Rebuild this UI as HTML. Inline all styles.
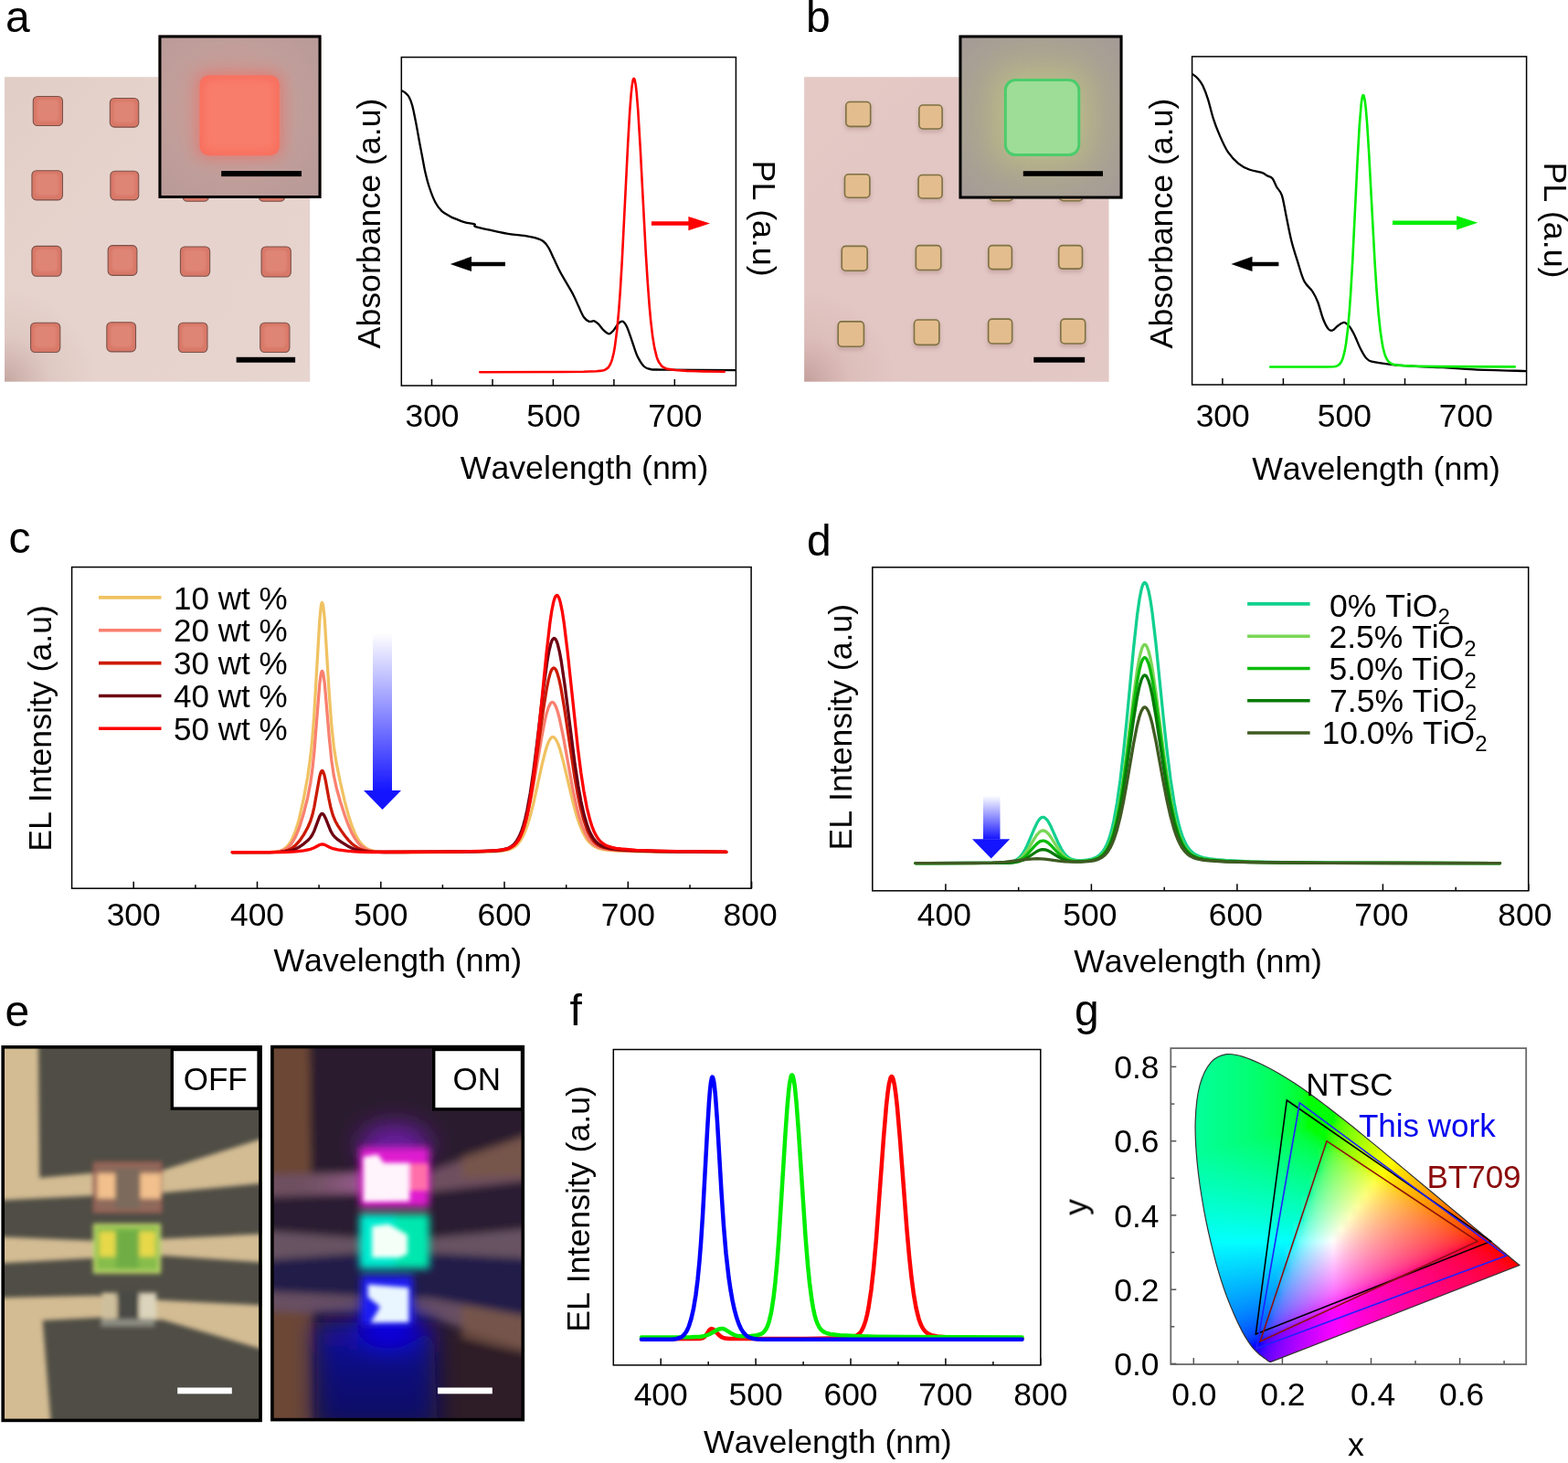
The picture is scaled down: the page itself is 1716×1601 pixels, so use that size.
<!DOCTYPE html>
<html><head><meta charset="utf-8"><title>Figure</title>
<style>
html,body{margin:0;padding:0;background:#fff;}
body{width:1716px;height:1601px;overflow:hidden;}
svg{display:block;}
text{font-family:'Liberation Sans', Arial, Helvetica, sans-serif;font-kerning:none;}
</style></head><body>
<svg width="1716" height="1601" viewBox="0 0 1716 1601">
<defs>
<filter id="bl1" x="-20%" y="-20%" width="140%" height="140%"><feGaussianBlur stdDeviation="1"/></filter>
<filter id="bl2" x="-30%" y="-30%" width="160%" height="160%"><feGaussianBlur stdDeviation="2"/></filter>
<filter id="bl4" x="-50%" y="-50%" width="200%" height="200%"><feGaussianBlur stdDeviation="4"/></filter>
<filter id="bl8" x="-50%" y="-50%" width="200%" height="200%"><feGaussianBlur stdDeviation="8"/></filter>
<filter id="bl15" x="-80%" y="-80%" width="260%" height="260%"><feGaussianBlur stdDeviation="15"/></filter>
<linearGradient id="arrowc" x1="0" y1="0" x2="0" y2="1"><stop offset="0" stop-color="#2020ff" stop-opacity="0"/><stop offset="1" stop-color="#1414ff" stop-opacity="1"/></linearGradient>
<radialGradient id="vigA" cx="0" cy="1" r="0.3"><stop offset="0" stop-color="#8a5550" stop-opacity="0.35"/><stop offset="0.5" stop-color="#a06a66" stop-opacity="0.1"/><stop offset="1" stop-color="#a06a66" stop-opacity="0"/></radialGradient>
<linearGradient id="photoAgrad" x1="0" y1="0" x2="1" y2="1"><stop offset="0" stop-color="#dccabf" stop-opacity="0.6"/><stop offset="0.5" stop-color="#e6d3cc" stop-opacity="0"/><stop offset="1" stop-color="#e8d6d0" stop-opacity="0.6"/></linearGradient>
<radialGradient id="insAg" cx="0.45" cy="0.45" r="0.7"><stop offset="0" stop-color="#d09a94"/><stop offset="0.6" stop-color="#c09e9a"/><stop offset="1" stop-color="#b89a98"/></radialGradient>
<linearGradient id="photoBgrad" x1="0" y1="0" x2="1" y2="1"><stop offset="0" stop-color="#e6cdc8" stop-opacity="0.6"/><stop offset="0.5" stop-color="#dfc3c1" stop-opacity="0"/><stop offset="1" stop-color="#e3cbc8" stop-opacity="0.6"/></linearGradient>
<radialGradient id="insBg" cx="0.5" cy="0.5" r="0.7"><stop offset="0" stop-color="#b9b48e"/><stop offset="0.45" stop-color="#aca68f"/><stop offset="1" stop-color="#a59a98"/></radialGradient>
<linearGradient id="blueglow" x1="0" y1="0" x2="0" y2="1"><stop offset="0" stop-color="#1408a8"/><stop offset="0.4" stop-color="#100a80"/><stop offset="1" stop-color="#0e0a5e"/></linearGradient>
<linearGradient id="pinkband" gradientUnits="userSpaceOnUse" x1="100" y1="0" x2="400" y2="0"><stop offset="0" stop-color="#6e5060" stop-opacity="0"/><stop offset="1" stop-color="#9a5a90"/></linearGradient>
<filter id="bz6" x="-50%" y="-50%" width="200%" height="200%"><feGaussianBlur stdDeviation="6"/></filter>
<filter id="bz10" x="-50%" y="-50%" width="200%" height="200%"><feGaussianBlur stdDeviation="10"/></filter>
<filter id="bz16" x="-50%" y="-50%" width="200%" height="200%"><feGaussianBlur stdDeviation="16"/></filter>
<filter id="bz28" x="-50%" y="-50%" width="200%" height="200%"><feGaussianBlur stdDeviation="28"/></filter>
<filter id="bz50" x="-50%" y="-50%" width="200%" height="200%"><feGaussianBlur stdDeviation="50"/></filter>
<clipPath id="cieclip"><path d="M1390.8 1490.4 C1390.8 1490.4 1390.8 1490.4 1390.8 1490.4 C1390.8 1490.4 1390.7 1490.4 1390.7 1490.4 C1390.6 1490.4 1390.6 1490.4 1390.6 1490.4 C1390.5 1490.4 1390.5 1490.4 1390.4 1490.5 C1390.4 1490.5 1390.3 1490.5 1390.3 1490.5 C1390.2 1490.5 1390.2 1490.5 1390.1 1490.5 C1390 1490.5 1390 1490.5 1389.9 1490.5 C1389.8 1490.4 1389.7 1490.4 1389.5 1490.3 C1389.4 1490.3 1389.2 1490.2 1389 1490 C1388.8 1489.9 1388.6 1489.8 1388.3 1489.6 C1388 1489.4 1387.7 1489.2 1387.3 1488.9 C1387 1488.6 1386.6 1488.3 1386.1 1488 C1385.6 1487.6 1385.1 1487.3 1384.5 1486.8 C1383.9 1486.3 1383.1 1485.8 1382.3 1485.2 C1381.5 1484.6 1380.6 1484 1379.6 1483.2 C1378.6 1482.4 1377.5 1481.5 1376.2 1480.3 C1375 1479.2 1373.7 1478.1 1372.1 1476.2 C1370.5 1474.3 1368.6 1472.1 1366.6 1468.9 C1364.5 1465.7 1362.2 1462.2 1359.5 1457.1 C1356.9 1452.1 1353.9 1446.2 1350.6 1438.5 C1347.3 1430.8 1343.4 1421.9 1339.7 1410.9 C1335.9 1399.9 1332 1386.9 1328.3 1372.6 C1324.7 1358.2 1320.7 1341.2 1317.7 1324.8 C1314.7 1308.3 1311.9 1290.1 1310.3 1273.7 C1308.7 1257.3 1307.7 1240.8 1308.2 1226.4 C1308.7 1212.1 1310.2 1198.3 1313 1187.7 C1315.9 1177 1320.3 1168.2 1325.2 1162.6 C1330.1 1156.9 1336.3 1154.7 1342.4 1153.7 C1348.5 1152.7 1355.2 1154.9 1361.7 1156.8 C1368.2 1158.7 1375 1162 1381.4 1165 C1387.8 1168.1 1393.9 1171.4 1400 1174.9 C1406 1178.4 1411.9 1182.1 1417.8 1186 C1423.7 1189.9 1429.5 1194 1435.3 1198.2 C1441.2 1202.4 1446.9 1206.8 1452.7 1211.2 C1458.5 1215.6 1464.3 1220.2 1470.1 1224.8 C1475.8 1229.3 1481.7 1234 1487.4 1238.7 C1493.2 1243.4 1499 1248.2 1504.7 1252.9 C1510.5 1257.6 1516.2 1262.4 1521.9 1267.1 C1527.6 1271.8 1533.2 1276.5 1538.8 1281.1 C1544.3 1285.7 1549.8 1290.3 1555.1 1294.7 C1560.5 1299.2 1565.7 1303.6 1570.8 1307.8 C1575.9 1312 1580.9 1316.2 1585.6 1320.1 C1590.3 1324 1594.8 1327.8 1599 1331.3 C1603.2 1334.8 1607 1338 1610.7 1341.1 C1614.4 1344.1 1617.9 1347.1 1621 1349.7 C1624.1 1352.3 1627 1354.6 1629.5 1356.7 C1632.1 1358.9 1634.4 1360.8 1636.5 1362.5 C1638.6 1364.3 1640.4 1365.8 1642 1367.2 C1643.7 1368.5 1645.1 1369.7 1646.4 1370.8 C1647.8 1371.9 1648.9 1372.9 1650 1373.8 C1651.1 1374.7 1652 1375.5 1652.9 1376.3 C1653.8 1377 1654.6 1377.7 1655.4 1378.3 C1656.1 1378.9 1656.8 1379.4 1657.3 1379.9 C1657.9 1380.3 1658.3 1380.7 1658.8 1381.1 C1659.2 1381.5 1659.6 1381.8 1659.9 1382 C1660.2 1382.3 1660.5 1382.5 1660.7 1382.7 C1660.9 1382.9 1661.1 1383 1661.2 1383.2 C1661.4 1383.3 1661.5 1383.4 1661.7 1383.5 C1661.9 1383.7 1662.1 1383.9 1662.4 1384.1 C1662.6 1384.3 1662.9 1384.5 1663 1384.6 Z"/></clipPath>
<linearGradient id="cg0" gradientUnits="userSpaceOnUse" x1="1306.3" y1="0" x2="1665.6" y2="0"><stop offset="0.000" stop-color="#00ff99"/><stop offset="0.025" stop-color="#00ff94"/><stop offset="0.050" stop-color="#00ff8f"/><stop offset="0.075" stop-color="#00ff89"/><stop offset="0.100" stop-color="#00ff84"/><stop offset="0.125" stop-color="#00ff7d"/><stop offset="0.150" stop-color="#00ff77"/><stop offset="0.175" stop-color="#00ff70"/><stop offset="0.200" stop-color="#00ff68"/><stop offset="0.225" stop-color="#00ff5f"/><stop offset="0.250" stop-color="#00ff56"/><stop offset="0.275" stop-color="#00ff4b"/><stop offset="0.300" stop-color="#00ff3d"/><stop offset="0.325" stop-color="#00ff2b"/><stop offset="0.350" stop-color="#00ff04"/><stop offset="0.375" stop-color="#00ff00"/><stop offset="0.400" stop-color="#00ff00"/><stop offset="0.425" stop-color="#00ff00"/><stop offset="0.450" stop-color="#00ff00"/><stop offset="0.475" stop-color="#00ff00"/><stop offset="0.500" stop-color="#1fff00"/><stop offset="0.525" stop-color="#4cff00"/><stop offset="0.550" stop-color="#66ff00"/><stop offset="0.575" stop-color="#7aff00"/><stop offset="0.600" stop-color="#8bff00"/><stop offset="0.625" stop-color="#9bff00"/><stop offset="0.650" stop-color="#a9ff00"/><stop offset="0.675" stop-color="#b6ff00"/><stop offset="0.700" stop-color="#c2ff00"/><stop offset="0.725" stop-color="#ceff00"/><stop offset="0.750" stop-color="#daff00"/><stop offset="0.775" stop-color="#e5ff00"/><stop offset="0.800" stop-color="#efff00"/><stop offset="0.825" stop-color="#faff00"/><stop offset="0.850" stop-color="#fffa00"/><stop offset="0.875" stop-color="#fff000"/><stop offset="0.900" stop-color="#ffe800"/><stop offset="0.925" stop-color="#ffdf00"/><stop offset="0.950" stop-color="#ffd800"/><stop offset="0.975" stop-color="#ffd100"/><stop offset="1.000" stop-color="#ffca00"/></linearGradient>
<linearGradient id="cg1" gradientUnits="userSpaceOnUse" x1="1306.3" y1="0" x2="1665.6" y2="0"><stop offset="0.000" stop-color="#00ff99"/><stop offset="0.025" stop-color="#00ff94"/><stop offset="0.050" stop-color="#00ff8f"/><stop offset="0.075" stop-color="#00ff89"/><stop offset="0.100" stop-color="#00ff84"/><stop offset="0.125" stop-color="#00ff7d"/><stop offset="0.150" stop-color="#00ff77"/><stop offset="0.175" stop-color="#00ff70"/><stop offset="0.200" stop-color="#00ff68"/><stop offset="0.225" stop-color="#00ff5f"/><stop offset="0.250" stop-color="#00ff56"/><stop offset="0.275" stop-color="#00ff4b"/><stop offset="0.300" stop-color="#00ff3d"/><stop offset="0.325" stop-color="#00ff2b"/><stop offset="0.350" stop-color="#00ff04"/><stop offset="0.375" stop-color="#00ff00"/><stop offset="0.400" stop-color="#00ff00"/><stop offset="0.425" stop-color="#00ff00"/><stop offset="0.450" stop-color="#00ff00"/><stop offset="0.475" stop-color="#00ff00"/><stop offset="0.500" stop-color="#27ff00"/><stop offset="0.525" stop-color="#50ff00"/><stop offset="0.550" stop-color="#69ff00"/><stop offset="0.575" stop-color="#7dff00"/><stop offset="0.600" stop-color="#8eff00"/><stop offset="0.625" stop-color="#9dff00"/><stop offset="0.650" stop-color="#abff00"/><stop offset="0.675" stop-color="#b8ff00"/><stop offset="0.700" stop-color="#c5ff00"/><stop offset="0.725" stop-color="#d0ff00"/><stop offset="0.750" stop-color="#dcff00"/><stop offset="0.775" stop-color="#e7ff00"/><stop offset="0.800" stop-color="#f2ff00"/><stop offset="0.825" stop-color="#fcff00"/><stop offset="0.850" stop-color="#fff700"/><stop offset="0.875" stop-color="#ffee00"/><stop offset="0.900" stop-color="#ffe500"/><stop offset="0.925" stop-color="#ffdd00"/><stop offset="0.950" stop-color="#ffd600"/><stop offset="0.975" stop-color="#ffcf00"/><stop offset="1.000" stop-color="#ffc800"/></linearGradient>
<linearGradient id="cg2" gradientUnits="userSpaceOnUse" x1="1306.3" y1="0" x2="1665.6" y2="0"><stop offset="0.000" stop-color="#00ff99"/><stop offset="0.025" stop-color="#00ff94"/><stop offset="0.050" stop-color="#00ff8f"/><stop offset="0.075" stop-color="#00ff89"/><stop offset="0.100" stop-color="#00ff84"/><stop offset="0.125" stop-color="#00ff7d"/><stop offset="0.150" stop-color="#00ff77"/><stop offset="0.175" stop-color="#00ff70"/><stop offset="0.200" stop-color="#00ff68"/><stop offset="0.225" stop-color="#00ff5f"/><stop offset="0.250" stop-color="#00ff56"/><stop offset="0.275" stop-color="#00ff4b"/><stop offset="0.300" stop-color="#00ff3d"/><stop offset="0.325" stop-color="#00ff2b"/><stop offset="0.350" stop-color="#00ff04"/><stop offset="0.375" stop-color="#00ff00"/><stop offset="0.400" stop-color="#00ff00"/><stop offset="0.425" stop-color="#00ff00"/><stop offset="0.450" stop-color="#00ff00"/><stop offset="0.475" stop-color="#00ff00"/><stop offset="0.500" stop-color="#2eff00"/><stop offset="0.525" stop-color="#53ff00"/><stop offset="0.550" stop-color="#6cff00"/><stop offset="0.575" stop-color="#7fff00"/><stop offset="0.600" stop-color="#90ff00"/><stop offset="0.625" stop-color="#a0ff00"/><stop offset="0.650" stop-color="#adff00"/><stop offset="0.675" stop-color="#bbff00"/><stop offset="0.700" stop-color="#c7ff00"/><stop offset="0.725" stop-color="#d3ff00"/><stop offset="0.750" stop-color="#deff00"/><stop offset="0.775" stop-color="#e9ff00"/><stop offset="0.800" stop-color="#f4ff00"/><stop offset="0.825" stop-color="#ffff00"/><stop offset="0.850" stop-color="#fff500"/><stop offset="0.875" stop-color="#ffec00"/><stop offset="0.900" stop-color="#ffe300"/><stop offset="0.925" stop-color="#ffdb00"/><stop offset="0.950" stop-color="#ffd400"/><stop offset="0.975" stop-color="#ffcd00"/><stop offset="1.000" stop-color="#ffc600"/></linearGradient>
<linearGradient id="cg3" gradientUnits="userSpaceOnUse" x1="1306.3" y1="0" x2="1665.6" y2="0"><stop offset="0.000" stop-color="#00ff99"/><stop offset="0.025" stop-color="#00ff94"/><stop offset="0.050" stop-color="#00ff8f"/><stop offset="0.075" stop-color="#00ff89"/><stop offset="0.100" stop-color="#00ff84"/><stop offset="0.125" stop-color="#00ff7d"/><stop offset="0.150" stop-color="#00ff77"/><stop offset="0.175" stop-color="#00ff70"/><stop offset="0.200" stop-color="#00ff68"/><stop offset="0.225" stop-color="#00ff5f"/><stop offset="0.250" stop-color="#00ff56"/><stop offset="0.275" stop-color="#00ff4b"/><stop offset="0.300" stop-color="#00ff3d"/><stop offset="0.325" stop-color="#00ff2b"/><stop offset="0.350" stop-color="#00ff04"/><stop offset="0.375" stop-color="#00ff00"/><stop offset="0.400" stop-color="#00ff00"/><stop offset="0.425" stop-color="#00ff00"/><stop offset="0.450" stop-color="#00ff00"/><stop offset="0.475" stop-color="#00ff00"/><stop offset="0.500" stop-color="#34ff00"/><stop offset="0.525" stop-color="#57ff00"/><stop offset="0.550" stop-color="#6fff00"/><stop offset="0.575" stop-color="#82ff00"/><stop offset="0.600" stop-color="#93ff00"/><stop offset="0.625" stop-color="#a2ff00"/><stop offset="0.650" stop-color="#b0ff00"/><stop offset="0.675" stop-color="#bdff00"/><stop offset="0.700" stop-color="#c9ff00"/><stop offset="0.725" stop-color="#d5ff00"/><stop offset="0.750" stop-color="#e1ff00"/><stop offset="0.775" stop-color="#ecff00"/><stop offset="0.800" stop-color="#f7ff00"/><stop offset="0.825" stop-color="#fffd00"/><stop offset="0.850" stop-color="#fff300"/><stop offset="0.875" stop-color="#ffe900"/><stop offset="0.900" stop-color="#ffe100"/><stop offset="0.925" stop-color="#ffd900"/><stop offset="0.950" stop-color="#ffd200"/><stop offset="0.975" stop-color="#ffcb00"/><stop offset="1.000" stop-color="#ffc400"/></linearGradient>
<linearGradient id="cg4" gradientUnits="userSpaceOnUse" x1="1306.3" y1="0" x2="1665.6" y2="0"><stop offset="0.000" stop-color="#00ff99"/><stop offset="0.025" stop-color="#00ff94"/><stop offset="0.050" stop-color="#00ff8f"/><stop offset="0.075" stop-color="#00ff89"/><stop offset="0.100" stop-color="#00ff84"/><stop offset="0.125" stop-color="#00ff7d"/><stop offset="0.150" stop-color="#00ff77"/><stop offset="0.175" stop-color="#00ff70"/><stop offset="0.200" stop-color="#00ff68"/><stop offset="0.225" stop-color="#00ff5f"/><stop offset="0.250" stop-color="#00ff56"/><stop offset="0.275" stop-color="#00ff4b"/><stop offset="0.300" stop-color="#00ff3d"/><stop offset="0.325" stop-color="#00ff2b"/><stop offset="0.350" stop-color="#00ff04"/><stop offset="0.375" stop-color="#00ff00"/><stop offset="0.400" stop-color="#00ff00"/><stop offset="0.425" stop-color="#00ff00"/><stop offset="0.450" stop-color="#00ff00"/><stop offset="0.475" stop-color="#00ff00"/><stop offset="0.500" stop-color="#39ff00"/><stop offset="0.525" stop-color="#5aff00"/><stop offset="0.550" stop-color="#72ff00"/><stop offset="0.575" stop-color="#85ff00"/><stop offset="0.600" stop-color="#95ff00"/><stop offset="0.625" stop-color="#a4ff00"/><stop offset="0.650" stop-color="#b2ff00"/><stop offset="0.675" stop-color="#bfff00"/><stop offset="0.700" stop-color="#ccff00"/><stop offset="0.725" stop-color="#d8ff00"/><stop offset="0.750" stop-color="#e3ff00"/><stop offset="0.775" stop-color="#eeff00"/><stop offset="0.800" stop-color="#f9ff00"/><stop offset="0.825" stop-color="#fffa00"/><stop offset="0.850" stop-color="#fff000"/><stop offset="0.875" stop-color="#ffe700"/><stop offset="0.900" stop-color="#ffdf00"/><stop offset="0.925" stop-color="#ffd700"/><stop offset="0.950" stop-color="#ffd000"/><stop offset="0.975" stop-color="#ffc900"/><stop offset="1.000" stop-color="#ffc200"/></linearGradient>
<linearGradient id="cg5" gradientUnits="userSpaceOnUse" x1="1306.3" y1="0" x2="1665.6" y2="0"><stop offset="0.000" stop-color="#00ff99"/><stop offset="0.025" stop-color="#00ff94"/><stop offset="0.050" stop-color="#00ff8f"/><stop offset="0.075" stop-color="#00ff89"/><stop offset="0.100" stop-color="#00ff84"/><stop offset="0.125" stop-color="#00ff7d"/><stop offset="0.150" stop-color="#00ff77"/><stop offset="0.175" stop-color="#00ff70"/><stop offset="0.200" stop-color="#00ff68"/><stop offset="0.225" stop-color="#00ff5f"/><stop offset="0.250" stop-color="#00ff56"/><stop offset="0.275" stop-color="#00ff4b"/><stop offset="0.300" stop-color="#00ff3d"/><stop offset="0.325" stop-color="#00ff2b"/><stop offset="0.350" stop-color="#00ff04"/><stop offset="0.375" stop-color="#00ff00"/><stop offset="0.400" stop-color="#00ff00"/><stop offset="0.425" stop-color="#00ff00"/><stop offset="0.450" stop-color="#00ff00"/><stop offset="0.475" stop-color="#00ff00"/><stop offset="0.500" stop-color="#3eff00"/><stop offset="0.525" stop-color="#5eff00"/><stop offset="0.550" stop-color="#74ff00"/><stop offset="0.575" stop-color="#87ff00"/><stop offset="0.600" stop-color="#98ff00"/><stop offset="0.625" stop-color="#a7ff00"/><stop offset="0.650" stop-color="#b5ff00"/><stop offset="0.675" stop-color="#c2ff00"/><stop offset="0.700" stop-color="#ceff00"/><stop offset="0.725" stop-color="#daff00"/><stop offset="0.750" stop-color="#e6ff00"/><stop offset="0.775" stop-color="#f1ff00"/><stop offset="0.800" stop-color="#fcff00"/><stop offset="0.825" stop-color="#fff700"/><stop offset="0.850" stop-color="#ffee00"/><stop offset="0.875" stop-color="#ffe500"/><stop offset="0.900" stop-color="#ffdc00"/><stop offset="0.925" stop-color="#ffd500"/><stop offset="0.950" stop-color="#ffcd00"/><stop offset="0.975" stop-color="#ffc700"/><stop offset="1.000" stop-color="#ffc000"/></linearGradient>
<linearGradient id="cg6" gradientUnits="userSpaceOnUse" x1="1306.3" y1="0" x2="1665.6" y2="0"><stop offset="0.000" stop-color="#00ff99"/><stop offset="0.025" stop-color="#00ff94"/><stop offset="0.050" stop-color="#00ff8f"/><stop offset="0.075" stop-color="#00ff89"/><stop offset="0.100" stop-color="#00ff84"/><stop offset="0.125" stop-color="#00ff7d"/><stop offset="0.150" stop-color="#00ff77"/><stop offset="0.175" stop-color="#00ff70"/><stop offset="0.200" stop-color="#00ff68"/><stop offset="0.225" stop-color="#00ff5f"/><stop offset="0.250" stop-color="#00ff56"/><stop offset="0.275" stop-color="#00ff4b"/><stop offset="0.300" stop-color="#00ff3d"/><stop offset="0.325" stop-color="#00ff2b"/><stop offset="0.350" stop-color="#00ff04"/><stop offset="0.375" stop-color="#00ff00"/><stop offset="0.400" stop-color="#00ff00"/><stop offset="0.425" stop-color="#00ff00"/><stop offset="0.450" stop-color="#00ff00"/><stop offset="0.475" stop-color="#00ff00"/><stop offset="0.500" stop-color="#43ff00"/><stop offset="0.525" stop-color="#61ff00"/><stop offset="0.550" stop-color="#77ff00"/><stop offset="0.575" stop-color="#8aff00"/><stop offset="0.600" stop-color="#9aff00"/><stop offset="0.625" stop-color="#a9ff00"/><stop offset="0.650" stop-color="#b7ff00"/><stop offset="0.675" stop-color="#c4ff00"/><stop offset="0.700" stop-color="#d1ff00"/><stop offset="0.725" stop-color="#dcff00"/><stop offset="0.750" stop-color="#e8ff00"/><stop offset="0.775" stop-color="#f3ff00"/><stop offset="0.800" stop-color="#ffff00"/><stop offset="0.825" stop-color="#fff500"/><stop offset="0.850" stop-color="#ffeb00"/><stop offset="0.875" stop-color="#ffe200"/><stop offset="0.900" stop-color="#ffda00"/><stop offset="0.925" stop-color="#ffd300"/><stop offset="0.950" stop-color="#ffcb00"/><stop offset="0.975" stop-color="#ffc500"/><stop offset="1.000" stop-color="#ffbe00"/></linearGradient>
<linearGradient id="cg7" gradientUnits="userSpaceOnUse" x1="1306.3" y1="0" x2="1665.6" y2="0"><stop offset="0.000" stop-color="#00ff99"/><stop offset="0.025" stop-color="#00ff94"/><stop offset="0.050" stop-color="#00ff8f"/><stop offset="0.075" stop-color="#00ff89"/><stop offset="0.100" stop-color="#00ff84"/><stop offset="0.125" stop-color="#00ff7d"/><stop offset="0.150" stop-color="#00ff77"/><stop offset="0.175" stop-color="#00ff70"/><stop offset="0.200" stop-color="#00ff68"/><stop offset="0.225" stop-color="#00ff5f"/><stop offset="0.250" stop-color="#00ff56"/><stop offset="0.275" stop-color="#00ff4b"/><stop offset="0.300" stop-color="#00ff3d"/><stop offset="0.325" stop-color="#00ff2b"/><stop offset="0.350" stop-color="#00ff04"/><stop offset="0.375" stop-color="#00ff00"/><stop offset="0.400" stop-color="#00ff00"/><stop offset="0.425" stop-color="#00ff00"/><stop offset="0.450" stop-color="#00ff00"/><stop offset="0.475" stop-color="#02ff00"/><stop offset="0.500" stop-color="#47ff00"/><stop offset="0.525" stop-color="#64ff00"/><stop offset="0.550" stop-color="#7aff00"/><stop offset="0.575" stop-color="#8cff00"/><stop offset="0.600" stop-color="#9dff00"/><stop offset="0.625" stop-color="#acff00"/><stop offset="0.650" stop-color="#b9ff00"/><stop offset="0.675" stop-color="#c6ff00"/><stop offset="0.700" stop-color="#d3ff00"/><stop offset="0.725" stop-color="#dfff00"/><stop offset="0.750" stop-color="#ebff00"/><stop offset="0.775" stop-color="#f6ff00"/><stop offset="0.800" stop-color="#fffd00"/><stop offset="0.825" stop-color="#fff200"/><stop offset="0.850" stop-color="#ffe900"/><stop offset="0.875" stop-color="#ffe000"/><stop offset="0.900" stop-color="#ffd800"/><stop offset="0.925" stop-color="#ffd000"/><stop offset="0.950" stop-color="#ffc900"/><stop offset="0.975" stop-color="#ffc300"/><stop offset="1.000" stop-color="#ffbc00"/></linearGradient>
<linearGradient id="cg8" gradientUnits="userSpaceOnUse" x1="1306.3" y1="0" x2="1665.6" y2="0"><stop offset="0.000" stop-color="#00ff99"/><stop offset="0.025" stop-color="#00ff94"/><stop offset="0.050" stop-color="#00ff8f"/><stop offset="0.075" stop-color="#00ff89"/><stop offset="0.100" stop-color="#00ff84"/><stop offset="0.125" stop-color="#00ff7d"/><stop offset="0.150" stop-color="#00ff77"/><stop offset="0.175" stop-color="#00ff70"/><stop offset="0.200" stop-color="#00ff68"/><stop offset="0.225" stop-color="#00ff5f"/><stop offset="0.250" stop-color="#00ff56"/><stop offset="0.275" stop-color="#00ff4b"/><stop offset="0.300" stop-color="#00ff3d"/><stop offset="0.325" stop-color="#00ff2b"/><stop offset="0.350" stop-color="#00ff04"/><stop offset="0.375" stop-color="#00ff00"/><stop offset="0.400" stop-color="#00ff00"/><stop offset="0.425" stop-color="#00ff00"/><stop offset="0.450" stop-color="#00ff00"/><stop offset="0.475" stop-color="#15ff00"/><stop offset="0.500" stop-color="#4bff00"/><stop offset="0.525" stop-color="#67ff00"/><stop offset="0.550" stop-color="#7dff00"/><stop offset="0.575" stop-color="#8fff00"/><stop offset="0.600" stop-color="#9fff00"/><stop offset="0.625" stop-color="#aeff00"/><stop offset="0.650" stop-color="#bcff00"/><stop offset="0.675" stop-color="#c9ff00"/><stop offset="0.700" stop-color="#d5ff00"/><stop offset="0.725" stop-color="#e2ff00"/><stop offset="0.750" stop-color="#edff00"/><stop offset="0.775" stop-color="#f9ff00"/><stop offset="0.800" stop-color="#fffa00"/><stop offset="0.825" stop-color="#fff000"/><stop offset="0.850" stop-color="#ffe600"/><stop offset="0.875" stop-color="#ffde00"/><stop offset="0.900" stop-color="#ffd600"/><stop offset="0.925" stop-color="#ffce00"/><stop offset="0.950" stop-color="#ffc700"/><stop offset="0.975" stop-color="#ffc100"/><stop offset="1.000" stop-color="#ffba00"/></linearGradient>
<linearGradient id="cg9" gradientUnits="userSpaceOnUse" x1="1306.3" y1="0" x2="1665.6" y2="0"><stop offset="0.000" stop-color="#00ff99"/><stop offset="0.025" stop-color="#00ff94"/><stop offset="0.050" stop-color="#00ff8f"/><stop offset="0.075" stop-color="#00ff89"/><stop offset="0.100" stop-color="#00ff84"/><stop offset="0.125" stop-color="#00ff7d"/><stop offset="0.150" stop-color="#00ff77"/><stop offset="0.175" stop-color="#00ff70"/><stop offset="0.200" stop-color="#00ff68"/><stop offset="0.225" stop-color="#00ff5f"/><stop offset="0.250" stop-color="#00ff56"/><stop offset="0.275" stop-color="#00ff4b"/><stop offset="0.300" stop-color="#00ff3d"/><stop offset="0.325" stop-color="#00ff2b"/><stop offset="0.350" stop-color="#00ff04"/><stop offset="0.375" stop-color="#00ff00"/><stop offset="0.400" stop-color="#00ff00"/><stop offset="0.425" stop-color="#00ff00"/><stop offset="0.450" stop-color="#00ff00"/><stop offset="0.475" stop-color="#20ff00"/><stop offset="0.500" stop-color="#4fff00"/><stop offset="0.525" stop-color="#6bff00"/><stop offset="0.550" stop-color="#80ff00"/><stop offset="0.575" stop-color="#92ff00"/><stop offset="0.600" stop-color="#a2ff00"/><stop offset="0.625" stop-color="#b1ff00"/><stop offset="0.650" stop-color="#beff00"/><stop offset="0.675" stop-color="#cbff00"/><stop offset="0.700" stop-color="#d8ff00"/><stop offset="0.725" stop-color="#e4ff00"/><stop offset="0.750" stop-color="#f0ff00"/><stop offset="0.775" stop-color="#fbff00"/><stop offset="0.800" stop-color="#fff800"/><stop offset="0.825" stop-color="#ffed00"/><stop offset="0.850" stop-color="#ffe400"/><stop offset="0.875" stop-color="#ffdb00"/><stop offset="0.900" stop-color="#ffd300"/><stop offset="0.925" stop-color="#ffcc00"/><stop offset="0.950" stop-color="#ffc500"/><stop offset="0.975" stop-color="#ffbe00"/><stop offset="1.000" stop-color="#ffb800"/></linearGradient>
<linearGradient id="cg10" gradientUnits="userSpaceOnUse" x1="1306.3" y1="0" x2="1665.6" y2="0"><stop offset="0.000" stop-color="#00ff99"/><stop offset="0.025" stop-color="#00ff94"/><stop offset="0.050" stop-color="#00ff8f"/><stop offset="0.075" stop-color="#00ff89"/><stop offset="0.100" stop-color="#00ff84"/><stop offset="0.125" stop-color="#00ff7d"/><stop offset="0.150" stop-color="#00ff77"/><stop offset="0.175" stop-color="#00ff70"/><stop offset="0.200" stop-color="#00ff68"/><stop offset="0.225" stop-color="#00ff5f"/><stop offset="0.250" stop-color="#00ff56"/><stop offset="0.275" stop-color="#00ff4b"/><stop offset="0.300" stop-color="#00ff3d"/><stop offset="0.325" stop-color="#00ff2b"/><stop offset="0.350" stop-color="#00ff04"/><stop offset="0.375" stop-color="#00ff00"/><stop offset="0.400" stop-color="#00ff00"/><stop offset="0.425" stop-color="#00ff00"/><stop offset="0.450" stop-color="#00ff00"/><stop offset="0.475" stop-color="#29ff00"/><stop offset="0.500" stop-color="#53ff00"/><stop offset="0.525" stop-color="#6eff00"/><stop offset="0.550" stop-color="#82ff00"/><stop offset="0.575" stop-color="#94ff00"/><stop offset="0.600" stop-color="#a4ff00"/><stop offset="0.625" stop-color="#b3ff00"/><stop offset="0.650" stop-color="#c1ff00"/><stop offset="0.675" stop-color="#ceff00"/><stop offset="0.700" stop-color="#dbff00"/><stop offset="0.725" stop-color="#e7ff00"/><stop offset="0.750" stop-color="#f3ff00"/><stop offset="0.775" stop-color="#feff00"/><stop offset="0.800" stop-color="#fff500"/><stop offset="0.825" stop-color="#ffeb00"/><stop offset="0.850" stop-color="#ffe200"/><stop offset="0.875" stop-color="#ffd900"/><stop offset="0.900" stop-color="#ffd100"/><stop offset="0.925" stop-color="#ffca00"/><stop offset="0.950" stop-color="#ffc300"/><stop offset="0.975" stop-color="#ffbc00"/><stop offset="1.000" stop-color="#ffb600"/></linearGradient>
<linearGradient id="cg11" gradientUnits="userSpaceOnUse" x1="1306.3" y1="0" x2="1665.6" y2="0"><stop offset="0.000" stop-color="#00ff99"/><stop offset="0.025" stop-color="#00ff94"/><stop offset="0.050" stop-color="#00ff8f"/><stop offset="0.075" stop-color="#00ff89"/><stop offset="0.100" stop-color="#00ff84"/><stop offset="0.125" stop-color="#00ff7d"/><stop offset="0.150" stop-color="#00ff77"/><stop offset="0.175" stop-color="#00ff70"/><stop offset="0.200" stop-color="#00ff68"/><stop offset="0.225" stop-color="#00ff5f"/><stop offset="0.250" stop-color="#00ff56"/><stop offset="0.275" stop-color="#00ff4b"/><stop offset="0.300" stop-color="#00ff3d"/><stop offset="0.325" stop-color="#00ff2b"/><stop offset="0.350" stop-color="#00ff04"/><stop offset="0.375" stop-color="#00ff00"/><stop offset="0.400" stop-color="#00ff00"/><stop offset="0.425" stop-color="#00ff00"/><stop offset="0.450" stop-color="#00ff00"/><stop offset="0.475" stop-color="#30ff00"/><stop offset="0.500" stop-color="#57ff00"/><stop offset="0.525" stop-color="#71ff00"/><stop offset="0.550" stop-color="#85ff00"/><stop offset="0.575" stop-color="#97ff00"/><stop offset="0.600" stop-color="#a7ff00"/><stop offset="0.625" stop-color="#b6ff00"/><stop offset="0.650" stop-color="#c3ff00"/><stop offset="0.675" stop-color="#d1ff00"/><stop offset="0.700" stop-color="#ddff00"/><stop offset="0.725" stop-color="#e9ff00"/><stop offset="0.750" stop-color="#f5ff00"/><stop offset="0.775" stop-color="#fffd00"/><stop offset="0.800" stop-color="#fff200"/><stop offset="0.825" stop-color="#ffe800"/><stop offset="0.850" stop-color="#ffdf00"/><stop offset="0.875" stop-color="#ffd700"/><stop offset="0.900" stop-color="#ffcf00"/><stop offset="0.925" stop-color="#ffc800"/><stop offset="0.950" stop-color="#ffc100"/><stop offset="0.975" stop-color="#ffba00"/><stop offset="1.000" stop-color="#ffb400"/></linearGradient>
<linearGradient id="cg12" gradientUnits="userSpaceOnUse" x1="1306.3" y1="0" x2="1665.6" y2="0"><stop offset="0.000" stop-color="#00ff99"/><stop offset="0.025" stop-color="#00ff94"/><stop offset="0.050" stop-color="#00ff8f"/><stop offset="0.075" stop-color="#00ff89"/><stop offset="0.100" stop-color="#00ff84"/><stop offset="0.125" stop-color="#00ff7d"/><stop offset="0.150" stop-color="#00ff77"/><stop offset="0.175" stop-color="#00ff70"/><stop offset="0.200" stop-color="#00ff68"/><stop offset="0.225" stop-color="#00ff5f"/><stop offset="0.250" stop-color="#00ff56"/><stop offset="0.275" stop-color="#00ff4b"/><stop offset="0.300" stop-color="#00ff3d"/><stop offset="0.325" stop-color="#00ff2b"/><stop offset="0.350" stop-color="#00ff04"/><stop offset="0.375" stop-color="#00ff00"/><stop offset="0.400" stop-color="#00ff00"/><stop offset="0.425" stop-color="#00ff00"/><stop offset="0.450" stop-color="#00ff00"/><stop offset="0.475" stop-color="#36ff00"/><stop offset="0.500" stop-color="#5bff00"/><stop offset="0.525" stop-color="#74ff00"/><stop offset="0.550" stop-color="#88ff00"/><stop offset="0.575" stop-color="#9aff00"/><stop offset="0.600" stop-color="#a9ff00"/><stop offset="0.625" stop-color="#b8ff00"/><stop offset="0.650" stop-color="#c6ff00"/><stop offset="0.675" stop-color="#d3ff00"/><stop offset="0.700" stop-color="#e0ff00"/><stop offset="0.725" stop-color="#ecff00"/><stop offset="0.750" stop-color="#f8ff00"/><stop offset="0.775" stop-color="#fffa00"/><stop offset="0.800" stop-color="#fff000"/><stop offset="0.825" stop-color="#ffe600"/><stop offset="0.850" stop-color="#ffdd00"/><stop offset="0.875" stop-color="#ffd500"/><stop offset="0.900" stop-color="#ffcd00"/><stop offset="0.925" stop-color="#ffc600"/><stop offset="0.950" stop-color="#ffbf00"/><stop offset="0.975" stop-color="#ffb800"/><stop offset="1.000" stop-color="#ffb200"/></linearGradient>
<linearGradient id="cg13" gradientUnits="userSpaceOnUse" x1="1306.3" y1="0" x2="1665.6" y2="0"><stop offset="0.000" stop-color="#00ff99"/><stop offset="0.025" stop-color="#00ff94"/><stop offset="0.050" stop-color="#00ff8f"/><stop offset="0.075" stop-color="#00ff89"/><stop offset="0.100" stop-color="#00ff84"/><stop offset="0.125" stop-color="#00ff7d"/><stop offset="0.150" stop-color="#00ff77"/><stop offset="0.175" stop-color="#00ff70"/><stop offset="0.200" stop-color="#00ff68"/><stop offset="0.225" stop-color="#00ff5f"/><stop offset="0.250" stop-color="#00ff56"/><stop offset="0.275" stop-color="#00ff4b"/><stop offset="0.300" stop-color="#00ff3d"/><stop offset="0.325" stop-color="#00ff2b"/><stop offset="0.350" stop-color="#00ff04"/><stop offset="0.375" stop-color="#00ff00"/><stop offset="0.400" stop-color="#00ff00"/><stop offset="0.425" stop-color="#00ff00"/><stop offset="0.450" stop-color="#00ff00"/><stop offset="0.475" stop-color="#3cff00"/><stop offset="0.500" stop-color="#5eff00"/><stop offset="0.525" stop-color="#77ff00"/><stop offset="0.550" stop-color="#8bff00"/><stop offset="0.575" stop-color="#9cff00"/><stop offset="0.600" stop-color="#acff00"/><stop offset="0.625" stop-color="#bbff00"/><stop offset="0.650" stop-color="#c9ff00"/><stop offset="0.675" stop-color="#d6ff00"/><stop offset="0.700" stop-color="#e2ff00"/><stop offset="0.725" stop-color="#efff00"/><stop offset="0.750" stop-color="#fbff00"/><stop offset="0.775" stop-color="#fff800"/><stop offset="0.800" stop-color="#ffed00"/><stop offset="0.825" stop-color="#ffe300"/><stop offset="0.850" stop-color="#ffda00"/><stop offset="0.875" stop-color="#ffd200"/><stop offset="0.900" stop-color="#ffcb00"/><stop offset="0.925" stop-color="#ffc300"/><stop offset="0.950" stop-color="#ffbd00"/><stop offset="0.975" stop-color="#ffb600"/><stop offset="1.000" stop-color="#ffb000"/></linearGradient>
<linearGradient id="cg14" gradientUnits="userSpaceOnUse" x1="1306.3" y1="0" x2="1665.6" y2="0"><stop offset="0.000" stop-color="#00ff99"/><stop offset="0.025" stop-color="#00ff94"/><stop offset="0.050" stop-color="#00ff8f"/><stop offset="0.075" stop-color="#00ff89"/><stop offset="0.100" stop-color="#00ff84"/><stop offset="0.125" stop-color="#00ff7d"/><stop offset="0.150" stop-color="#00ff77"/><stop offset="0.175" stop-color="#00ff70"/><stop offset="0.200" stop-color="#00ff68"/><stop offset="0.225" stop-color="#00ff5f"/><stop offset="0.250" stop-color="#00ff56"/><stop offset="0.275" stop-color="#00ff4b"/><stop offset="0.300" stop-color="#00ff3d"/><stop offset="0.325" stop-color="#00ff2b"/><stop offset="0.350" stop-color="#00ff04"/><stop offset="0.375" stop-color="#00ff00"/><stop offset="0.400" stop-color="#00ff00"/><stop offset="0.425" stop-color="#00ff00"/><stop offset="0.450" stop-color="#00ff00"/><stop offset="0.475" stop-color="#41ff00"/><stop offset="0.500" stop-color="#62ff00"/><stop offset="0.525" stop-color="#7aff00"/><stop offset="0.550" stop-color="#8eff00"/><stop offset="0.575" stop-color="#9fff00"/><stop offset="0.600" stop-color="#afff00"/><stop offset="0.625" stop-color="#bdff00"/><stop offset="0.650" stop-color="#cbff00"/><stop offset="0.675" stop-color="#d8ff00"/><stop offset="0.700" stop-color="#e5ff00"/><stop offset="0.725" stop-color="#f2ff00"/><stop offset="0.750" stop-color="#feff00"/><stop offset="0.775" stop-color="#fff500"/><stop offset="0.800" stop-color="#ffea00"/><stop offset="0.825" stop-color="#ffe100"/><stop offset="0.850" stop-color="#ffd800"/><stop offset="0.875" stop-color="#ffd000"/><stop offset="0.900" stop-color="#ffc800"/><stop offset="0.925" stop-color="#ffc100"/><stop offset="0.950" stop-color="#ffba00"/><stop offset="0.975" stop-color="#ffb400"/><stop offset="1.000" stop-color="#ffae00"/></linearGradient>
<linearGradient id="cg15" gradientUnits="userSpaceOnUse" x1="1306.3" y1="0" x2="1665.6" y2="0"><stop offset="0.000" stop-color="#00ff99"/><stop offset="0.025" stop-color="#00ff94"/><stop offset="0.050" stop-color="#00ff8f"/><stop offset="0.075" stop-color="#00ff89"/><stop offset="0.100" stop-color="#00ff84"/><stop offset="0.125" stop-color="#00ff7d"/><stop offset="0.150" stop-color="#00ff77"/><stop offset="0.175" stop-color="#00ff70"/><stop offset="0.200" stop-color="#00ff68"/><stop offset="0.225" stop-color="#00ff5f"/><stop offset="0.250" stop-color="#00ff56"/><stop offset="0.275" stop-color="#00ff4b"/><stop offset="0.300" stop-color="#00ff3d"/><stop offset="0.325" stop-color="#00ff2b"/><stop offset="0.350" stop-color="#00ff04"/><stop offset="0.375" stop-color="#00ff00"/><stop offset="0.400" stop-color="#00ff00"/><stop offset="0.425" stop-color="#00ff00"/><stop offset="0.450" stop-color="#00ff00"/><stop offset="0.475" stop-color="#46ff00"/><stop offset="0.500" stop-color="#66ff00"/><stop offset="0.525" stop-color="#7dff00"/><stop offset="0.550" stop-color="#90ff00"/><stop offset="0.575" stop-color="#a2ff00"/><stop offset="0.600" stop-color="#b1ff00"/><stop offset="0.625" stop-color="#c0ff00"/><stop offset="0.650" stop-color="#ceff00"/><stop offset="0.675" stop-color="#dbff00"/><stop offset="0.700" stop-color="#e8ff00"/><stop offset="0.725" stop-color="#f4ff00"/><stop offset="0.750" stop-color="#fffd00"/><stop offset="0.775" stop-color="#fff200"/><stop offset="0.800" stop-color="#ffe800"/><stop offset="0.825" stop-color="#ffde00"/><stop offset="0.850" stop-color="#ffd600"/><stop offset="0.875" stop-color="#ffce00"/><stop offset="0.900" stop-color="#ffc600"/><stop offset="0.925" stop-color="#ffbf00"/><stop offset="0.950" stop-color="#ffb800"/><stop offset="0.975" stop-color="#ffb200"/><stop offset="1.000" stop-color="#ffac00"/></linearGradient>
<linearGradient id="cg16" gradientUnits="userSpaceOnUse" x1="1306.3" y1="0" x2="1665.6" y2="0"><stop offset="0.000" stop-color="#00ff99"/><stop offset="0.025" stop-color="#00ff94"/><stop offset="0.050" stop-color="#00ff8f"/><stop offset="0.075" stop-color="#00ff89"/><stop offset="0.100" stop-color="#00ff84"/><stop offset="0.125" stop-color="#00ff7d"/><stop offset="0.150" stop-color="#00ff77"/><stop offset="0.175" stop-color="#00ff70"/><stop offset="0.200" stop-color="#00ff68"/><stop offset="0.225" stop-color="#00ff5f"/><stop offset="0.250" stop-color="#00ff56"/><stop offset="0.275" stop-color="#00ff4b"/><stop offset="0.300" stop-color="#00ff3d"/><stop offset="0.325" stop-color="#00ff2b"/><stop offset="0.350" stop-color="#00ff04"/><stop offset="0.375" stop-color="#00ff00"/><stop offset="0.400" stop-color="#00ff00"/><stop offset="0.425" stop-color="#00ff00"/><stop offset="0.450" stop-color="#02ff00"/><stop offset="0.475" stop-color="#4bff00"/><stop offset="0.500" stop-color="#69ff00"/><stop offset="0.525" stop-color="#80ff00"/><stop offset="0.550" stop-color="#93ff00"/><stop offset="0.575" stop-color="#a4ff00"/><stop offset="0.600" stop-color="#b4ff00"/><stop offset="0.625" stop-color="#c3ff00"/><stop offset="0.650" stop-color="#d1ff00"/><stop offset="0.675" stop-color="#deff00"/><stop offset="0.700" stop-color="#ebff00"/><stop offset="0.725" stop-color="#f7ff00"/><stop offset="0.750" stop-color="#fffb00"/><stop offset="0.775" stop-color="#ffef00"/><stop offset="0.800" stop-color="#ffe500"/><stop offset="0.825" stop-color="#ffdc00"/><stop offset="0.850" stop-color="#ffd300"/><stop offset="0.875" stop-color="#ffcb00"/><stop offset="0.900" stop-color="#ffc400"/><stop offset="0.925" stop-color="#ffbd00"/><stop offset="0.950" stop-color="#ffb600"/><stop offset="0.975" stop-color="#ffb000"/><stop offset="1.000" stop-color="#ffaa00"/></linearGradient>
<linearGradient id="cg17" gradientUnits="userSpaceOnUse" x1="1306.3" y1="0" x2="1665.6" y2="0"><stop offset="0.000" stop-color="#00ff99"/><stop offset="0.025" stop-color="#00ff94"/><stop offset="0.050" stop-color="#00ff8f"/><stop offset="0.075" stop-color="#00ff89"/><stop offset="0.100" stop-color="#00ff84"/><stop offset="0.125" stop-color="#00ff7d"/><stop offset="0.150" stop-color="#00ff77"/><stop offset="0.175" stop-color="#00ff70"/><stop offset="0.200" stop-color="#00ff68"/><stop offset="0.225" stop-color="#00ff5f"/><stop offset="0.250" stop-color="#00ff56"/><stop offset="0.275" stop-color="#00ff4b"/><stop offset="0.300" stop-color="#00ff3d"/><stop offset="0.325" stop-color="#00ff2b"/><stop offset="0.350" stop-color="#00ff04"/><stop offset="0.375" stop-color="#00ff00"/><stop offset="0.400" stop-color="#00ff00"/><stop offset="0.425" stop-color="#00ff00"/><stop offset="0.450" stop-color="#16ff00"/><stop offset="0.475" stop-color="#4fff00"/><stop offset="0.500" stop-color="#6cff00"/><stop offset="0.525" stop-color="#83ff00"/><stop offset="0.550" stop-color="#96ff00"/><stop offset="0.575" stop-color="#a7ff00"/><stop offset="0.600" stop-color="#b7ff00"/><stop offset="0.625" stop-color="#c5ff00"/><stop offset="0.650" stop-color="#d3ff00"/><stop offset="0.675" stop-color="#e1ff00"/><stop offset="0.700" stop-color="#eeff00"/><stop offset="0.725" stop-color="#faff00"/><stop offset="0.750" stop-color="#fff800"/><stop offset="0.775" stop-color="#ffed00"/><stop offset="0.800" stop-color="#ffe300"/><stop offset="0.825" stop-color="#ffd900"/><stop offset="0.850" stop-color="#ffd100"/><stop offset="0.875" stop-color="#ffc900"/><stop offset="0.900" stop-color="#ffc100"/><stop offset="0.925" stop-color="#ffbb00"/><stop offset="0.950" stop-color="#ffb400"/><stop offset="0.975" stop-color="#ffae00"/><stop offset="1.000" stop-color="#ffa800"/></linearGradient>
<linearGradient id="cg18" gradientUnits="userSpaceOnUse" x1="1306.3" y1="0" x2="1665.6" y2="0"><stop offset="0.000" stop-color="#00ff99"/><stop offset="0.025" stop-color="#00ff94"/><stop offset="0.050" stop-color="#00ff8f"/><stop offset="0.075" stop-color="#00ff89"/><stop offset="0.100" stop-color="#00ff84"/><stop offset="0.125" stop-color="#00ff7d"/><stop offset="0.150" stop-color="#00ff77"/><stop offset="0.175" stop-color="#00ff70"/><stop offset="0.200" stop-color="#00ff68"/><stop offset="0.225" stop-color="#00ff5f"/><stop offset="0.250" stop-color="#00ff56"/><stop offset="0.275" stop-color="#00ff4b"/><stop offset="0.300" stop-color="#00ff3d"/><stop offset="0.325" stop-color="#00ff2b"/><stop offset="0.350" stop-color="#00ff04"/><stop offset="0.375" stop-color="#00ff00"/><stop offset="0.400" stop-color="#00ff00"/><stop offset="0.425" stop-color="#00ff00"/><stop offset="0.450" stop-color="#22ff00"/><stop offset="0.475" stop-color="#53ff00"/><stop offset="0.500" stop-color="#70ff00"/><stop offset="0.525" stop-color="#86ff00"/><stop offset="0.550" stop-color="#99ff00"/><stop offset="0.575" stop-color="#aaff00"/><stop offset="0.600" stop-color="#baff00"/><stop offset="0.625" stop-color="#c8ff00"/><stop offset="0.650" stop-color="#d6ff00"/><stop offset="0.675" stop-color="#e4ff00"/><stop offset="0.700" stop-color="#f1ff00"/><stop offset="0.725" stop-color="#fdff00"/><stop offset="0.750" stop-color="#fff500"/><stop offset="0.775" stop-color="#ffea00"/><stop offset="0.800" stop-color="#ffe000"/><stop offset="0.825" stop-color="#ffd700"/><stop offset="0.850" stop-color="#ffce00"/><stop offset="0.875" stop-color="#ffc700"/><stop offset="0.900" stop-color="#ffbf00"/><stop offset="0.925" stop-color="#ffb800"/><stop offset="0.950" stop-color="#ffb200"/><stop offset="0.975" stop-color="#ffac00"/><stop offset="1.000" stop-color="#ffa600"/></linearGradient>
<linearGradient id="cg19" gradientUnits="userSpaceOnUse" x1="1306.3" y1="0" x2="1665.6" y2="0"><stop offset="0.000" stop-color="#00ff99"/><stop offset="0.025" stop-color="#00ff94"/><stop offset="0.050" stop-color="#00ff8f"/><stop offset="0.075" stop-color="#00ff89"/><stop offset="0.100" stop-color="#00ff84"/><stop offset="0.125" stop-color="#00ff7d"/><stop offset="0.150" stop-color="#00ff77"/><stop offset="0.175" stop-color="#00ff70"/><stop offset="0.200" stop-color="#00ff68"/><stop offset="0.225" stop-color="#00ff5f"/><stop offset="0.250" stop-color="#00ff56"/><stop offset="0.275" stop-color="#00ff4b"/><stop offset="0.300" stop-color="#00ff3d"/><stop offset="0.325" stop-color="#00ff2b"/><stop offset="0.350" stop-color="#00ff04"/><stop offset="0.375" stop-color="#00ff00"/><stop offset="0.400" stop-color="#00ff00"/><stop offset="0.425" stop-color="#00ff00"/><stop offset="0.450" stop-color="#2bff00"/><stop offset="0.475" stop-color="#58ff00"/><stop offset="0.500" stop-color="#73ff00"/><stop offset="0.525" stop-color="#89ff00"/><stop offset="0.550" stop-color="#9cff00"/><stop offset="0.575" stop-color="#adff00"/><stop offset="0.600" stop-color="#bcff00"/><stop offset="0.625" stop-color="#cbff00"/><stop offset="0.650" stop-color="#d9ff00"/><stop offset="0.675" stop-color="#e6ff00"/><stop offset="0.700" stop-color="#f3ff00"/><stop offset="0.725" stop-color="#fffe00"/><stop offset="0.750" stop-color="#fff200"/><stop offset="0.775" stop-color="#ffe700"/><stop offset="0.800" stop-color="#ffdd00"/><stop offset="0.825" stop-color="#ffd400"/><stop offset="0.850" stop-color="#ffcc00"/><stop offset="0.875" stop-color="#ffc400"/><stop offset="0.900" stop-color="#ffbd00"/><stop offset="0.925" stop-color="#ffb600"/><stop offset="0.950" stop-color="#ffb000"/><stop offset="0.975" stop-color="#ffa900"/><stop offset="1.000" stop-color="#ffa400"/></linearGradient>
<linearGradient id="cg20" gradientUnits="userSpaceOnUse" x1="1306.3" y1="0" x2="1665.6" y2="0"><stop offset="0.000" stop-color="#00ff99"/><stop offset="0.025" stop-color="#00ff94"/><stop offset="0.050" stop-color="#00ff8f"/><stop offset="0.075" stop-color="#00ff89"/><stop offset="0.100" stop-color="#00ff84"/><stop offset="0.125" stop-color="#00ff7d"/><stop offset="0.150" stop-color="#00ff77"/><stop offset="0.175" stop-color="#00ff70"/><stop offset="0.200" stop-color="#00ff68"/><stop offset="0.225" stop-color="#00ff5f"/><stop offset="0.250" stop-color="#00ff56"/><stop offset="0.275" stop-color="#00ff4b"/><stop offset="0.300" stop-color="#00ff3d"/><stop offset="0.325" stop-color="#00ff2b"/><stop offset="0.350" stop-color="#00ff04"/><stop offset="0.375" stop-color="#00ff00"/><stop offset="0.400" stop-color="#00ff00"/><stop offset="0.425" stop-color="#00ff00"/><stop offset="0.450" stop-color="#32ff00"/><stop offset="0.475" stop-color="#5cff00"/><stop offset="0.500" stop-color="#76ff00"/><stop offset="0.525" stop-color="#8cff00"/><stop offset="0.550" stop-color="#9fff00"/><stop offset="0.575" stop-color="#afff00"/><stop offset="0.600" stop-color="#bfff00"/><stop offset="0.625" stop-color="#ceff00"/><stop offset="0.650" stop-color="#dcff00"/><stop offset="0.675" stop-color="#e9ff00"/><stop offset="0.700" stop-color="#f6ff00"/><stop offset="0.725" stop-color="#fffb00"/><stop offset="0.750" stop-color="#ffef00"/><stop offset="0.775" stop-color="#ffe400"/><stop offset="0.800" stop-color="#ffdb00"/><stop offset="0.825" stop-color="#ffd200"/><stop offset="0.850" stop-color="#ffca00"/><stop offset="0.875" stop-color="#ffc200"/><stop offset="0.900" stop-color="#ffbb00"/><stop offset="0.925" stop-color="#ffb400"/><stop offset="0.950" stop-color="#ffad00"/><stop offset="0.975" stop-color="#ffa700"/><stop offset="1.000" stop-color="#ffa100"/></linearGradient>
<linearGradient id="cg21" gradientUnits="userSpaceOnUse" x1="1306.3" y1="0" x2="1665.6" y2="0"><stop offset="0.000" stop-color="#00ff99"/><stop offset="0.025" stop-color="#00ff94"/><stop offset="0.050" stop-color="#00ff8f"/><stop offset="0.075" stop-color="#00ff89"/><stop offset="0.100" stop-color="#00ff84"/><stop offset="0.125" stop-color="#00ff7d"/><stop offset="0.150" stop-color="#00ff77"/><stop offset="0.175" stop-color="#00ff70"/><stop offset="0.200" stop-color="#00ff68"/><stop offset="0.225" stop-color="#00ff5f"/><stop offset="0.250" stop-color="#00ff56"/><stop offset="0.275" stop-color="#00ff4b"/><stop offset="0.300" stop-color="#00ff3d"/><stop offset="0.325" stop-color="#00ff2b"/><stop offset="0.350" stop-color="#00ff04"/><stop offset="0.375" stop-color="#00ff00"/><stop offset="0.400" stop-color="#00ff00"/><stop offset="0.425" stop-color="#00ff00"/><stop offset="0.450" stop-color="#39ff00"/><stop offset="0.475" stop-color="#5fff00"/><stop offset="0.500" stop-color="#7aff00"/><stop offset="0.525" stop-color="#8fff00"/><stop offset="0.550" stop-color="#a2ff00"/><stop offset="0.575" stop-color="#b2ff00"/><stop offset="0.600" stop-color="#c2ff00"/><stop offset="0.625" stop-color="#d1ff00"/><stop offset="0.650" stop-color="#dfff00"/><stop offset="0.675" stop-color="#ecff00"/><stop offset="0.700" stop-color="#faff00"/><stop offset="0.725" stop-color="#fff800"/><stop offset="0.750" stop-color="#ffec00"/><stop offset="0.775" stop-color="#ffe200"/><stop offset="0.800" stop-color="#ffd800"/><stop offset="0.825" stop-color="#ffcf00"/><stop offset="0.850" stop-color="#ffc700"/><stop offset="0.875" stop-color="#ffc000"/><stop offset="0.900" stop-color="#ffb800"/><stop offset="0.925" stop-color="#ffb200"/><stop offset="0.950" stop-color="#ffab00"/><stop offset="0.975" stop-color="#ffa500"/><stop offset="1.000" stop-color="#ff9f00"/></linearGradient>
<linearGradient id="cg22" gradientUnits="userSpaceOnUse" x1="1306.3" y1="0" x2="1665.6" y2="0"><stop offset="0.000" stop-color="#00ff99"/><stop offset="0.025" stop-color="#00ff94"/><stop offset="0.050" stop-color="#00ff8f"/><stop offset="0.075" stop-color="#00ff89"/><stop offset="0.100" stop-color="#00ff84"/><stop offset="0.125" stop-color="#00ff7d"/><stop offset="0.150" stop-color="#00ff77"/><stop offset="0.175" stop-color="#00ff70"/><stop offset="0.200" stop-color="#00ff68"/><stop offset="0.225" stop-color="#00ff5f"/><stop offset="0.250" stop-color="#00ff56"/><stop offset="0.275" stop-color="#00ff4b"/><stop offset="0.300" stop-color="#00ff3d"/><stop offset="0.325" stop-color="#00ff2b"/><stop offset="0.350" stop-color="#00ff04"/><stop offset="0.375" stop-color="#00ff00"/><stop offset="0.400" stop-color="#00ff00"/><stop offset="0.425" stop-color="#00ff00"/><stop offset="0.450" stop-color="#3fff00"/><stop offset="0.475" stop-color="#63ff00"/><stop offset="0.500" stop-color="#7dff00"/><stop offset="0.525" stop-color="#92ff00"/><stop offset="0.550" stop-color="#a4ff00"/><stop offset="0.575" stop-color="#b5ff00"/><stop offset="0.600" stop-color="#c5ff00"/><stop offset="0.625" stop-color="#d4ff00"/><stop offset="0.650" stop-color="#e2ff00"/><stop offset="0.675" stop-color="#efff00"/><stop offset="0.700" stop-color="#fdff00"/><stop offset="0.725" stop-color="#fff500"/><stop offset="0.750" stop-color="#ffe900"/><stop offset="0.775" stop-color="#ffdf00"/><stop offset="0.800" stop-color="#ffd600"/><stop offset="0.825" stop-color="#ffcd00"/><stop offset="0.850" stop-color="#ffc500"/><stop offset="0.875" stop-color="#ffbd00"/><stop offset="0.900" stop-color="#ffb600"/><stop offset="0.925" stop-color="#ffaf00"/><stop offset="0.950" stop-color="#ffa900"/><stop offset="0.975" stop-color="#ffa300"/><stop offset="1.000" stop-color="#ff9d00"/></linearGradient>
<linearGradient id="cg23" gradientUnits="userSpaceOnUse" x1="1306.3" y1="0" x2="1665.6" y2="0"><stop offset="0.000" stop-color="#00ff99"/><stop offset="0.025" stop-color="#00ff94"/><stop offset="0.050" stop-color="#00ff8f"/><stop offset="0.075" stop-color="#00ff89"/><stop offset="0.100" stop-color="#00ff84"/><stop offset="0.125" stop-color="#00ff7d"/><stop offset="0.150" stop-color="#00ff77"/><stop offset="0.175" stop-color="#00ff70"/><stop offset="0.200" stop-color="#00ff68"/><stop offset="0.225" stop-color="#00ff5f"/><stop offset="0.250" stop-color="#00ff56"/><stop offset="0.275" stop-color="#00ff4b"/><stop offset="0.300" stop-color="#00ff3d"/><stop offset="0.325" stop-color="#00ff2b"/><stop offset="0.350" stop-color="#00ff04"/><stop offset="0.375" stop-color="#00ff00"/><stop offset="0.400" stop-color="#00ff00"/><stop offset="0.425" stop-color="#00ff00"/><stop offset="0.450" stop-color="#44ff00"/><stop offset="0.475" stop-color="#67ff00"/><stop offset="0.500" stop-color="#80ff00"/><stop offset="0.525" stop-color="#95ff00"/><stop offset="0.550" stop-color="#a7ff00"/><stop offset="0.575" stop-color="#b8ff00"/><stop offset="0.600" stop-color="#c8ff00"/><stop offset="0.625" stop-color="#d7ff00"/><stop offset="0.650" stop-color="#e5ff00"/><stop offset="0.675" stop-color="#f2ff00"/><stop offset="0.700" stop-color="#fffe00"/><stop offset="0.725" stop-color="#fff200"/><stop offset="0.750" stop-color="#ffe600"/><stop offset="0.775" stop-color="#ffdc00"/><stop offset="0.800" stop-color="#ffd300"/><stop offset="0.825" stop-color="#ffca00"/><stop offset="0.850" stop-color="#ffc200"/><stop offset="0.875" stop-color="#ffbb00"/><stop offset="0.900" stop-color="#ffb400"/><stop offset="0.925" stop-color="#ffad00"/><stop offset="0.950" stop-color="#ffa700"/><stop offset="0.975" stop-color="#ffa100"/><stop offset="1.000" stop-color="#ff9b00"/></linearGradient>
<linearGradient id="cg24" gradientUnits="userSpaceOnUse" x1="1306.3" y1="0" x2="1665.6" y2="0"><stop offset="0.000" stop-color="#00ff99"/><stop offset="0.025" stop-color="#00ff94"/><stop offset="0.050" stop-color="#00ff8f"/><stop offset="0.075" stop-color="#00ff89"/><stop offset="0.100" stop-color="#00ff84"/><stop offset="0.125" stop-color="#00ff7d"/><stop offset="0.150" stop-color="#00ff77"/><stop offset="0.175" stop-color="#00ff70"/><stop offset="0.200" stop-color="#00ff68"/><stop offset="0.225" stop-color="#00ff5f"/><stop offset="0.250" stop-color="#00ff56"/><stop offset="0.275" stop-color="#00ff4b"/><stop offset="0.300" stop-color="#00ff3d"/><stop offset="0.325" stop-color="#00ff2b"/><stop offset="0.350" stop-color="#00ff04"/><stop offset="0.375" stop-color="#00ff00"/><stop offset="0.400" stop-color="#00ff00"/><stop offset="0.425" stop-color="#00ff00"/><stop offset="0.450" stop-color="#4aff00"/><stop offset="0.475" stop-color="#6bff00"/><stop offset="0.500" stop-color="#83ff00"/><stop offset="0.525" stop-color="#98ff00"/><stop offset="0.550" stop-color="#aaff00"/><stop offset="0.575" stop-color="#bbff00"/><stop offset="0.600" stop-color="#cbff00"/><stop offset="0.625" stop-color="#daff00"/><stop offset="0.650" stop-color="#e8ff00"/><stop offset="0.675" stop-color="#f6ff00"/><stop offset="0.700" stop-color="#fffb00"/><stop offset="0.725" stop-color="#ffef00"/><stop offset="0.750" stop-color="#ffe400"/><stop offset="0.775" stop-color="#ffda00"/><stop offset="0.800" stop-color="#ffd000"/><stop offset="0.825" stop-color="#ffc800"/><stop offset="0.850" stop-color="#ffc000"/><stop offset="0.875" stop-color="#ffb800"/><stop offset="0.900" stop-color="#ffb100"/><stop offset="0.925" stop-color="#ffab00"/><stop offset="0.950" stop-color="#ffa400"/><stop offset="0.975" stop-color="#ff9e00"/><stop offset="1.000" stop-color="#ff9900"/></linearGradient>
<linearGradient id="cg25" gradientUnits="userSpaceOnUse" x1="1306.3" y1="0" x2="1665.6" y2="0"><stop offset="0.000" stop-color="#00ff99"/><stop offset="0.025" stop-color="#00ff94"/><stop offset="0.050" stop-color="#00ff8f"/><stop offset="0.075" stop-color="#00ff89"/><stop offset="0.100" stop-color="#00ff84"/><stop offset="0.125" stop-color="#00ff7d"/><stop offset="0.150" stop-color="#00ff77"/><stop offset="0.175" stop-color="#00ff70"/><stop offset="0.200" stop-color="#00ff68"/><stop offset="0.225" stop-color="#00ff5f"/><stop offset="0.250" stop-color="#00ff56"/><stop offset="0.275" stop-color="#00ff4b"/><stop offset="0.300" stop-color="#00ff3d"/><stop offset="0.325" stop-color="#00ff2b"/><stop offset="0.350" stop-color="#00ff04"/><stop offset="0.375" stop-color="#00ff00"/><stop offset="0.400" stop-color="#00ff00"/><stop offset="0.425" stop-color="#02ff00"/><stop offset="0.450" stop-color="#4fff00"/><stop offset="0.475" stop-color="#6fff00"/><stop offset="0.500" stop-color="#87ff00"/><stop offset="0.525" stop-color="#9bff00"/><stop offset="0.550" stop-color="#adff00"/><stop offset="0.575" stop-color="#beff00"/><stop offset="0.600" stop-color="#ceff00"/><stop offset="0.625" stop-color="#ddff00"/><stop offset="0.650" stop-color="#ebff00"/><stop offset="0.675" stop-color="#f9ff00"/><stop offset="0.700" stop-color="#fff800"/><stop offset="0.725" stop-color="#ffec00"/><stop offset="0.750" stop-color="#ffe100"/><stop offset="0.775" stop-color="#ffd700"/><stop offset="0.800" stop-color="#ffce00"/><stop offset="0.825" stop-color="#ffc500"/><stop offset="0.850" stop-color="#ffbd00"/><stop offset="0.875" stop-color="#ffb600"/><stop offset="0.900" stop-color="#ffaf00"/><stop offset="0.925" stop-color="#ffa800"/><stop offset="0.950" stop-color="#ffa200"/><stop offset="0.975" stop-color="#ff9c00"/><stop offset="1.000" stop-color="#ff9700"/></linearGradient>
<linearGradient id="cg26" gradientUnits="userSpaceOnUse" x1="1306.3" y1="0" x2="1665.6" y2="0"><stop offset="0.000" stop-color="#00ff99"/><stop offset="0.025" stop-color="#00ff94"/><stop offset="0.050" stop-color="#00ff8f"/><stop offset="0.075" stop-color="#00ff89"/><stop offset="0.100" stop-color="#00ff84"/><stop offset="0.125" stop-color="#00ff7d"/><stop offset="0.150" stop-color="#00ff77"/><stop offset="0.175" stop-color="#00ff70"/><stop offset="0.200" stop-color="#00ff68"/><stop offset="0.225" stop-color="#00ff5f"/><stop offset="0.250" stop-color="#00ff56"/><stop offset="0.275" stop-color="#00ff4b"/><stop offset="0.300" stop-color="#00ff3d"/><stop offset="0.325" stop-color="#00ff2b"/><stop offset="0.350" stop-color="#00ff04"/><stop offset="0.375" stop-color="#00ff00"/><stop offset="0.400" stop-color="#00ff00"/><stop offset="0.425" stop-color="#18ff00"/><stop offset="0.450" stop-color="#53ff00"/><stop offset="0.475" stop-color="#72ff00"/><stop offset="0.500" stop-color="#8aff00"/><stop offset="0.525" stop-color="#9eff00"/><stop offset="0.550" stop-color="#b0ff00"/><stop offset="0.575" stop-color="#c1ff00"/><stop offset="0.600" stop-color="#d1ff00"/><stop offset="0.625" stop-color="#e0ff00"/><stop offset="0.650" stop-color="#eeff00"/><stop offset="0.675" stop-color="#fcff00"/><stop offset="0.700" stop-color="#fff500"/><stop offset="0.725" stop-color="#ffe900"/><stop offset="0.750" stop-color="#ffde00"/><stop offset="0.775" stop-color="#ffd400"/><stop offset="0.800" stop-color="#ffcb00"/><stop offset="0.825" stop-color="#ffc300"/><stop offset="0.850" stop-color="#ffbb00"/><stop offset="0.875" stop-color="#ffb400"/><stop offset="0.900" stop-color="#ffad00"/><stop offset="0.925" stop-color="#ffa600"/><stop offset="0.950" stop-color="#ffa000"/><stop offset="0.975" stop-color="#ff9a00"/><stop offset="1.000" stop-color="#ff9400"/></linearGradient>
<linearGradient id="cg27" gradientUnits="userSpaceOnUse" x1="1306.3" y1="0" x2="1665.6" y2="0"><stop offset="0.000" stop-color="#00ff99"/><stop offset="0.025" stop-color="#00ff94"/><stop offset="0.050" stop-color="#00ff8f"/><stop offset="0.075" stop-color="#00ff89"/><stop offset="0.100" stop-color="#00ff84"/><stop offset="0.125" stop-color="#00ff7d"/><stop offset="0.150" stop-color="#00ff77"/><stop offset="0.175" stop-color="#00ff70"/><stop offset="0.200" stop-color="#00ff68"/><stop offset="0.225" stop-color="#00ff5f"/><stop offset="0.250" stop-color="#00ff56"/><stop offset="0.275" stop-color="#00ff4b"/><stop offset="0.300" stop-color="#00ff3d"/><stop offset="0.325" stop-color="#00ff2b"/><stop offset="0.350" stop-color="#00ff04"/><stop offset="0.375" stop-color="#00ff00"/><stop offset="0.400" stop-color="#00ff00"/><stop offset="0.425" stop-color="#24ff00"/><stop offset="0.450" stop-color="#58ff00"/><stop offset="0.475" stop-color="#76ff00"/><stop offset="0.500" stop-color="#8dff00"/><stop offset="0.525" stop-color="#a1ff00"/><stop offset="0.550" stop-color="#b3ff00"/><stop offset="0.575" stop-color="#c4ff00"/><stop offset="0.600" stop-color="#d4ff00"/><stop offset="0.625" stop-color="#e3ff00"/><stop offset="0.650" stop-color="#f1ff00"/><stop offset="0.675" stop-color="#ffff00"/><stop offset="0.700" stop-color="#fff100"/><stop offset="0.725" stop-color="#ffe600"/><stop offset="0.750" stop-color="#ffdb00"/><stop offset="0.775" stop-color="#ffd100"/><stop offset="0.800" stop-color="#ffc800"/><stop offset="0.825" stop-color="#ffc000"/><stop offset="0.850" stop-color="#ffb800"/><stop offset="0.875" stop-color="#ffb100"/><stop offset="0.900" stop-color="#ffaa00"/><stop offset="0.925" stop-color="#ffa400"/><stop offset="0.950" stop-color="#ff9e00"/><stop offset="0.975" stop-color="#ff9800"/><stop offset="1.000" stop-color="#ff9200"/></linearGradient>
<linearGradient id="cg28" gradientUnits="userSpaceOnUse" x1="1306.3" y1="0" x2="1665.6" y2="0"><stop offset="0.000" stop-color="#00ff99"/><stop offset="0.025" stop-color="#00ff94"/><stop offset="0.050" stop-color="#00ff8f"/><stop offset="0.075" stop-color="#00ff89"/><stop offset="0.100" stop-color="#00ff84"/><stop offset="0.125" stop-color="#00ff7d"/><stop offset="0.150" stop-color="#00ff77"/><stop offset="0.175" stop-color="#00ff70"/><stop offset="0.200" stop-color="#00ff68"/><stop offset="0.225" stop-color="#00ff5f"/><stop offset="0.250" stop-color="#00ff56"/><stop offset="0.275" stop-color="#00ff4b"/><stop offset="0.300" stop-color="#00ff3d"/><stop offset="0.325" stop-color="#00ff2b"/><stop offset="0.350" stop-color="#00ff0d"/><stop offset="0.375" stop-color="#00ff00"/><stop offset="0.400" stop-color="#00ff00"/><stop offset="0.425" stop-color="#2eff00"/><stop offset="0.450" stop-color="#5cff00"/><stop offset="0.475" stop-color="#79ff00"/><stop offset="0.500" stop-color="#90ff00"/><stop offset="0.525" stop-color="#a4ff00"/><stop offset="0.550" stop-color="#b6ff00"/><stop offset="0.575" stop-color="#c7ff00"/><stop offset="0.600" stop-color="#d7ff00"/><stop offset="0.625" stop-color="#e6ff00"/><stop offset="0.650" stop-color="#f5ff00"/><stop offset="0.675" stop-color="#fffb00"/><stop offset="0.700" stop-color="#ffee00"/><stop offset="0.725" stop-color="#ffe300"/><stop offset="0.750" stop-color="#ffd800"/><stop offset="0.775" stop-color="#ffcf00"/><stop offset="0.800" stop-color="#ffc600"/><stop offset="0.825" stop-color="#ffbe00"/><stop offset="0.850" stop-color="#ffb600"/><stop offset="0.875" stop-color="#ffaf00"/><stop offset="0.900" stop-color="#ffa800"/><stop offset="0.925" stop-color="#ffa100"/><stop offset="0.950" stop-color="#ff9b00"/><stop offset="0.975" stop-color="#ff9500"/><stop offset="1.000" stop-color="#ff9000"/></linearGradient>
<linearGradient id="cg29" gradientUnits="userSpaceOnUse" x1="1306.3" y1="0" x2="1665.6" y2="0"><stop offset="0.000" stop-color="#00ff99"/><stop offset="0.025" stop-color="#00ff94"/><stop offset="0.050" stop-color="#00ff8f"/><stop offset="0.075" stop-color="#00ff89"/><stop offset="0.100" stop-color="#00ff84"/><stop offset="0.125" stop-color="#00ff7d"/><stop offset="0.150" stop-color="#00ff77"/><stop offset="0.175" stop-color="#00ff70"/><stop offset="0.200" stop-color="#00ff68"/><stop offset="0.225" stop-color="#00ff5f"/><stop offset="0.250" stop-color="#00ff56"/><stop offset="0.275" stop-color="#00ff4b"/><stop offset="0.300" stop-color="#00ff41"/><stop offset="0.325" stop-color="#00ff34"/><stop offset="0.350" stop-color="#00ff20"/><stop offset="0.375" stop-color="#00ff00"/><stop offset="0.400" stop-color="#00ff00"/><stop offset="0.425" stop-color="#35ff00"/><stop offset="0.450" stop-color="#61ff00"/><stop offset="0.475" stop-color="#7dff00"/><stop offset="0.500" stop-color="#94ff00"/><stop offset="0.525" stop-color="#a8ff00"/><stop offset="0.550" stop-color="#baff00"/><stop offset="0.575" stop-color="#caff00"/><stop offset="0.600" stop-color="#daff00"/><stop offset="0.625" stop-color="#e9ff00"/><stop offset="0.650" stop-color="#f8ff00"/><stop offset="0.675" stop-color="#fff800"/><stop offset="0.700" stop-color="#ffeb00"/><stop offset="0.725" stop-color="#ffe000"/><stop offset="0.750" stop-color="#ffd500"/><stop offset="0.775" stop-color="#ffcc00"/><stop offset="0.800" stop-color="#ffc300"/><stop offset="0.825" stop-color="#ffbb00"/><stop offset="0.850" stop-color="#ffb300"/><stop offset="0.875" stop-color="#ffac00"/><stop offset="0.900" stop-color="#ffa600"/><stop offset="0.925" stop-color="#ff9f00"/><stop offset="0.950" stop-color="#ff9900"/><stop offset="0.975" stop-color="#ff9300"/><stop offset="1.000" stop-color="#ff8d00"/></linearGradient>
<linearGradient id="cg30" gradientUnits="userSpaceOnUse" x1="1306.3" y1="0" x2="1665.6" y2="0"><stop offset="0.000" stop-color="#00ff99"/><stop offset="0.025" stop-color="#00ff94"/><stop offset="0.050" stop-color="#00ff8f"/><stop offset="0.075" stop-color="#00ff89"/><stop offset="0.100" stop-color="#00ff84"/><stop offset="0.125" stop-color="#00ff7d"/><stop offset="0.150" stop-color="#00ff77"/><stop offset="0.175" stop-color="#00ff70"/><stop offset="0.200" stop-color="#00ff68"/><stop offset="0.225" stop-color="#00ff5f"/><stop offset="0.250" stop-color="#00ff58"/><stop offset="0.275" stop-color="#00ff50"/><stop offset="0.300" stop-color="#00ff47"/><stop offset="0.325" stop-color="#00ff3b"/><stop offset="0.350" stop-color="#00ff2c"/><stop offset="0.375" stop-color="#00ff0e"/><stop offset="0.400" stop-color="#00ff00"/><stop offset="0.425" stop-color="#3cff00"/><stop offset="0.450" stop-color="#65ff00"/><stop offset="0.475" stop-color="#81ff00"/><stop offset="0.500" stop-color="#97ff00"/><stop offset="0.525" stop-color="#abff00"/><stop offset="0.550" stop-color="#bdff00"/><stop offset="0.575" stop-color="#ceff00"/><stop offset="0.600" stop-color="#ddff00"/><stop offset="0.625" stop-color="#edff00"/><stop offset="0.650" stop-color="#fbff00"/><stop offset="0.675" stop-color="#fff500"/><stop offset="0.700" stop-color="#ffe800"/><stop offset="0.725" stop-color="#ffdd00"/><stop offset="0.750" stop-color="#ffd300"/><stop offset="0.775" stop-color="#ffc900"/><stop offset="0.800" stop-color="#ffc100"/><stop offset="0.825" stop-color="#ffb800"/><stop offset="0.850" stop-color="#ffb100"/><stop offset="0.875" stop-color="#ffaa00"/><stop offset="0.900" stop-color="#ffa300"/><stop offset="0.925" stop-color="#ff9d00"/><stop offset="0.950" stop-color="#ff9700"/><stop offset="0.975" stop-color="#ff9100"/><stop offset="1.000" stop-color="#ff8b00"/></linearGradient>
<linearGradient id="cg31" gradientUnits="userSpaceOnUse" x1="1306.3" y1="0" x2="1665.6" y2="0"><stop offset="0.000" stop-color="#00ff99"/><stop offset="0.025" stop-color="#00ff94"/><stop offset="0.050" stop-color="#00ff8f"/><stop offset="0.075" stop-color="#00ff89"/><stop offset="0.100" stop-color="#00ff84"/><stop offset="0.125" stop-color="#00ff7d"/><stop offset="0.150" stop-color="#00ff77"/><stop offset="0.175" stop-color="#00ff70"/><stop offset="0.200" stop-color="#00ff69"/><stop offset="0.225" stop-color="#00ff63"/><stop offset="0.250" stop-color="#00ff5d"/><stop offset="0.275" stop-color="#00ff56"/><stop offset="0.300" stop-color="#00ff4d"/><stop offset="0.325" stop-color="#00ff42"/><stop offset="0.350" stop-color="#00ff35"/><stop offset="0.375" stop-color="#00ff21"/><stop offset="0.400" stop-color="#00ff00"/><stop offset="0.425" stop-color="#43ff00"/><stop offset="0.450" stop-color="#69ff00"/><stop offset="0.475" stop-color="#84ff00"/><stop offset="0.500" stop-color="#9aff00"/><stop offset="0.525" stop-color="#aeff00"/><stop offset="0.550" stop-color="#c0ff00"/><stop offset="0.575" stop-color="#d1ff00"/><stop offset="0.600" stop-color="#e1ff00"/><stop offset="0.625" stop-color="#f0ff00"/><stop offset="0.650" stop-color="#ffff00"/><stop offset="0.675" stop-color="#fff100"/><stop offset="0.700" stop-color="#ffe500"/><stop offset="0.725" stop-color="#ffda00"/><stop offset="0.750" stop-color="#ffd000"/><stop offset="0.775" stop-color="#ffc600"/><stop offset="0.800" stop-color="#ffbe00"/><stop offset="0.825" stop-color="#ffb600"/><stop offset="0.850" stop-color="#ffae00"/><stop offset="0.875" stop-color="#ffa700"/><stop offset="0.900" stop-color="#ffa100"/><stop offset="0.925" stop-color="#ff9a00"/><stop offset="0.950" stop-color="#ff9400"/><stop offset="0.975" stop-color="#ff8e00"/><stop offset="1.000" stop-color="#ff8900"/></linearGradient>
<linearGradient id="cg32" gradientUnits="userSpaceOnUse" x1="1306.3" y1="0" x2="1665.6" y2="0"><stop offset="0.000" stop-color="#00ff99"/><stop offset="0.025" stop-color="#00ff94"/><stop offset="0.050" stop-color="#00ff8f"/><stop offset="0.075" stop-color="#00ff89"/><stop offset="0.100" stop-color="#00ff84"/><stop offset="0.125" stop-color="#00ff7d"/><stop offset="0.150" stop-color="#00ff77"/><stop offset="0.175" stop-color="#00ff72"/><stop offset="0.200" stop-color="#00ff6d"/><stop offset="0.225" stop-color="#00ff68"/><stop offset="0.250" stop-color="#00ff61"/><stop offset="0.275" stop-color="#00ff5a"/><stop offset="0.300" stop-color="#00ff52"/><stop offset="0.325" stop-color="#00ff49"/><stop offset="0.350" stop-color="#00ff3d"/><stop offset="0.375" stop-color="#00ff2d"/><stop offset="0.400" stop-color="#00ff0f"/><stop offset="0.425" stop-color="#49ff00"/><stop offset="0.450" stop-color="#6dff00"/><stop offset="0.475" stop-color="#88ff00"/><stop offset="0.500" stop-color="#9eff00"/><stop offset="0.525" stop-color="#b1ff00"/><stop offset="0.550" stop-color="#c3ff00"/><stop offset="0.575" stop-color="#d4ff00"/><stop offset="0.600" stop-color="#e4ff00"/><stop offset="0.625" stop-color="#f4ff00"/><stop offset="0.650" stop-color="#fffc00"/><stop offset="0.675" stop-color="#ffee00"/><stop offset="0.700" stop-color="#ffe200"/><stop offset="0.725" stop-color="#ffd700"/><stop offset="0.750" stop-color="#ffcd00"/><stop offset="0.775" stop-color="#ffc400"/><stop offset="0.800" stop-color="#ffbb00"/><stop offset="0.825" stop-color="#ffb300"/><stop offset="0.850" stop-color="#ffac00"/><stop offset="0.875" stop-color="#ffa500"/><stop offset="0.900" stop-color="#ff9e00"/><stop offset="0.925" stop-color="#ff9800"/><stop offset="0.950" stop-color="#ff9200"/><stop offset="0.975" stop-color="#ff8c00"/><stop offset="1.000" stop-color="#ff8600"/></linearGradient>
<linearGradient id="cg33" gradientUnits="userSpaceOnUse" x1="1306.3" y1="0" x2="1665.6" y2="0"><stop offset="0.000" stop-color="#00ff99"/><stop offset="0.025" stop-color="#00ff94"/><stop offset="0.050" stop-color="#00ff8f"/><stop offset="0.075" stop-color="#00ff89"/><stop offset="0.100" stop-color="#00ff84"/><stop offset="0.125" stop-color="#00ff7e"/><stop offset="0.150" stop-color="#00ff7a"/><stop offset="0.175" stop-color="#00ff76"/><stop offset="0.200" stop-color="#00ff71"/><stop offset="0.225" stop-color="#00ff6c"/><stop offset="0.250" stop-color="#00ff66"/><stop offset="0.275" stop-color="#00ff5f"/><stop offset="0.300" stop-color="#00ff58"/><stop offset="0.325" stop-color="#00ff4f"/><stop offset="0.350" stop-color="#00ff44"/><stop offset="0.375" stop-color="#00ff37"/><stop offset="0.400" stop-color="#00ff22"/><stop offset="0.425" stop-color="#4eff00"/><stop offset="0.450" stop-color="#71ff00"/><stop offset="0.475" stop-color="#8bff00"/><stop offset="0.500" stop-color="#a1ff00"/><stop offset="0.525" stop-color="#b5ff00"/><stop offset="0.550" stop-color="#c7ff00"/><stop offset="0.575" stop-color="#d7ff00"/><stop offset="0.600" stop-color="#e8ff00"/><stop offset="0.625" stop-color="#f7ff00"/><stop offset="0.650" stop-color="#fff800"/><stop offset="0.675" stop-color="#ffeb00"/><stop offset="0.700" stop-color="#ffdf00"/><stop offset="0.725" stop-color="#ffd400"/><stop offset="0.750" stop-color="#ffca00"/><stop offset="0.775" stop-color="#ffc100"/><stop offset="0.800" stop-color="#ffb900"/><stop offset="0.825" stop-color="#ffb100"/><stop offset="0.850" stop-color="#ffa900"/><stop offset="0.875" stop-color="#ffa200"/><stop offset="0.900" stop-color="#ff9c00"/><stop offset="0.925" stop-color="#ff9500"/><stop offset="0.950" stop-color="#ff8f00"/><stop offset="0.975" stop-color="#ff8a00"/><stop offset="1.000" stop-color="#ff8400"/></linearGradient>
<linearGradient id="cg34" gradientUnits="userSpaceOnUse" x1="1306.3" y1="0" x2="1665.6" y2="0"><stop offset="0.000" stop-color="#00ff99"/><stop offset="0.025" stop-color="#00ff94"/><stop offset="0.050" stop-color="#00ff8f"/><stop offset="0.075" stop-color="#00ff89"/><stop offset="0.100" stop-color="#00ff85"/><stop offset="0.125" stop-color="#00ff82"/><stop offset="0.150" stop-color="#00ff7e"/><stop offset="0.175" stop-color="#00ff79"/><stop offset="0.200" stop-color="#00ff75"/><stop offset="0.225" stop-color="#00ff70"/><stop offset="0.250" stop-color="#00ff6a"/><stop offset="0.275" stop-color="#00ff64"/><stop offset="0.300" stop-color="#00ff5d"/><stop offset="0.325" stop-color="#00ff54"/><stop offset="0.350" stop-color="#00ff4b"/><stop offset="0.375" stop-color="#00ff3f"/><stop offset="0.400" stop-color="#02ff2e"/><stop offset="0.425" stop-color="#53ff10"/><stop offset="0.450" stop-color="#75ff00"/><stop offset="0.475" stop-color="#8fff00"/><stop offset="0.500" stop-color="#a5ff00"/><stop offset="0.525" stop-color="#b8ff00"/><stop offset="0.550" stop-color="#caff00"/><stop offset="0.575" stop-color="#dbff00"/><stop offset="0.600" stop-color="#ebff00"/><stop offset="0.625" stop-color="#fbff00"/><stop offset="0.650" stop-color="#fff400"/><stop offset="0.675" stop-color="#ffe700"/><stop offset="0.700" stop-color="#ffdc00"/><stop offset="0.725" stop-color="#ffd100"/><stop offset="0.750" stop-color="#ffc700"/><stop offset="0.775" stop-color="#ffbe00"/><stop offset="0.800" stop-color="#ffb600"/><stop offset="0.825" stop-color="#ffae00"/><stop offset="0.850" stop-color="#ffa700"/><stop offset="0.875" stop-color="#ffa000"/><stop offset="0.900" stop-color="#ff9900"/><stop offset="0.925" stop-color="#ff9300"/><stop offset="0.950" stop-color="#ff8d00"/><stop offset="0.975" stop-color="#ff8700"/><stop offset="1.000" stop-color="#ff8100"/></linearGradient>
<linearGradient id="cg35" gradientUnits="userSpaceOnUse" x1="1306.3" y1="0" x2="1665.6" y2="0"><stop offset="0.000" stop-color="#00ff99"/><stop offset="0.025" stop-color="#00ff94"/><stop offset="0.050" stop-color="#00ff8f"/><stop offset="0.075" stop-color="#00ff8c"/><stop offset="0.100" stop-color="#00ff88"/><stop offset="0.125" stop-color="#00ff85"/><stop offset="0.150" stop-color="#00ff81"/><stop offset="0.175" stop-color="#00ff7d"/><stop offset="0.200" stop-color="#00ff78"/><stop offset="0.225" stop-color="#00ff74"/><stop offset="0.250" stop-color="#00ff6e"/><stop offset="0.275" stop-color="#00ff68"/><stop offset="0.300" stop-color="#00ff62"/><stop offset="0.325" stop-color="#00ff5a"/><stop offset="0.350" stop-color="#00ff51"/><stop offset="0.375" stop-color="#00ff46"/><stop offset="0.400" stop-color="#1aff38"/><stop offset="0.425" stop-color="#58ff23"/><stop offset="0.450" stop-color="#79ff00"/><stop offset="0.475" stop-color="#92ff00"/><stop offset="0.500" stop-color="#a8ff00"/><stop offset="0.525" stop-color="#bbff00"/><stop offset="0.550" stop-color="#cdff00"/><stop offset="0.575" stop-color="#deff00"/><stop offset="0.600" stop-color="#efff00"/><stop offset="0.625" stop-color="#feff00"/><stop offset="0.650" stop-color="#fff100"/><stop offset="0.675" stop-color="#ffe400"/><stop offset="0.700" stop-color="#ffd800"/><stop offset="0.725" stop-color="#ffce00"/><stop offset="0.750" stop-color="#ffc400"/><stop offset="0.775" stop-color="#ffbb00"/><stop offset="0.800" stop-color="#ffb300"/><stop offset="0.825" stop-color="#ffab00"/><stop offset="0.850" stop-color="#ffa400"/><stop offset="0.875" stop-color="#ff9d00"/><stop offset="0.900" stop-color="#ff9700"/><stop offset="0.925" stop-color="#ff9000"/><stop offset="0.950" stop-color="#ff8a00"/><stop offset="0.975" stop-color="#ff8500"/><stop offset="1.000" stop-color="#ff7f00"/></linearGradient>
<linearGradient id="cg36" gradientUnits="userSpaceOnUse" x1="1306.3" y1="0" x2="1665.6" y2="0"><stop offset="0.000" stop-color="#00ff99"/><stop offset="0.025" stop-color="#00ff95"/><stop offset="0.050" stop-color="#00ff92"/><stop offset="0.075" stop-color="#00ff8f"/><stop offset="0.100" stop-color="#00ff8b"/><stop offset="0.125" stop-color="#00ff88"/><stop offset="0.150" stop-color="#00ff84"/><stop offset="0.175" stop-color="#00ff80"/><stop offset="0.200" stop-color="#00ff7c"/><stop offset="0.225" stop-color="#00ff77"/><stop offset="0.250" stop-color="#00ff72"/><stop offset="0.275" stop-color="#00ff6d"/><stop offset="0.300" stop-color="#00ff66"/><stop offset="0.325" stop-color="#00ff5f"/><stop offset="0.350" stop-color="#00ff57"/><stop offset="0.375" stop-color="#00ff4d"/><stop offset="0.400" stop-color="#27ff41"/><stop offset="0.425" stop-color="#5dff30"/><stop offset="0.450" stop-color="#7dff11"/><stop offset="0.475" stop-color="#96ff00"/><stop offset="0.500" stop-color="#abff00"/><stop offset="0.525" stop-color="#bfff00"/><stop offset="0.550" stop-color="#d1ff00"/><stop offset="0.575" stop-color="#e2ff00"/><stop offset="0.600" stop-color="#f2ff00"/><stop offset="0.625" stop-color="#fffc00"/><stop offset="0.650" stop-color="#ffed00"/><stop offset="0.675" stop-color="#ffe100"/><stop offset="0.700" stop-color="#ffd500"/><stop offset="0.725" stop-color="#ffcb00"/><stop offset="0.750" stop-color="#ffc100"/><stop offset="0.775" stop-color="#ffb900"/><stop offset="0.800" stop-color="#ffb000"/><stop offset="0.825" stop-color="#ffa900"/><stop offset="0.850" stop-color="#ffa100"/><stop offset="0.875" stop-color="#ff9b00"/><stop offset="0.900" stop-color="#ff9400"/><stop offset="0.925" stop-color="#ff8e00"/><stop offset="0.950" stop-color="#ff8800"/><stop offset="0.975" stop-color="#ff8200"/><stop offset="1.000" stop-color="#ff7c00"/></linearGradient>
<linearGradient id="cg37" gradientUnits="userSpaceOnUse" x1="1306.3" y1="0" x2="1665.6" y2="0"><stop offset="0.000" stop-color="#00ff9a"/><stop offset="0.025" stop-color="#00ff97"/><stop offset="0.050" stop-color="#00ff95"/><stop offset="0.075" stop-color="#00ff92"/><stop offset="0.100" stop-color="#00ff8f"/><stop offset="0.125" stop-color="#00ff8b"/><stop offset="0.150" stop-color="#00ff88"/><stop offset="0.175" stop-color="#00ff84"/><stop offset="0.200" stop-color="#00ff80"/><stop offset="0.225" stop-color="#00ff7b"/><stop offset="0.250" stop-color="#00ff76"/><stop offset="0.275" stop-color="#00ff71"/><stop offset="0.300" stop-color="#00ff6b"/><stop offset="0.325" stop-color="#00ff64"/><stop offset="0.350" stop-color="#00ff5c"/><stop offset="0.375" stop-color="#00ff53"/><stop offset="0.400" stop-color="#31ff48"/><stop offset="0.425" stop-color="#62ff3a"/><stop offset="0.450" stop-color="#81ff25"/><stop offset="0.475" stop-color="#9aff00"/><stop offset="0.500" stop-color="#afff00"/><stop offset="0.525" stop-color="#c2ff00"/><stop offset="0.550" stop-color="#d4ff00"/><stop offset="0.575" stop-color="#e6ff00"/><stop offset="0.600" stop-color="#f6ff00"/><stop offset="0.625" stop-color="#fff800"/><stop offset="0.650" stop-color="#ffea00"/><stop offset="0.675" stop-color="#ffdd00"/><stop offset="0.700" stop-color="#ffd200"/><stop offset="0.725" stop-color="#ffc800"/><stop offset="0.750" stop-color="#ffbe00"/><stop offset="0.775" stop-color="#ffb600"/><stop offset="0.800" stop-color="#ffae00"/><stop offset="0.825" stop-color="#ffa600"/><stop offset="0.850" stop-color="#ff9f00"/><stop offset="0.875" stop-color="#ff9800"/><stop offset="0.900" stop-color="#ff9100"/><stop offset="0.925" stop-color="#ff8b00"/><stop offset="0.950" stop-color="#ff8500"/><stop offset="0.975" stop-color="#ff7f00"/><stop offset="1.000" stop-color="#ff7a00"/></linearGradient>
<linearGradient id="cg38" gradientUnits="userSpaceOnUse" x1="1306.3" y1="0" x2="1665.6" y2="0"><stop offset="0.000" stop-color="#00ff9d"/><stop offset="0.025" stop-color="#00ff9a"/><stop offset="0.050" stop-color="#00ff98"/><stop offset="0.075" stop-color="#00ff95"/><stop offset="0.100" stop-color="#00ff92"/><stop offset="0.125" stop-color="#00ff8f"/><stop offset="0.150" stop-color="#00ff8b"/><stop offset="0.175" stop-color="#00ff87"/><stop offset="0.200" stop-color="#00ff83"/><stop offset="0.225" stop-color="#00ff7f"/><stop offset="0.250" stop-color="#00ff7a"/><stop offset="0.275" stop-color="#00ff75"/><stop offset="0.300" stop-color="#00ff6f"/><stop offset="0.325" stop-color="#00ff69"/><stop offset="0.350" stop-color="#00ff62"/><stop offset="0.375" stop-color="#00ff59"/><stop offset="0.400" stop-color="#39ff4f"/><stop offset="0.425" stop-color="#67ff43"/><stop offset="0.450" stop-color="#85ff32"/><stop offset="0.475" stop-color="#9dff12"/><stop offset="0.500" stop-color="#b3ff00"/><stop offset="0.525" stop-color="#c6ff00"/><stop offset="0.550" stop-color="#d8ff00"/><stop offset="0.575" stop-color="#e9ff00"/><stop offset="0.600" stop-color="#faff00"/><stop offset="0.625" stop-color="#fff400"/><stop offset="0.650" stop-color="#ffe600"/><stop offset="0.675" stop-color="#ffda00"/><stop offset="0.700" stop-color="#ffcf00"/><stop offset="0.725" stop-color="#ffc500"/><stop offset="0.750" stop-color="#ffbc00"/><stop offset="0.775" stop-color="#ffb300"/><stop offset="0.800" stop-color="#ffab00"/><stop offset="0.825" stop-color="#ffa300"/><stop offset="0.850" stop-color="#ff9c00"/><stop offset="0.875" stop-color="#ff9500"/><stop offset="0.900" stop-color="#ff8f00"/><stop offset="0.925" stop-color="#ff8900"/><stop offset="0.950" stop-color="#ff8300"/><stop offset="0.975" stop-color="#ff7d00"/><stop offset="1.000" stop-color="#ff7700"/></linearGradient>
<linearGradient id="cg39" gradientUnits="userSpaceOnUse" x1="1306.3" y1="0" x2="1665.6" y2="0"><stop offset="0.000" stop-color="#00ffa0"/><stop offset="0.025" stop-color="#00ff9d"/><stop offset="0.050" stop-color="#00ff9a"/><stop offset="0.075" stop-color="#00ff98"/><stop offset="0.100" stop-color="#00ff95"/><stop offset="0.125" stop-color="#00ff92"/><stop offset="0.150" stop-color="#00ff8e"/><stop offset="0.175" stop-color="#00ff8b"/><stop offset="0.200" stop-color="#00ff87"/><stop offset="0.225" stop-color="#00ff83"/><stop offset="0.250" stop-color="#00ff7e"/><stop offset="0.275" stop-color="#00ff79"/><stop offset="0.300" stop-color="#00ff74"/><stop offset="0.325" stop-color="#00ff6e"/><stop offset="0.350" stop-color="#00ff67"/><stop offset="0.375" stop-color="#00ff5f"/><stop offset="0.400" stop-color="#40ff56"/><stop offset="0.425" stop-color="#6bff4b"/><stop offset="0.450" stop-color="#89ff3c"/><stop offset="0.475" stop-color="#a1ff26"/><stop offset="0.500" stop-color="#b6ff00"/><stop offset="0.525" stop-color="#caff00"/><stop offset="0.550" stop-color="#dcff00"/><stop offset="0.575" stop-color="#edff00"/><stop offset="0.600" stop-color="#feff00"/><stop offset="0.625" stop-color="#fff100"/><stop offset="0.650" stop-color="#ffe300"/><stop offset="0.675" stop-color="#ffd700"/><stop offset="0.700" stop-color="#ffcc00"/><stop offset="0.725" stop-color="#ffc200"/><stop offset="0.750" stop-color="#ffb900"/><stop offset="0.775" stop-color="#ffb000"/><stop offset="0.800" stop-color="#ffa800"/><stop offset="0.825" stop-color="#ffa100"/><stop offset="0.850" stop-color="#ff9900"/><stop offset="0.875" stop-color="#ff9300"/><stop offset="0.900" stop-color="#ff8c00"/><stop offset="0.925" stop-color="#ff8600"/><stop offset="0.950" stop-color="#ff8000"/><stop offset="0.975" stop-color="#ff7a00"/><stop offset="1.000" stop-color="#ff7500"/></linearGradient>
<linearGradient id="cg40" gradientUnits="userSpaceOnUse" x1="1306.3" y1="0" x2="1665.6" y2="0"><stop offset="0.000" stop-color="#00ffa2"/><stop offset="0.025" stop-color="#00ffa0"/><stop offset="0.050" stop-color="#00ff9d"/><stop offset="0.075" stop-color="#00ff9b"/><stop offset="0.100" stop-color="#00ff98"/><stop offset="0.125" stop-color="#00ff95"/><stop offset="0.150" stop-color="#00ff92"/><stop offset="0.175" stop-color="#00ff8e"/><stop offset="0.200" stop-color="#00ff8b"/><stop offset="0.225" stop-color="#00ff87"/><stop offset="0.250" stop-color="#00ff82"/><stop offset="0.275" stop-color="#00ff7d"/><stop offset="0.300" stop-color="#00ff78"/><stop offset="0.325" stop-color="#00ff72"/><stop offset="0.350" stop-color="#00ff6c"/><stop offset="0.375" stop-color="#00ff65"/><stop offset="0.400" stop-color="#47ff5c"/><stop offset="0.425" stop-color="#70ff52"/><stop offset="0.450" stop-color="#8dff45"/><stop offset="0.475" stop-color="#a5ff34"/><stop offset="0.500" stop-color="#baff14"/><stop offset="0.525" stop-color="#cdff00"/><stop offset="0.550" stop-color="#dfff00"/><stop offset="0.575" stop-color="#f1ff00"/><stop offset="0.600" stop-color="#fffc00"/><stop offset="0.625" stop-color="#ffed00"/><stop offset="0.650" stop-color="#ffe000"/><stop offset="0.675" stop-color="#ffd400"/><stop offset="0.700" stop-color="#ffc900"/><stop offset="0.725" stop-color="#ffbf00"/><stop offset="0.750" stop-color="#ffb600"/><stop offset="0.775" stop-color="#ffad00"/><stop offset="0.800" stop-color="#ffa500"/><stop offset="0.825" stop-color="#ff9e00"/><stop offset="0.850" stop-color="#ff9700"/><stop offset="0.875" stop-color="#ff9000"/><stop offset="0.900" stop-color="#ff8a00"/><stop offset="0.925" stop-color="#ff8300"/><stop offset="0.950" stop-color="#ff7d00"/><stop offset="0.975" stop-color="#ff7700"/><stop offset="1.000" stop-color="#ff7200"/></linearGradient>
<linearGradient id="cg41" gradientUnits="userSpaceOnUse" x1="1306.3" y1="0" x2="1665.6" y2="0"><stop offset="0.000" stop-color="#00ffa5"/><stop offset="0.025" stop-color="#00ffa3"/><stop offset="0.050" stop-color="#00ffa0"/><stop offset="0.075" stop-color="#00ff9e"/><stop offset="0.100" stop-color="#00ff9b"/><stop offset="0.125" stop-color="#00ff98"/><stop offset="0.150" stop-color="#00ff95"/><stop offset="0.175" stop-color="#00ff92"/><stop offset="0.200" stop-color="#00ff8e"/><stop offset="0.225" stop-color="#00ff8a"/><stop offset="0.250" stop-color="#00ff86"/><stop offset="0.275" stop-color="#00ff82"/><stop offset="0.300" stop-color="#00ff7d"/><stop offset="0.325" stop-color="#00ff77"/><stop offset="0.350" stop-color="#00ff71"/><stop offset="0.375" stop-color="#00ff6a"/><stop offset="0.400" stop-color="#4dff62"/><stop offset="0.425" stop-color="#74ff58"/><stop offset="0.450" stop-color="#91ff4d"/><stop offset="0.475" stop-color="#a8ff3e"/><stop offset="0.500" stop-color="#bdff28"/><stop offset="0.525" stop-color="#d1ff00"/><stop offset="0.550" stop-color="#e3ff00"/><stop offset="0.575" stop-color="#f5ff00"/><stop offset="0.600" stop-color="#fff800"/><stop offset="0.625" stop-color="#ffe900"/><stop offset="0.650" stop-color="#ffdc00"/><stop offset="0.675" stop-color="#ffd000"/><stop offset="0.700" stop-color="#ffc600"/><stop offset="0.725" stop-color="#ffbc00"/><stop offset="0.750" stop-color="#ffb300"/><stop offset="0.775" stop-color="#ffaa00"/><stop offset="0.800" stop-color="#ffa200"/><stop offset="0.825" stop-color="#ff9b00"/><stop offset="0.850" stop-color="#ff9400"/><stop offset="0.875" stop-color="#ff8d00"/><stop offset="0.900" stop-color="#ff8700"/><stop offset="0.925" stop-color="#ff8100"/><stop offset="0.950" stop-color="#ff7b00"/><stop offset="0.975" stop-color="#ff7500"/><stop offset="1.000" stop-color="#ff6f00"/></linearGradient>
<linearGradient id="cg42" gradientUnits="userSpaceOnUse" x1="1306.3" y1="0" x2="1665.6" y2="0"><stop offset="0.000" stop-color="#00ffa8"/><stop offset="0.025" stop-color="#00ffa6"/><stop offset="0.050" stop-color="#00ffa3"/><stop offset="0.075" stop-color="#00ffa1"/><stop offset="0.100" stop-color="#00ff9e"/><stop offset="0.125" stop-color="#00ff9b"/><stop offset="0.150" stop-color="#00ff98"/><stop offset="0.175" stop-color="#00ff95"/><stop offset="0.200" stop-color="#00ff92"/><stop offset="0.225" stop-color="#00ff8e"/><stop offset="0.250" stop-color="#00ff8a"/><stop offset="0.275" stop-color="#00ff86"/><stop offset="0.300" stop-color="#00ff81"/><stop offset="0.325" stop-color="#00ff7c"/><stop offset="0.350" stop-color="#00ff76"/><stop offset="0.375" stop-color="#00ff6f"/><stop offset="0.400" stop-color="#53ff68"/><stop offset="0.425" stop-color="#79ff5f"/><stop offset="0.450" stop-color="#95ff54"/><stop offset="0.475" stop-color="#acff47"/><stop offset="0.500" stop-color="#c1ff36"/><stop offset="0.525" stop-color="#d5ff15"/><stop offset="0.550" stop-color="#e7ff00"/><stop offset="0.575" stop-color="#f9ff00"/><stop offset="0.600" stop-color="#fff400"/><stop offset="0.625" stop-color="#ffe600"/><stop offset="0.650" stop-color="#ffd900"/><stop offset="0.675" stop-color="#ffcd00"/><stop offset="0.700" stop-color="#ffc200"/><stop offset="0.725" stop-color="#ffb900"/><stop offset="0.750" stop-color="#ffb000"/><stop offset="0.775" stop-color="#ffa700"/><stop offset="0.800" stop-color="#ffa000"/><stop offset="0.825" stop-color="#ff9800"/><stop offset="0.850" stop-color="#ff9100"/><stop offset="0.875" stop-color="#ff8a00"/><stop offset="0.900" stop-color="#ff8400"/><stop offset="0.925" stop-color="#ff7e00"/><stop offset="0.950" stop-color="#ff7800"/><stop offset="0.975" stop-color="#ff7200"/><stop offset="1.000" stop-color="#ff6c00"/></linearGradient>
<linearGradient id="cg43" gradientUnits="userSpaceOnUse" x1="1306.3" y1="0" x2="1665.6" y2="0"><stop offset="0.000" stop-color="#00ffab"/><stop offset="0.025" stop-color="#00ffa9"/><stop offset="0.050" stop-color="#00ffa6"/><stop offset="0.075" stop-color="#00ffa4"/><stop offset="0.100" stop-color="#00ffa1"/><stop offset="0.125" stop-color="#00ff9f"/><stop offset="0.150" stop-color="#00ff9c"/><stop offset="0.175" stop-color="#00ff99"/><stop offset="0.200" stop-color="#00ff95"/><stop offset="0.225" stop-color="#00ff92"/><stop offset="0.250" stop-color="#00ff8e"/><stop offset="0.275" stop-color="#00ff8a"/><stop offset="0.300" stop-color="#00ff85"/><stop offset="0.325" stop-color="#00ff80"/><stop offset="0.350" stop-color="#00ff7a"/><stop offset="0.375" stop-color="#01ff74"/><stop offset="0.400" stop-color="#59ff6d"/><stop offset="0.425" stop-color="#7dff65"/><stop offset="0.450" stop-color="#99ff5b"/><stop offset="0.475" stop-color="#b0ff50"/><stop offset="0.500" stop-color="#c5ff41"/><stop offset="0.525" stop-color="#d9ff2a"/><stop offset="0.550" stop-color="#ebff00"/><stop offset="0.575" stop-color="#fdff00"/><stop offset="0.600" stop-color="#fff000"/><stop offset="0.625" stop-color="#ffe200"/><stop offset="0.650" stop-color="#ffd500"/><stop offset="0.675" stop-color="#ffca00"/><stop offset="0.700" stop-color="#ffbf00"/><stop offset="0.725" stop-color="#ffb600"/><stop offset="0.750" stop-color="#ffad00"/><stop offset="0.775" stop-color="#ffa400"/><stop offset="0.800" stop-color="#ff9d00"/><stop offset="0.825" stop-color="#ff9500"/><stop offset="0.850" stop-color="#ff8e00"/><stop offset="0.875" stop-color="#ff8800"/><stop offset="0.900" stop-color="#ff8100"/><stop offset="0.925" stop-color="#ff7b00"/><stop offset="0.950" stop-color="#ff7500"/><stop offset="0.975" stop-color="#ff6f00"/><stop offset="1.000" stop-color="#ff6900"/></linearGradient>
<linearGradient id="cg44" gradientUnits="userSpaceOnUse" x1="1306.3" y1="0" x2="1665.6" y2="0"><stop offset="0.000" stop-color="#00ffae"/><stop offset="0.025" stop-color="#00ffab"/><stop offset="0.050" stop-color="#00ffa9"/><stop offset="0.075" stop-color="#00ffa7"/><stop offset="0.100" stop-color="#00ffa4"/><stop offset="0.125" stop-color="#00ffa2"/><stop offset="0.150" stop-color="#00ff9f"/><stop offset="0.175" stop-color="#00ff9c"/><stop offset="0.200" stop-color="#00ff99"/><stop offset="0.225" stop-color="#00ff95"/><stop offset="0.250" stop-color="#00ff92"/><stop offset="0.275" stop-color="#00ff8e"/><stop offset="0.300" stop-color="#00ff89"/><stop offset="0.325" stop-color="#00ff85"/><stop offset="0.350" stop-color="#00ff7f"/><stop offset="0.375" stop-color="#1cff79"/><stop offset="0.400" stop-color="#5fff73"/><stop offset="0.425" stop-color="#81ff6b"/><stop offset="0.450" stop-color="#9dff62"/><stop offset="0.475" stop-color="#b4ff58"/><stop offset="0.500" stop-color="#c9ff4a"/><stop offset="0.525" stop-color="#ddff38"/><stop offset="0.550" stop-color="#efff16"/><stop offset="0.575" stop-color="#fffd00"/><stop offset="0.600" stop-color="#ffec00"/><stop offset="0.625" stop-color="#ffde00"/><stop offset="0.650" stop-color="#ffd200"/><stop offset="0.675" stop-color="#ffc600"/><stop offset="0.700" stop-color="#ffbc00"/><stop offset="0.725" stop-color="#ffb200"/><stop offset="0.750" stop-color="#ffaa00"/><stop offset="0.775" stop-color="#ffa100"/><stop offset="0.800" stop-color="#ff9a00"/><stop offset="0.825" stop-color="#ff9200"/><stop offset="0.850" stop-color="#ff8b00"/><stop offset="0.875" stop-color="#ff8500"/><stop offset="0.900" stop-color="#ff7e00"/><stop offset="0.925" stop-color="#ff7800"/><stop offset="0.950" stop-color="#ff7200"/><stop offset="0.975" stop-color="#ff6c00"/><stop offset="1.000" stop-color="#ff6600"/></linearGradient>
<linearGradient id="cg45" gradientUnits="userSpaceOnUse" x1="1306.3" y1="0" x2="1665.6" y2="0"><stop offset="0.000" stop-color="#00ffb0"/><stop offset="0.025" stop-color="#00ffae"/><stop offset="0.050" stop-color="#00ffac"/><stop offset="0.075" stop-color="#00ffaa"/><stop offset="0.100" stop-color="#00ffa8"/><stop offset="0.125" stop-color="#00ffa5"/><stop offset="0.150" stop-color="#00ffa2"/><stop offset="0.175" stop-color="#00ffa0"/><stop offset="0.200" stop-color="#00ff9c"/><stop offset="0.225" stop-color="#00ff99"/><stop offset="0.250" stop-color="#00ff96"/><stop offset="0.275" stop-color="#00ff92"/><stop offset="0.300" stop-color="#00ff8e"/><stop offset="0.325" stop-color="#00ff89"/><stop offset="0.350" stop-color="#00ff84"/><stop offset="0.375" stop-color="#2aff7e"/><stop offset="0.400" stop-color="#64ff78"/><stop offset="0.425" stop-color="#86ff71"/><stop offset="0.450" stop-color="#a1ff69"/><stop offset="0.475" stop-color="#b8ff5f"/><stop offset="0.500" stop-color="#cdff53"/><stop offset="0.525" stop-color="#e1ff43"/><stop offset="0.550" stop-color="#f4ff2c"/><stop offset="0.575" stop-color="#fff800"/><stop offset="0.600" stop-color="#ffe800"/><stop offset="0.625" stop-color="#ffdb00"/><stop offset="0.650" stop-color="#ffce00"/><stop offset="0.675" stop-color="#ffc300"/><stop offset="0.700" stop-color="#ffb900"/><stop offset="0.725" stop-color="#ffaf00"/><stop offset="0.750" stop-color="#ffa700"/><stop offset="0.775" stop-color="#ff9e00"/><stop offset="0.800" stop-color="#ff9700"/><stop offset="0.825" stop-color="#ff9000"/><stop offset="0.850" stop-color="#ff8900"/><stop offset="0.875" stop-color="#ff8200"/><stop offset="0.900" stop-color="#ff7b00"/><stop offset="0.925" stop-color="#ff7500"/><stop offset="0.950" stop-color="#ff6f00"/><stop offset="0.975" stop-color="#ff6900"/><stop offset="1.000" stop-color="#ff6300"/></linearGradient>
<linearGradient id="cg46" gradientUnits="userSpaceOnUse" x1="1306.3" y1="0" x2="1665.6" y2="0"><stop offset="0.000" stop-color="#00ffb3"/><stop offset="0.025" stop-color="#00ffb1"/><stop offset="0.050" stop-color="#00ffaf"/><stop offset="0.075" stop-color="#00ffad"/><stop offset="0.100" stop-color="#00ffab"/><stop offset="0.125" stop-color="#00ffa8"/><stop offset="0.150" stop-color="#00ffa6"/><stop offset="0.175" stop-color="#00ffa3"/><stop offset="0.200" stop-color="#00ffa0"/><stop offset="0.225" stop-color="#00ff9d"/><stop offset="0.250" stop-color="#00ff99"/><stop offset="0.275" stop-color="#00ff96"/><stop offset="0.300" stop-color="#00ff92"/><stop offset="0.325" stop-color="#00ff8d"/><stop offset="0.350" stop-color="#00ff89"/><stop offset="0.375" stop-color="#34ff83"/><stop offset="0.400" stop-color="#69ff7d"/><stop offset="0.425" stop-color="#8aff76"/><stop offset="0.450" stop-color="#a5ff6f"/><stop offset="0.475" stop-color="#bcff66"/><stop offset="0.500" stop-color="#d1ff5b"/><stop offset="0.525" stop-color="#e5ff4d"/><stop offset="0.550" stop-color="#f8ff3b"/><stop offset="0.575" stop-color="#fff416"/><stop offset="0.600" stop-color="#ffe500"/><stop offset="0.625" stop-color="#ffd700"/><stop offset="0.650" stop-color="#ffcb00"/><stop offset="0.675" stop-color="#ffc000"/><stop offset="0.700" stop-color="#ffb600"/><stop offset="0.725" stop-color="#ffac00"/><stop offset="0.750" stop-color="#ffa400"/><stop offset="0.775" stop-color="#ff9b00"/><stop offset="0.800" stop-color="#ff9400"/><stop offset="0.825" stop-color="#ff8d00"/><stop offset="0.850" stop-color="#ff8600"/><stop offset="0.875" stop-color="#ff7f00"/><stop offset="0.900" stop-color="#ff7800"/><stop offset="0.925" stop-color="#ff7200"/><stop offset="0.950" stop-color="#ff6c00"/><stop offset="0.975" stop-color="#ff6600"/><stop offset="1.000" stop-color="#ff6000"/></linearGradient>
<linearGradient id="cg47" gradientUnits="userSpaceOnUse" x1="1306.3" y1="0" x2="1665.6" y2="0"><stop offset="0.000" stop-color="#00ffb6"/><stop offset="0.025" stop-color="#00ffb4"/><stop offset="0.050" stop-color="#00ffb2"/><stop offset="0.075" stop-color="#00ffb0"/><stop offset="0.100" stop-color="#00ffae"/><stop offset="0.125" stop-color="#00ffac"/><stop offset="0.150" stop-color="#00ffa9"/><stop offset="0.175" stop-color="#00ffa7"/><stop offset="0.200" stop-color="#00ffa4"/><stop offset="0.225" stop-color="#00ffa1"/><stop offset="0.250" stop-color="#00ff9d"/><stop offset="0.275" stop-color="#00ff9a"/><stop offset="0.300" stop-color="#00ff96"/><stop offset="0.325" stop-color="#00ff92"/><stop offset="0.350" stop-color="#00ff8d"/><stop offset="0.375" stop-color="#3dff88"/><stop offset="0.400" stop-color="#6eff82"/><stop offset="0.425" stop-color="#8fff7c"/><stop offset="0.450" stop-color="#a9ff75"/><stop offset="0.475" stop-color="#c0ff6c"/><stop offset="0.500" stop-color="#d5ff62"/><stop offset="0.525" stop-color="#e9ff56"/><stop offset="0.550" stop-color="#fcff46"/><stop offset="0.575" stop-color="#fff02b"/><stop offset="0.600" stop-color="#ffe100"/><stop offset="0.625" stop-color="#ffd300"/><stop offset="0.650" stop-color="#ffc700"/><stop offset="0.675" stop-color="#ffbc00"/><stop offset="0.700" stop-color="#ffb200"/><stop offset="0.725" stop-color="#ffa900"/><stop offset="0.750" stop-color="#ffa000"/><stop offset="0.775" stop-color="#ff9800"/><stop offset="0.800" stop-color="#ff9100"/><stop offset="0.825" stop-color="#ff8a00"/><stop offset="0.850" stop-color="#ff8300"/><stop offset="0.875" stop-color="#ff7c00"/><stop offset="0.900" stop-color="#ff7500"/><stop offset="0.925" stop-color="#ff6f00"/><stop offset="0.950" stop-color="#ff6900"/><stop offset="0.975" stop-color="#ff6300"/><stop offset="1.000" stop-color="#ff5d00"/></linearGradient>
<linearGradient id="cg48" gradientUnits="userSpaceOnUse" x1="1306.3" y1="0" x2="1665.6" y2="0"><stop offset="0.000" stop-color="#00ffb9"/><stop offset="0.025" stop-color="#00ffb7"/><stop offset="0.050" stop-color="#00ffb5"/><stop offset="0.075" stop-color="#00ffb3"/><stop offset="0.100" stop-color="#00ffb1"/><stop offset="0.125" stop-color="#00ffaf"/><stop offset="0.150" stop-color="#00ffad"/><stop offset="0.175" stop-color="#00ffaa"/><stop offset="0.200" stop-color="#00ffa7"/><stop offset="0.225" stop-color="#00ffa4"/><stop offset="0.250" stop-color="#00ffa1"/><stop offset="0.275" stop-color="#00ff9e"/><stop offset="0.300" stop-color="#00ff9a"/><stop offset="0.325" stop-color="#00ff96"/><stop offset="0.350" stop-color="#00ff92"/><stop offset="0.375" stop-color="#45ff8d"/><stop offset="0.400" stop-color="#73ff88"/><stop offset="0.425" stop-color="#93ff82"/><stop offset="0.450" stop-color="#adff7b"/><stop offset="0.475" stop-color="#c4ff73"/><stop offset="0.500" stop-color="#d9ff6a"/><stop offset="0.525" stop-color="#eeff5f"/><stop offset="0.550" stop-color="#fffd50"/><stop offset="0.575" stop-color="#ffec38"/><stop offset="0.600" stop-color="#ffdd15"/><stop offset="0.625" stop-color="#ffcf00"/><stop offset="0.650" stop-color="#ffc400"/><stop offset="0.675" stop-color="#ffb900"/><stop offset="0.700" stop-color="#ffaf00"/><stop offset="0.725" stop-color="#ffa600"/><stop offset="0.750" stop-color="#ff9d00"/><stop offset="0.775" stop-color="#ff9500"/><stop offset="0.800" stop-color="#ff8e00"/><stop offset="0.825" stop-color="#ff8600"/><stop offset="0.850" stop-color="#ff8000"/><stop offset="0.875" stop-color="#ff7900"/><stop offset="0.900" stop-color="#ff7200"/><stop offset="0.925" stop-color="#ff6c00"/><stop offset="0.950" stop-color="#ff6600"/><stop offset="0.975" stop-color="#ff5f00"/><stop offset="1.000" stop-color="#ff5900"/></linearGradient>
<linearGradient id="cg49" gradientUnits="userSpaceOnUse" x1="1306.3" y1="0" x2="1665.6" y2="0"><stop offset="0.000" stop-color="#00ffbc"/><stop offset="0.025" stop-color="#00ffba"/><stop offset="0.050" stop-color="#00ffb9"/><stop offset="0.075" stop-color="#00ffb7"/><stop offset="0.100" stop-color="#00ffb5"/><stop offset="0.125" stop-color="#00ffb2"/><stop offset="0.150" stop-color="#00ffb0"/><stop offset="0.175" stop-color="#00ffae"/><stop offset="0.200" stop-color="#00ffab"/><stop offset="0.225" stop-color="#00ffa8"/><stop offset="0.250" stop-color="#00ffa5"/><stop offset="0.275" stop-color="#00ffa2"/><stop offset="0.300" stop-color="#00ff9e"/><stop offset="0.325" stop-color="#00ff9b"/><stop offset="0.350" stop-color="#00ff96"/><stop offset="0.375" stop-color="#4dff92"/><stop offset="0.400" stop-color="#78ff8d"/><stop offset="0.425" stop-color="#97ff87"/><stop offset="0.450" stop-color="#b1ff81"/><stop offset="0.475" stop-color="#c8ff79"/><stop offset="0.500" stop-color="#deff71"/><stop offset="0.525" stop-color="#f2ff67"/><stop offset="0.550" stop-color="#fff958"/><stop offset="0.575" stop-color="#ffe842"/><stop offset="0.600" stop-color="#ffd928"/><stop offset="0.625" stop-color="#ffcc00"/><stop offset="0.650" stop-color="#ffc000"/><stop offset="0.675" stop-color="#ffb500"/><stop offset="0.700" stop-color="#ffac00"/><stop offset="0.725" stop-color="#ffa300"/><stop offset="0.750" stop-color="#ff9a00"/><stop offset="0.775" stop-color="#ff9200"/><stop offset="0.800" stop-color="#ff8b00"/><stop offset="0.825" stop-color="#ff8300"/><stop offset="0.850" stop-color="#ff7c00"/><stop offset="0.875" stop-color="#ff7600"/><stop offset="0.900" stop-color="#ff6f00"/><stop offset="0.925" stop-color="#ff6900"/><stop offset="0.950" stop-color="#ff6200"/><stop offset="0.975" stop-color="#ff5c00"/><stop offset="1.000" stop-color="#ff5600"/></linearGradient>
<linearGradient id="cg50" gradientUnits="userSpaceOnUse" x1="1306.3" y1="0" x2="1665.6" y2="0"><stop offset="0.000" stop-color="#00ffbf"/><stop offset="0.025" stop-color="#00ffbd"/><stop offset="0.050" stop-color="#00ffbc"/><stop offset="0.075" stop-color="#00ffba"/><stop offset="0.100" stop-color="#00ffb8"/><stop offset="0.125" stop-color="#00ffb6"/><stop offset="0.150" stop-color="#00ffb4"/><stop offset="0.175" stop-color="#00ffb1"/><stop offset="0.200" stop-color="#00ffaf"/><stop offset="0.225" stop-color="#00ffac"/><stop offset="0.250" stop-color="#00ffa9"/><stop offset="0.275" stop-color="#00ffa6"/><stop offset="0.300" stop-color="#00ffa3"/><stop offset="0.325" stop-color="#00ff9f"/><stop offset="0.350" stop-color="#00ff9b"/><stop offset="0.375" stop-color="#53ff97"/><stop offset="0.400" stop-color="#7dff92"/><stop offset="0.425" stop-color="#9cff8c"/><stop offset="0.450" stop-color="#b6ff86"/><stop offset="0.475" stop-color="#cdff7f"/><stop offset="0.500" stop-color="#e2ff77"/><stop offset="0.525" stop-color="#f7ff6e"/><stop offset="0.550" stop-color="#fff45e"/><stop offset="0.575" stop-color="#ffe34a"/><stop offset="0.600" stop-color="#ffd534"/><stop offset="0.625" stop-color="#ffc813"/><stop offset="0.650" stop-color="#ffbc00"/><stop offset="0.675" stop-color="#ffb200"/><stop offset="0.700" stop-color="#ffa800"/><stop offset="0.725" stop-color="#ff9f00"/><stop offset="0.750" stop-color="#ff9700"/><stop offset="0.775" stop-color="#ff8f00"/><stop offset="0.800" stop-color="#ff8700"/><stop offset="0.825" stop-color="#ff8000"/><stop offset="0.850" stop-color="#ff7900"/><stop offset="0.875" stop-color="#ff7200"/><stop offset="0.900" stop-color="#ff6c00"/><stop offset="0.925" stop-color="#ff6500"/><stop offset="0.950" stop-color="#ff5f00"/><stop offset="0.975" stop-color="#ff5800"/><stop offset="1.000" stop-color="#ff5200"/></linearGradient>
<linearGradient id="cg51" gradientUnits="userSpaceOnUse" x1="1306.3" y1="0" x2="1665.6" y2="0"><stop offset="0.000" stop-color="#00ffc2"/><stop offset="0.025" stop-color="#00ffc0"/><stop offset="0.050" stop-color="#00ffbf"/><stop offset="0.075" stop-color="#00ffbd"/><stop offset="0.100" stop-color="#00ffbb"/><stop offset="0.125" stop-color="#00ffb9"/><stop offset="0.150" stop-color="#00ffb7"/><stop offset="0.175" stop-color="#00ffb5"/><stop offset="0.200" stop-color="#00ffb2"/><stop offset="0.225" stop-color="#00ffb0"/><stop offset="0.250" stop-color="#00ffad"/><stop offset="0.275" stop-color="#00ffaa"/><stop offset="0.300" stop-color="#00ffa7"/><stop offset="0.325" stop-color="#00ffa3"/><stop offset="0.350" stop-color="#00ffa0"/><stop offset="0.375" stop-color="#5aff9c"/><stop offset="0.400" stop-color="#82ff97"/><stop offset="0.425" stop-color="#a0ff92"/><stop offset="0.450" stop-color="#baff8c"/><stop offset="0.475" stop-color="#d1ff86"/><stop offset="0.500" stop-color="#e7ff7e"/><stop offset="0.525" stop-color="#fbff76"/><stop offset="0.550" stop-color="#ffef64"/><stop offset="0.575" stop-color="#ffdf52"/><stop offset="0.600" stop-color="#ffd13e"/><stop offset="0.625" stop-color="#ffc426"/><stop offset="0.650" stop-color="#ffb900"/><stop offset="0.675" stop-color="#ffaf00"/><stop offset="0.700" stop-color="#ffa500"/><stop offset="0.725" stop-color="#ff9c00"/><stop offset="0.750" stop-color="#ff9400"/><stop offset="0.775" stop-color="#ff8c00"/><stop offset="0.800" stop-color="#ff8400"/><stop offset="0.825" stop-color="#ff7d00"/><stop offset="0.850" stop-color="#ff7600"/><stop offset="0.875" stop-color="#ff6f00"/><stop offset="0.900" stop-color="#ff6800"/><stop offset="0.925" stop-color="#ff6200"/><stop offset="0.950" stop-color="#ff5b00"/><stop offset="0.975" stop-color="#ff5500"/><stop offset="1.000" stop-color="#ff4e00"/></linearGradient>
<linearGradient id="cg52" gradientUnits="userSpaceOnUse" x1="1306.3" y1="0" x2="1665.6" y2="0"><stop offset="0.000" stop-color="#00ffc5"/><stop offset="0.025" stop-color="#00ffc4"/><stop offset="0.050" stop-color="#00ffc2"/><stop offset="0.075" stop-color="#00ffc0"/><stop offset="0.100" stop-color="#00ffbf"/><stop offset="0.125" stop-color="#00ffbd"/><stop offset="0.150" stop-color="#00ffbb"/><stop offset="0.175" stop-color="#00ffb9"/><stop offset="0.200" stop-color="#00ffb6"/><stop offset="0.225" stop-color="#00ffb4"/><stop offset="0.250" stop-color="#00ffb1"/><stop offset="0.275" stop-color="#00ffae"/><stop offset="0.300" stop-color="#00ffab"/><stop offset="0.325" stop-color="#00ffa8"/><stop offset="0.350" stop-color="#01ffa4"/><stop offset="0.375" stop-color="#60ffa0"/><stop offset="0.400" stop-color="#87ff9c"/><stop offset="0.425" stop-color="#a5ff97"/><stop offset="0.450" stop-color="#beff92"/><stop offset="0.475" stop-color="#d6ff8c"/><stop offset="0.500" stop-color="#ecff85"/><stop offset="0.525" stop-color="#fffe7c"/><stop offset="0.550" stop-color="#ffeb6a"/><stop offset="0.575" stop-color="#ffdb58"/><stop offset="0.600" stop-color="#ffcd46"/><stop offset="0.625" stop-color="#ffc131"/><stop offset="0.650" stop-color="#ffb512"/><stop offset="0.675" stop-color="#ffab00"/><stop offset="0.700" stop-color="#ffa200"/><stop offset="0.725" stop-color="#ff9900"/><stop offset="0.750" stop-color="#ff9000"/><stop offset="0.775" stop-color="#ff8800"/><stop offset="0.800" stop-color="#ff8100"/><stop offset="0.825" stop-color="#ff7a00"/><stop offset="0.850" stop-color="#ff7300"/><stop offset="0.875" stop-color="#ff6c00"/><stop offset="0.900" stop-color="#ff6500"/><stop offset="0.925" stop-color="#ff5e00"/><stop offset="0.950" stop-color="#ff5800"/><stop offset="0.975" stop-color="#ff5100"/><stop offset="1.000" stop-color="#ff4a00"/></linearGradient>
<linearGradient id="cg53" gradientUnits="userSpaceOnUse" x1="1306.3" y1="0" x2="1665.6" y2="0"><stop offset="0.000" stop-color="#00ffc8"/><stop offset="0.025" stop-color="#00ffc7"/><stop offset="0.050" stop-color="#00ffc5"/><stop offset="0.075" stop-color="#00ffc4"/><stop offset="0.100" stop-color="#00ffc2"/><stop offset="0.125" stop-color="#00ffc0"/><stop offset="0.150" stop-color="#00ffbe"/><stop offset="0.175" stop-color="#00ffbc"/><stop offset="0.200" stop-color="#00ffba"/><stop offset="0.225" stop-color="#00ffb8"/><stop offset="0.250" stop-color="#00ffb5"/><stop offset="0.275" stop-color="#00ffb3"/><stop offset="0.300" stop-color="#00ffb0"/><stop offset="0.325" stop-color="#00ffad"/><stop offset="0.350" stop-color="#1effa9"/><stop offset="0.375" stop-color="#66ffa5"/><stop offset="0.400" stop-color="#8cffa1"/><stop offset="0.425" stop-color="#a9ff9d"/><stop offset="0.450" stop-color="#c3ff98"/><stop offset="0.475" stop-color="#daff92"/><stop offset="0.500" stop-color="#f0ff8b"/><stop offset="0.525" stop-color="#fff980"/><stop offset="0.550" stop-color="#ffe76f"/><stop offset="0.575" stop-color="#ffd75e"/><stop offset="0.600" stop-color="#ffc94d"/><stop offset="0.625" stop-color="#ffbd3a"/><stop offset="0.650" stop-color="#ffb223"/><stop offset="0.675" stop-color="#ffa700"/><stop offset="0.700" stop-color="#ff9e00"/><stop offset="0.725" stop-color="#ff9500"/><stop offset="0.750" stop-color="#ff8d00"/><stop offset="0.775" stop-color="#ff8500"/><stop offset="0.800" stop-color="#ff7e00"/><stop offset="0.825" stop-color="#ff7600"/><stop offset="0.850" stop-color="#ff6f00"/><stop offset="0.875" stop-color="#ff6800"/><stop offset="0.900" stop-color="#ff6100"/><stop offset="0.925" stop-color="#ff5b00"/><stop offset="0.950" stop-color="#ff5400"/><stop offset="0.975" stop-color="#ff4d00"/><stop offset="1.000" stop-color="#ff4600"/></linearGradient>
<linearGradient id="cg54" gradientUnits="userSpaceOnUse" x1="1306.3" y1="0" x2="1665.6" y2="0"><stop offset="0.000" stop-color="#00ffcb"/><stop offset="0.025" stop-color="#00ffca"/><stop offset="0.050" stop-color="#00ffc8"/><stop offset="0.075" stop-color="#00ffc7"/><stop offset="0.100" stop-color="#00ffc5"/><stop offset="0.125" stop-color="#00ffc4"/><stop offset="0.150" stop-color="#00ffc2"/><stop offset="0.175" stop-color="#00ffc0"/><stop offset="0.200" stop-color="#00ffbe"/><stop offset="0.225" stop-color="#00ffbc"/><stop offset="0.250" stop-color="#00ffb9"/><stop offset="0.275" stop-color="#00ffb7"/><stop offset="0.300" stop-color="#00ffb4"/><stop offset="0.325" stop-color="#00ffb1"/><stop offset="0.350" stop-color="#2dffae"/><stop offset="0.375" stop-color="#6cffaa"/><stop offset="0.400" stop-color="#91ffa6"/><stop offset="0.425" stop-color="#aeffa2"/><stop offset="0.450" stop-color="#c8ff9d"/><stop offset="0.475" stop-color="#dfff98"/><stop offset="0.500" stop-color="#f5ff92"/><stop offset="0.525" stop-color="#fff485"/><stop offset="0.550" stop-color="#ffe273"/><stop offset="0.575" stop-color="#ffd363"/><stop offset="0.600" stop-color="#ffc553"/><stop offset="0.625" stop-color="#ffb942"/><stop offset="0.650" stop-color="#ffae2f"/><stop offset="0.675" stop-color="#ffa411"/><stop offset="0.700" stop-color="#ff9b00"/><stop offset="0.725" stop-color="#ff9200"/><stop offset="0.750" stop-color="#ff8a00"/><stop offset="0.775" stop-color="#ff8200"/><stop offset="0.800" stop-color="#ff7a00"/><stop offset="0.825" stop-color="#ff7300"/><stop offset="0.850" stop-color="#ff6c00"/><stop offset="0.875" stop-color="#ff6500"/><stop offset="0.900" stop-color="#ff5e00"/><stop offset="0.925" stop-color="#ff5700"/><stop offset="0.950" stop-color="#ff5000"/><stop offset="0.975" stop-color="#ff4900"/><stop offset="1.000" stop-color="#ff4100"/></linearGradient>
<linearGradient id="cg55" gradientUnits="userSpaceOnUse" x1="1306.3" y1="0" x2="1665.6" y2="0"><stop offset="0.000" stop-color="#00ffce"/><stop offset="0.025" stop-color="#00ffcd"/><stop offset="0.050" stop-color="#00ffcc"/><stop offset="0.075" stop-color="#00ffca"/><stop offset="0.100" stop-color="#00ffc9"/><stop offset="0.125" stop-color="#00ffc7"/><stop offset="0.150" stop-color="#00ffc6"/><stop offset="0.175" stop-color="#00ffc4"/><stop offset="0.200" stop-color="#00ffc2"/><stop offset="0.225" stop-color="#00ffc0"/><stop offset="0.250" stop-color="#00ffbd"/><stop offset="0.275" stop-color="#00ffbb"/><stop offset="0.300" stop-color="#00ffb9"/><stop offset="0.325" stop-color="#00ffb6"/><stop offset="0.350" stop-color="#39ffb3"/><stop offset="0.375" stop-color="#72ffaf"/><stop offset="0.400" stop-color="#96ffac"/><stop offset="0.425" stop-color="#b3ffa8"/><stop offset="0.450" stop-color="#ccffa3"/><stop offset="0.475" stop-color="#e4ff9e"/><stop offset="0.500" stop-color="#faff98"/><stop offset="0.525" stop-color="#ffef88"/><stop offset="0.550" stop-color="#ffde77"/><stop offset="0.575" stop-color="#ffce68"/><stop offset="0.600" stop-color="#ffc158"/><stop offset="0.625" stop-color="#ffb549"/><stop offset="0.650" stop-color="#ffaa37"/><stop offset="0.675" stop-color="#ffa022"/><stop offset="0.700" stop-color="#ff9700"/><stop offset="0.725" stop-color="#ff8e00"/><stop offset="0.750" stop-color="#ff8600"/><stop offset="0.775" stop-color="#ff7e00"/><stop offset="0.800" stop-color="#ff7700"/><stop offset="0.825" stop-color="#ff6f00"/><stop offset="0.850" stop-color="#ff6800"/><stop offset="0.875" stop-color="#ff6100"/><stop offset="0.900" stop-color="#ff5a00"/><stop offset="0.925" stop-color="#ff5300"/><stop offset="0.950" stop-color="#ff4c00"/><stop offset="0.975" stop-color="#ff4400"/><stop offset="1.000" stop-color="#ff3c00"/></linearGradient>
<linearGradient id="cg56" gradientUnits="userSpaceOnUse" x1="1306.3" y1="0" x2="1665.6" y2="0"><stop offset="0.000" stop-color="#00ffd2"/><stop offset="0.025" stop-color="#00ffd0"/><stop offset="0.050" stop-color="#00ffcf"/><stop offset="0.075" stop-color="#00ffce"/><stop offset="0.100" stop-color="#00ffcc"/><stop offset="0.125" stop-color="#00ffcb"/><stop offset="0.150" stop-color="#00ffc9"/><stop offset="0.175" stop-color="#00ffc8"/><stop offset="0.200" stop-color="#00ffc6"/><stop offset="0.225" stop-color="#00ffc4"/><stop offset="0.250" stop-color="#00ffc2"/><stop offset="0.275" stop-color="#00ffbf"/><stop offset="0.300" stop-color="#00ffbd"/><stop offset="0.325" stop-color="#00ffba"/><stop offset="0.350" stop-color="#43ffb8"/><stop offset="0.375" stop-color="#78ffb4"/><stop offset="0.400" stop-color="#9bffb1"/><stop offset="0.425" stop-color="#b8ffad"/><stop offset="0.450" stop-color="#d1ffa9"/><stop offset="0.475" stop-color="#e9ffa4"/><stop offset="0.500" stop-color="#fffe9e"/><stop offset="0.525" stop-color="#ffea8c"/><stop offset="0.550" stop-color="#ffd97b"/><stop offset="0.575" stop-color="#ffca6c"/><stop offset="0.600" stop-color="#ffbd5d"/><stop offset="0.625" stop-color="#ffb14e"/><stop offset="0.650" stop-color="#ffa73f"/><stop offset="0.675" stop-color="#ff9d2c"/><stop offset="0.700" stop-color="#ff9310"/><stop offset="0.725" stop-color="#ff8b00"/><stop offset="0.750" stop-color="#ff8300"/><stop offset="0.775" stop-color="#ff7b00"/><stop offset="0.800" stop-color="#ff7300"/><stop offset="0.825" stop-color="#ff6c00"/><stop offset="0.850" stop-color="#ff6400"/><stop offset="0.875" stop-color="#ff5d00"/><stop offset="0.900" stop-color="#ff5600"/><stop offset="0.925" stop-color="#ff4f00"/><stop offset="0.950" stop-color="#ff4700"/><stop offset="0.975" stop-color="#ff3f00"/><stop offset="1.000" stop-color="#ff3700"/></linearGradient>
<linearGradient id="cg57" gradientUnits="userSpaceOnUse" x1="1306.3" y1="0" x2="1665.6" y2="0"><stop offset="0.000" stop-color="#00ffd5"/><stop offset="0.025" stop-color="#00ffd4"/><stop offset="0.050" stop-color="#00ffd2"/><stop offset="0.075" stop-color="#00ffd1"/><stop offset="0.100" stop-color="#00ffd0"/><stop offset="0.125" stop-color="#00ffcf"/><stop offset="0.150" stop-color="#00ffcd"/><stop offset="0.175" stop-color="#00ffcb"/><stop offset="0.200" stop-color="#00ffca"/><stop offset="0.225" stop-color="#00ffc8"/><stop offset="0.250" stop-color="#00ffc6"/><stop offset="0.275" stop-color="#00ffc4"/><stop offset="0.300" stop-color="#00ffc2"/><stop offset="0.325" stop-color="#00ffbf"/><stop offset="0.350" stop-color="#4bffbc"/><stop offset="0.375" stop-color="#7dffba"/><stop offset="0.400" stop-color="#a0ffb6"/><stop offset="0.425" stop-color="#bdffb3"/><stop offset="0.450" stop-color="#d6ffaf"/><stop offset="0.475" stop-color="#eeffaa"/><stop offset="0.500" stop-color="#fff9a2"/><stop offset="0.525" stop-color="#ffe58f"/><stop offset="0.550" stop-color="#ffd57f"/><stop offset="0.575" stop-color="#ffc670"/><stop offset="0.600" stop-color="#ffb962"/><stop offset="0.625" stop-color="#ffad54"/><stop offset="0.650" stop-color="#ffa345"/><stop offset="0.675" stop-color="#ff9935"/><stop offset="0.700" stop-color="#ff9020"/><stop offset="0.725" stop-color="#ff8700"/><stop offset="0.750" stop-color="#ff7f00"/><stop offset="0.775" stop-color="#ff7700"/><stop offset="0.800" stop-color="#ff6f00"/><stop offset="0.825" stop-color="#ff6800"/><stop offset="0.850" stop-color="#ff6000"/><stop offset="0.875" stop-color="#ff5900"/><stop offset="0.900" stop-color="#ff5200"/><stop offset="0.925" stop-color="#ff4a00"/><stop offset="0.950" stop-color="#ff4200"/><stop offset="0.975" stop-color="#ff3a00"/><stop offset="1.000" stop-color="#ff3100"/></linearGradient>
<linearGradient id="cg58" gradientUnits="userSpaceOnUse" x1="1306.3" y1="0" x2="1665.6" y2="0"><stop offset="0.000" stop-color="#00ffd8"/><stop offset="0.025" stop-color="#00ffd7"/><stop offset="0.050" stop-color="#00ffd6"/><stop offset="0.075" stop-color="#00ffd5"/><stop offset="0.100" stop-color="#00ffd4"/><stop offset="0.125" stop-color="#00ffd2"/><stop offset="0.150" stop-color="#00ffd1"/><stop offset="0.175" stop-color="#00ffcf"/><stop offset="0.200" stop-color="#00ffce"/><stop offset="0.225" stop-color="#00ffcc"/><stop offset="0.250" stop-color="#00ffca"/><stop offset="0.275" stop-color="#00ffc8"/><stop offset="0.300" stop-color="#00ffc6"/><stop offset="0.325" stop-color="#00ffc4"/><stop offset="0.350" stop-color="#53ffc1"/><stop offset="0.375" stop-color="#83ffbf"/><stop offset="0.400" stop-color="#a5ffbc"/><stop offset="0.425" stop-color="#c2ffb9"/><stop offset="0.450" stop-color="#dcffb5"/><stop offset="0.475" stop-color="#f4ffb1"/><stop offset="0.500" stop-color="#fff4a4"/><stop offset="0.525" stop-color="#ffe092"/><stop offset="0.550" stop-color="#ffd083"/><stop offset="0.575" stop-color="#ffc274"/><stop offset="0.600" stop-color="#ffb566"/><stop offset="0.625" stop-color="#ffaa58"/><stop offset="0.650" stop-color="#ff9f4b"/><stop offset="0.675" stop-color="#ff953c"/><stop offset="0.700" stop-color="#ff8c2a"/><stop offset="0.725" stop-color="#ff830f"/><stop offset="0.750" stop-color="#ff7b00"/><stop offset="0.775" stop-color="#ff7300"/><stop offset="0.800" stop-color="#ff6b00"/><stop offset="0.825" stop-color="#ff6400"/><stop offset="0.850" stop-color="#ff5c00"/><stop offset="0.875" stop-color="#ff5500"/><stop offset="0.900" stop-color="#ff4d00"/><stop offset="0.925" stop-color="#ff4500"/><stop offset="0.950" stop-color="#ff3d00"/><stop offset="0.975" stop-color="#ff3400"/><stop offset="1.000" stop-color="#ff2a00"/></linearGradient>
<linearGradient id="cg59" gradientUnits="userSpaceOnUse" x1="1306.3" y1="0" x2="1665.6" y2="0"><stop offset="0.000" stop-color="#00ffdb"/><stop offset="0.025" stop-color="#00ffda"/><stop offset="0.050" stop-color="#00ffd9"/><stop offset="0.075" stop-color="#00ffd8"/><stop offset="0.100" stop-color="#00ffd7"/><stop offset="0.125" stop-color="#00ffd6"/><stop offset="0.150" stop-color="#00ffd5"/><stop offset="0.175" stop-color="#00ffd3"/><stop offset="0.200" stop-color="#00ffd2"/><stop offset="0.225" stop-color="#00ffd0"/><stop offset="0.250" stop-color="#00ffcf"/><stop offset="0.275" stop-color="#00ffcd"/><stop offset="0.300" stop-color="#00ffcb"/><stop offset="0.325" stop-color="#00ffc9"/><stop offset="0.350" stop-color="#5bffc7"/><stop offset="0.375" stop-color="#88ffc4"/><stop offset="0.400" stop-color="#aaffc1"/><stop offset="0.425" stop-color="#c7ffbe"/><stop offset="0.450" stop-color="#e1ffbb"/><stop offset="0.475" stop-color="#f9ffb7"/><stop offset="0.500" stop-color="#ffeea7"/><stop offset="0.525" stop-color="#ffdc95"/><stop offset="0.550" stop-color="#ffcc86"/><stop offset="0.575" stop-color="#ffbe77"/><stop offset="0.600" stop-color="#ffb16a"/><stop offset="0.625" stop-color="#ffa65d"/><stop offset="0.650" stop-color="#ff9b50"/><stop offset="0.675" stop-color="#ff9142"/><stop offset="0.700" stop-color="#ff8832"/><stop offset="0.725" stop-color="#ff801f"/><stop offset="0.750" stop-color="#ff7700"/><stop offset="0.775" stop-color="#ff6f00"/><stop offset="0.800" stop-color="#ff6800"/><stop offset="0.825" stop-color="#ff6000"/><stop offset="0.850" stop-color="#ff5800"/><stop offset="0.875" stop-color="#ff5000"/><stop offset="0.900" stop-color="#ff4800"/><stop offset="0.925" stop-color="#ff4000"/><stop offset="0.950" stop-color="#ff3700"/><stop offset="0.975" stop-color="#ff2d00"/><stop offset="1.000" stop-color="#ff2100"/></linearGradient>
<linearGradient id="cg60" gradientUnits="userSpaceOnUse" x1="1306.3" y1="0" x2="1665.6" y2="0"><stop offset="0.000" stop-color="#00ffdf"/><stop offset="0.025" stop-color="#00ffde"/><stop offset="0.050" stop-color="#00ffdd"/><stop offset="0.075" stop-color="#00ffdc"/><stop offset="0.100" stop-color="#00ffdb"/><stop offset="0.125" stop-color="#00ffda"/><stop offset="0.150" stop-color="#00ffd9"/><stop offset="0.175" stop-color="#00ffd7"/><stop offset="0.200" stop-color="#00ffd6"/><stop offset="0.225" stop-color="#00ffd5"/><stop offset="0.250" stop-color="#00ffd3"/><stop offset="0.275" stop-color="#00ffd2"/><stop offset="0.300" stop-color="#00ffd0"/><stop offset="0.325" stop-color="#00ffce"/><stop offset="0.350" stop-color="#62ffcc"/><stop offset="0.375" stop-color="#8effca"/><stop offset="0.400" stop-color="#afffc7"/><stop offset="0.425" stop-color="#ccffc4"/><stop offset="0.450" stop-color="#e6ffc1"/><stop offset="0.475" stop-color="#ffffbe"/><stop offset="0.500" stop-color="#ffe9aa"/><stop offset="0.525" stop-color="#ffd798"/><stop offset="0.550" stop-color="#ffc789"/><stop offset="0.575" stop-color="#ffb97b"/><stop offset="0.600" stop-color="#ffad6e"/><stop offset="0.625" stop-color="#ffa261"/><stop offset="0.650" stop-color="#ff9754"/><stop offset="0.675" stop-color="#ff8e47"/><stop offset="0.700" stop-color="#ff8439"/><stop offset="0.725" stop-color="#ff7c29"/><stop offset="0.750" stop-color="#ff730f"/><stop offset="0.775" stop-color="#ff6b00"/><stop offset="0.800" stop-color="#ff6300"/><stop offset="0.825" stop-color="#ff5c00"/><stop offset="0.850" stop-color="#ff5400"/><stop offset="0.875" stop-color="#ff4c00"/><stop offset="0.900" stop-color="#ff4300"/><stop offset="0.925" stop-color="#ff3a00"/><stop offset="0.950" stop-color="#ff3100"/><stop offset="0.975" stop-color="#ff2500"/><stop offset="1.000" stop-color="#ff1600"/></linearGradient>
<linearGradient id="cg61" gradientUnits="userSpaceOnUse" x1="1306.3" y1="0" x2="1665.6" y2="0"><stop offset="0.000" stop-color="#00ffe2"/><stop offset="0.025" stop-color="#00ffe1"/><stop offset="0.050" stop-color="#00ffe1"/><stop offset="0.075" stop-color="#00ffe0"/><stop offset="0.100" stop-color="#00ffdf"/><stop offset="0.125" stop-color="#00ffde"/><stop offset="0.150" stop-color="#00ffdd"/><stop offset="0.175" stop-color="#00ffdc"/><stop offset="0.200" stop-color="#00ffda"/><stop offset="0.225" stop-color="#00ffd9"/><stop offset="0.250" stop-color="#00ffd8"/><stop offset="0.275" stop-color="#00ffd6"/><stop offset="0.300" stop-color="#00ffd5"/><stop offset="0.325" stop-color="#00ffd3"/><stop offset="0.350" stop-color="#69ffd1"/><stop offset="0.375" stop-color="#94ffcf"/><stop offset="0.400" stop-color="#b5ffcd"/><stop offset="0.425" stop-color="#d2ffca"/><stop offset="0.450" stop-color="#ecffc8"/><stop offset="0.475" stop-color="#fff9c0"/><stop offset="0.500" stop-color="#ffe4ac"/><stop offset="0.525" stop-color="#ffd29b"/><stop offset="0.550" stop-color="#ffc38c"/><stop offset="0.575" stop-color="#ffb57e"/><stop offset="0.600" stop-color="#ffa971"/><stop offset="0.625" stop-color="#ff9d65"/><stop offset="0.650" stop-color="#ff9359"/><stop offset="0.675" stop-color="#ff8a4c"/><stop offset="0.700" stop-color="#ff803f"/><stop offset="0.725" stop-color="#ff7830"/><stop offset="0.750" stop-color="#ff6f1d"/><stop offset="0.775" stop-color="#ff6700"/><stop offset="0.800" stop-color="#ff5f00"/><stop offset="0.825" stop-color="#ff5700"/><stop offset="0.850" stop-color="#ff4f00"/><stop offset="0.875" stop-color="#ff4700"/><stop offset="0.900" stop-color="#ff3e00"/><stop offset="0.925" stop-color="#ff3400"/><stop offset="0.950" stop-color="#ff2900"/><stop offset="0.975" stop-color="#ff1b00"/><stop offset="1.000" stop-color="#ff0300"/></linearGradient>
<linearGradient id="cg62" gradientUnits="userSpaceOnUse" x1="1306.3" y1="0" x2="1665.6" y2="0"><stop offset="0.000" stop-color="#00ffe6"/><stop offset="0.025" stop-color="#00ffe5"/><stop offset="0.050" stop-color="#00ffe4"/><stop offset="0.075" stop-color="#00ffe3"/><stop offset="0.100" stop-color="#00ffe3"/><stop offset="0.125" stop-color="#00ffe2"/><stop offset="0.150" stop-color="#00ffe1"/><stop offset="0.175" stop-color="#00ffe0"/><stop offset="0.200" stop-color="#00ffdf"/><stop offset="0.225" stop-color="#00ffde"/><stop offset="0.250" stop-color="#00ffdc"/><stop offset="0.275" stop-color="#00ffdb"/><stop offset="0.300" stop-color="#00ffda"/><stop offset="0.325" stop-color="#21ffd8"/><stop offset="0.350" stop-color="#70ffd7"/><stop offset="0.375" stop-color="#99ffd5"/><stop offset="0.400" stop-color="#baffd3"/><stop offset="0.425" stop-color="#d7ffd0"/><stop offset="0.450" stop-color="#f2ffce"/><stop offset="0.475" stop-color="#fff3c2"/><stop offset="0.500" stop-color="#ffdfae"/><stop offset="0.525" stop-color="#ffcd9e"/><stop offset="0.550" stop-color="#ffbe8f"/><stop offset="0.575" stop-color="#ffb181"/><stop offset="0.600" stop-color="#ffa474"/><stop offset="0.625" stop-color="#ff9968"/><stop offset="0.650" stop-color="#ff8f5d"/><stop offset="0.675" stop-color="#ff8651"/><stop offset="0.700" stop-color="#ff7c44"/><stop offset="0.725" stop-color="#ff7437"/><stop offset="0.750" stop-color="#ff6b27"/><stop offset="0.775" stop-color="#ff630e"/><stop offset="0.800" stop-color="#ff5b00"/><stop offset="0.825" stop-color="#ff5200"/><stop offset="0.850" stop-color="#ff4a00"/><stop offset="0.875" stop-color="#ff4100"/><stop offset="0.900" stop-color="#ff3800"/><stop offset="0.925" stop-color="#ff2d00"/><stop offset="0.950" stop-color="#ff2000"/><stop offset="0.975" stop-color="#ff0c00"/><stop offset="1.000" stop-color="#ff0000"/></linearGradient>
<linearGradient id="cg63" gradientUnits="userSpaceOnUse" x1="1306.3" y1="0" x2="1665.6" y2="0"><stop offset="0.000" stop-color="#00ffe9"/><stop offset="0.025" stop-color="#00ffe9"/><stop offset="0.050" stop-color="#00ffe8"/><stop offset="0.075" stop-color="#00ffe7"/><stop offset="0.100" stop-color="#00ffe7"/><stop offset="0.125" stop-color="#00ffe6"/><stop offset="0.150" stop-color="#00ffe5"/><stop offset="0.175" stop-color="#00ffe4"/><stop offset="0.200" stop-color="#00ffe3"/><stop offset="0.225" stop-color="#00ffe2"/><stop offset="0.250" stop-color="#00ffe1"/><stop offset="0.275" stop-color="#00ffe0"/><stop offset="0.300" stop-color="#00ffdf"/><stop offset="0.325" stop-color="#32ffde"/><stop offset="0.350" stop-color="#77ffdc"/><stop offset="0.375" stop-color="#9fffdb"/><stop offset="0.400" stop-color="#c0ffd9"/><stop offset="0.425" stop-color="#ddffd7"/><stop offset="0.450" stop-color="#f8ffd5"/><stop offset="0.475" stop-color="#ffeec4"/><stop offset="0.500" stop-color="#ffd9b1"/><stop offset="0.525" stop-color="#ffc8a0"/><stop offset="0.550" stop-color="#ffb991"/><stop offset="0.575" stop-color="#ffac84"/><stop offset="0.600" stop-color="#ffa078"/><stop offset="0.625" stop-color="#ff956c"/><stop offset="0.650" stop-color="#ff8b60"/><stop offset="0.675" stop-color="#ff8155"/><stop offset="0.700" stop-color="#ff7849"/><stop offset="0.725" stop-color="#ff6f3d"/><stop offset="0.750" stop-color="#ff672f"/><stop offset="0.775" stop-color="#ff5e1c"/><stop offset="0.800" stop-color="#ff5600"/><stop offset="0.825" stop-color="#ff4e00"/><stop offset="0.850" stop-color="#ff4500"/><stop offset="0.875" stop-color="#ff3b00"/><stop offset="0.900" stop-color="#ff3100"/><stop offset="0.925" stop-color="#ff2500"/><stop offset="0.950" stop-color="#ff1300"/><stop offset="0.975" stop-color="#ff0000"/><stop offset="1.000" stop-color="#ff0000"/></linearGradient>
<linearGradient id="cg64" gradientUnits="userSpaceOnUse" x1="1306.3" y1="0" x2="1665.6" y2="0"><stop offset="0.000" stop-color="#00ffed"/><stop offset="0.025" stop-color="#00ffec"/><stop offset="0.050" stop-color="#00ffec"/><stop offset="0.075" stop-color="#00ffeb"/><stop offset="0.100" stop-color="#00ffeb"/><stop offset="0.125" stop-color="#00ffea"/><stop offset="0.150" stop-color="#00ffe9"/><stop offset="0.175" stop-color="#00ffe9"/><stop offset="0.200" stop-color="#00ffe8"/><stop offset="0.225" stop-color="#00ffe7"/><stop offset="0.250" stop-color="#00ffe6"/><stop offset="0.275" stop-color="#00ffe5"/><stop offset="0.300" stop-color="#00ffe4"/><stop offset="0.325" stop-color="#3fffe3"/><stop offset="0.350" stop-color="#7dffe2"/><stop offset="0.375" stop-color="#a5ffe0"/><stop offset="0.400" stop-color="#c6ffdf"/><stop offset="0.425" stop-color="#e3ffdd"/><stop offset="0.450" stop-color="#feffdc"/><stop offset="0.475" stop-color="#ffe8c6"/><stop offset="0.500" stop-color="#ffd4b3"/><stop offset="0.525" stop-color="#ffc3a2"/><stop offset="0.550" stop-color="#ffb594"/><stop offset="0.575" stop-color="#ffa887"/><stop offset="0.600" stop-color="#ff9c7a"/><stop offset="0.625" stop-color="#ff916f"/><stop offset="0.650" stop-color="#ff8764"/><stop offset="0.675" stop-color="#ff7d59"/><stop offset="0.700" stop-color="#ff744e"/><stop offset="0.725" stop-color="#ff6b42"/><stop offset="0.750" stop-color="#ff6235"/><stop offset="0.775" stop-color="#ff5a26"/><stop offset="0.800" stop-color="#ff510e"/><stop offset="0.825" stop-color="#ff4800"/><stop offset="0.850" stop-color="#ff3f00"/><stop offset="0.875" stop-color="#ff3500"/><stop offset="0.900" stop-color="#ff2900"/><stop offset="0.925" stop-color="#ff1a00"/><stop offset="0.950" stop-color="#ff0000"/><stop offset="0.975" stop-color="#ff0000"/><stop offset="1.000" stop-color="#ff0000"/></linearGradient>
<linearGradient id="cg65" gradientUnits="userSpaceOnUse" x1="1306.3" y1="0" x2="1665.6" y2="0"><stop offset="0.000" stop-color="#00fff0"/><stop offset="0.025" stop-color="#00fff0"/><stop offset="0.050" stop-color="#00fff0"/><stop offset="0.075" stop-color="#00ffef"/><stop offset="0.100" stop-color="#00ffef"/><stop offset="0.125" stop-color="#00ffee"/><stop offset="0.150" stop-color="#00ffee"/><stop offset="0.175" stop-color="#00ffed"/><stop offset="0.200" stop-color="#00ffec"/><stop offset="0.225" stop-color="#00ffec"/><stop offset="0.250" stop-color="#00ffeb"/><stop offset="0.275" stop-color="#00ffea"/><stop offset="0.300" stop-color="#00ffea"/><stop offset="0.325" stop-color="#4affe9"/><stop offset="0.350" stop-color="#84ffe8"/><stop offset="0.375" stop-color="#abffe7"/><stop offset="0.400" stop-color="#ccffe5"/><stop offset="0.425" stop-color="#e9ffe4"/><stop offset="0.450" stop-color="#fffade"/><stop offset="0.475" stop-color="#ffe2c7"/><stop offset="0.500" stop-color="#ffcfb5"/><stop offset="0.525" stop-color="#ffbea5"/><stop offset="0.550" stop-color="#ffb096"/><stop offset="0.575" stop-color="#ffa389"/><stop offset="0.600" stop-color="#ff977d"/><stop offset="0.625" stop-color="#ff8d72"/><stop offset="0.650" stop-color="#ff8267"/><stop offset="0.675" stop-color="#ff795c"/><stop offset="0.700" stop-color="#ff7052"/><stop offset="0.725" stop-color="#ff6746"/><stop offset="0.750" stop-color="#ff5e3b"/><stop offset="0.775" stop-color="#ff552d"/><stop offset="0.800" stop-color="#ff4c1b"/><stop offset="0.825" stop-color="#ff4200"/><stop offset="0.850" stop-color="#ff3800"/><stop offset="0.875" stop-color="#ff2d00"/><stop offset="0.900" stop-color="#ff1f00"/><stop offset="0.925" stop-color="#ff0700"/><stop offset="0.950" stop-color="#ff0000"/><stop offset="0.975" stop-color="#ff0000"/><stop offset="1.000" stop-color="#ff0000"/></linearGradient>
<linearGradient id="cg66" gradientUnits="userSpaceOnUse" x1="1306.3" y1="0" x2="1665.6" y2="0"><stop offset="0.000" stop-color="#00fff4"/><stop offset="0.025" stop-color="#00fff4"/><stop offset="0.050" stop-color="#00fff4"/><stop offset="0.075" stop-color="#00fff3"/><stop offset="0.100" stop-color="#00fff3"/><stop offset="0.125" stop-color="#00fff2"/><stop offset="0.150" stop-color="#00fff2"/><stop offset="0.175" stop-color="#00fff2"/><stop offset="0.200" stop-color="#00fff1"/><stop offset="0.225" stop-color="#00fff1"/><stop offset="0.250" stop-color="#00fff0"/><stop offset="0.275" stop-color="#00fff0"/><stop offset="0.300" stop-color="#00ffef"/><stop offset="0.325" stop-color="#53ffee"/><stop offset="0.350" stop-color="#8bffee"/><stop offset="0.375" stop-color="#b1ffed"/><stop offset="0.400" stop-color="#d2ffec"/><stop offset="0.425" stop-color="#efffeb"/><stop offset="0.450" stop-color="#fff3df"/><stop offset="0.475" stop-color="#ffddc9"/><stop offset="0.500" stop-color="#ffcab7"/><stop offset="0.525" stop-color="#ffbaa7"/><stop offset="0.550" stop-color="#ffab99"/><stop offset="0.575" stop-color="#ff9f8c"/><stop offset="0.600" stop-color="#ff9380"/><stop offset="0.625" stop-color="#ff8875"/><stop offset="0.650" stop-color="#ff7e6a"/><stop offset="0.675" stop-color="#ff7460"/><stop offset="0.700" stop-color="#ff6b55"/><stop offset="0.725" stop-color="#ff624b"/><stop offset="0.750" stop-color="#ff5940"/><stop offset="0.775" stop-color="#ff5033"/><stop offset="0.800" stop-color="#ff4624"/><stop offset="0.825" stop-color="#ff3c0d"/><stop offset="0.850" stop-color="#ff3100"/><stop offset="0.875" stop-color="#ff2400"/><stop offset="0.900" stop-color="#ff1000"/><stop offset="0.925" stop-color="#ff0000"/><stop offset="0.950" stop-color="#ff0000"/><stop offset="0.975" stop-color="#ff0000"/><stop offset="1.000" stop-color="#ff0000"/></linearGradient>
<linearGradient id="cg67" gradientUnits="userSpaceOnUse" x1="1306.3" y1="0" x2="1665.6" y2="0"><stop offset="0.000" stop-color="#00fff8"/><stop offset="0.025" stop-color="#00fff8"/><stop offset="0.050" stop-color="#00fff8"/><stop offset="0.075" stop-color="#00fff7"/><stop offset="0.100" stop-color="#00fff7"/><stop offset="0.125" stop-color="#00fff7"/><stop offset="0.150" stop-color="#00fff7"/><stop offset="0.175" stop-color="#00fff6"/><stop offset="0.200" stop-color="#00fff6"/><stop offset="0.225" stop-color="#00fff6"/><stop offset="0.250" stop-color="#00fff5"/><stop offset="0.275" stop-color="#00fff5"/><stop offset="0.300" stop-color="#00fff5"/><stop offset="0.325" stop-color="#5dfff4"/><stop offset="0.350" stop-color="#91fff4"/><stop offset="0.375" stop-color="#b7fff3"/><stop offset="0.400" stop-color="#d8fff3"/><stop offset="0.425" stop-color="#f6fff2"/><stop offset="0.450" stop-color="#ffede0"/><stop offset="0.475" stop-color="#ffd7cb"/><stop offset="0.500" stop-color="#ffc4b9"/><stop offset="0.525" stop-color="#ffb5a9"/><stop offset="0.550" stop-color="#ffa69b"/><stop offset="0.575" stop-color="#ff9a8e"/><stop offset="0.600" stop-color="#ff8e83"/><stop offset="0.625" stop-color="#ff8478"/><stop offset="0.650" stop-color="#ff796d"/><stop offset="0.675" stop-color="#ff7063"/><stop offset="0.700" stop-color="#ff6659"/><stop offset="0.725" stop-color="#ff5d4f"/><stop offset="0.750" stop-color="#ff5444"/><stop offset="0.775" stop-color="#ff4a39"/><stop offset="0.800" stop-color="#ff402c"/><stop offset="0.825" stop-color="#ff351a"/><stop offset="0.850" stop-color="#ff2800"/><stop offset="0.875" stop-color="#ff1700"/><stop offset="0.900" stop-color="#ff0000"/><stop offset="0.925" stop-color="#ff0000"/><stop offset="0.950" stop-color="#ff0000"/><stop offset="0.975" stop-color="#ff0000"/><stop offset="1.000" stop-color="#ff0000"/></linearGradient>
<linearGradient id="cg68" gradientUnits="userSpaceOnUse" x1="1306.3" y1="0" x2="1665.6" y2="0"><stop offset="0.000" stop-color="#00fffc"/><stop offset="0.025" stop-color="#00fffc"/><stop offset="0.050" stop-color="#00fffc"/><stop offset="0.075" stop-color="#00fffc"/><stop offset="0.100" stop-color="#00fffb"/><stop offset="0.125" stop-color="#00fffb"/><stop offset="0.150" stop-color="#00fffb"/><stop offset="0.175" stop-color="#00fffb"/><stop offset="0.200" stop-color="#00fffb"/><stop offset="0.225" stop-color="#00fffb"/><stop offset="0.250" stop-color="#00fffb"/><stop offset="0.275" stop-color="#00fffb"/><stop offset="0.300" stop-color="#00fffb"/><stop offset="0.325" stop-color="#65fffa"/><stop offset="0.350" stop-color="#98fffa"/><stop offset="0.375" stop-color="#befffa"/><stop offset="0.400" stop-color="#dffffa"/><stop offset="0.425" stop-color="#fdfffa"/><stop offset="0.450" stop-color="#ffe7e1"/><stop offset="0.475" stop-color="#ffd1cc"/><stop offset="0.500" stop-color="#ffbfba"/><stop offset="0.525" stop-color="#ffafab"/><stop offset="0.550" stop-color="#ffa29d"/><stop offset="0.575" stop-color="#ff9591"/><stop offset="0.600" stop-color="#ff8a85"/><stop offset="0.625" stop-color="#ff7f7a"/><stop offset="0.650" stop-color="#ff7570"/><stop offset="0.675" stop-color="#ff6b66"/><stop offset="0.700" stop-color="#ff615c"/><stop offset="0.725" stop-color="#ff5852"/><stop offset="0.750" stop-color="#ff4e48"/><stop offset="0.775" stop-color="#ff443d"/><stop offset="0.800" stop-color="#ff3932"/><stop offset="0.825" stop-color="#ff2d23"/><stop offset="0.850" stop-color="#ff1d0d"/><stop offset="0.875" stop-color="#ff0000"/><stop offset="0.900" stop-color="#ff0000"/><stop offset="0.925" stop-color="#ff0000"/><stop offset="0.950" stop-color="#ff0000"/><stop offset="0.975" stop-color="#ff0000"/><stop offset="1.000" stop-color="#ff0000"/></linearGradient>
<linearGradient id="cg69" gradientUnits="userSpaceOnUse" x1="1306.3" y1="0" x2="1665.6" y2="0"><stop offset="0.000" stop-color="#00feff"/><stop offset="0.025" stop-color="#00feff"/><stop offset="0.050" stop-color="#00feff"/><stop offset="0.075" stop-color="#00feff"/><stop offset="0.100" stop-color="#00feff"/><stop offset="0.125" stop-color="#00feff"/><stop offset="0.150" stop-color="#00feff"/><stop offset="0.175" stop-color="#00feff"/><stop offset="0.200" stop-color="#00feff"/><stop offset="0.225" stop-color="#00feff"/><stop offset="0.250" stop-color="#00feff"/><stop offset="0.275" stop-color="#00fdff"/><stop offset="0.300" stop-color="#00fdff"/><stop offset="0.325" stop-color="#6dfdff"/><stop offset="0.350" stop-color="#9dfdff"/><stop offset="0.375" stop-color="#c3fdff"/><stop offset="0.400" stop-color="#e3fdff"/><stop offset="0.425" stop-color="#fffafc"/><stop offset="0.450" stop-color="#ffe0e3"/><stop offset="0.475" stop-color="#ffcbce"/><stop offset="0.500" stop-color="#ffbabc"/><stop offset="0.525" stop-color="#ffaaad"/><stop offset="0.550" stop-color="#ff9d9f"/><stop offset="0.575" stop-color="#ff9093"/><stop offset="0.600" stop-color="#ff8587"/><stop offset="0.625" stop-color="#ff7a7d"/><stop offset="0.650" stop-color="#ff7073"/><stop offset="0.675" stop-color="#ff6669"/><stop offset="0.700" stop-color="#ff5c5f"/><stop offset="0.725" stop-color="#ff5256"/><stop offset="0.750" stop-color="#ff484c"/><stop offset="0.775" stop-color="#ff3d42"/><stop offset="0.800" stop-color="#ff3137"/><stop offset="0.825" stop-color="#ff232a"/><stop offset="0.850" stop-color="#ff0b1a"/><stop offset="0.875" stop-color="#ff0000"/><stop offset="0.900" stop-color="#ff0000"/><stop offset="0.925" stop-color="#ff0000"/><stop offset="0.950" stop-color="#ff0000"/><stop offset="0.975" stop-color="#ff0000"/><stop offset="1.000" stop-color="#ff0000"/></linearGradient>
<linearGradient id="cg70" gradientUnits="userSpaceOnUse" x1="1306.3" y1="0" x2="1665.6" y2="0"><stop offset="0.000" stop-color="#00faff"/><stop offset="0.025" stop-color="#00faff"/><stop offset="0.050" stop-color="#00faff"/><stop offset="0.075" stop-color="#00faff"/><stop offset="0.100" stop-color="#00faff"/><stop offset="0.125" stop-color="#00f9ff"/><stop offset="0.150" stop-color="#00f9ff"/><stop offset="0.175" stop-color="#00f9ff"/><stop offset="0.200" stop-color="#00f9ff"/><stop offset="0.225" stop-color="#00f8ff"/><stop offset="0.250" stop-color="#00f8ff"/><stop offset="0.275" stop-color="#00f8ff"/><stop offset="0.300" stop-color="#00f7ff"/><stop offset="0.325" stop-color="#72f7ff"/><stop offset="0.350" stop-color="#a0f6ff"/><stop offset="0.375" stop-color="#c4f6ff"/><stop offset="0.400" stop-color="#e4f5ff"/><stop offset="0.425" stop-color="#fff3fd"/><stop offset="0.450" stop-color="#ffdae4"/><stop offset="0.475" stop-color="#ffc6cf"/><stop offset="0.500" stop-color="#ffb4be"/><stop offset="0.525" stop-color="#ffa5af"/><stop offset="0.550" stop-color="#ff98a1"/><stop offset="0.575" stop-color="#ff8b95"/><stop offset="0.600" stop-color="#ff808a"/><stop offset="0.625" stop-color="#ff757f"/><stop offset="0.650" stop-color="#ff6b75"/><stop offset="0.675" stop-color="#ff606c"/><stop offset="0.700" stop-color="#ff5662"/><stop offset="0.725" stop-color="#ff4c59"/><stop offset="0.750" stop-color="#ff4150"/><stop offset="0.775" stop-color="#ff3646"/><stop offset="0.800" stop-color="#ff283c"/><stop offset="0.825" stop-color="#ff1430"/><stop offset="0.850" stop-color="#ff0022"/><stop offset="0.875" stop-color="#ff000c"/><stop offset="0.900" stop-color="#ff0000"/><stop offset="0.925" stop-color="#ff0000"/><stop offset="0.950" stop-color="#ff0000"/><stop offset="0.975" stop-color="#ff0000"/><stop offset="1.000" stop-color="#ff0000"/></linearGradient>
<linearGradient id="cg71" gradientUnits="userSpaceOnUse" x1="1306.3" y1="0" x2="1665.6" y2="0"><stop offset="0.000" stop-color="#00f6ff"/><stop offset="0.025" stop-color="#00f6ff"/><stop offset="0.050" stop-color="#00f6ff"/><stop offset="0.075" stop-color="#00f5ff"/><stop offset="0.100" stop-color="#00f5ff"/><stop offset="0.125" stop-color="#00f5ff"/><stop offset="0.150" stop-color="#00f4ff"/><stop offset="0.175" stop-color="#00f4ff"/><stop offset="0.200" stop-color="#00f3ff"/><stop offset="0.225" stop-color="#00f3ff"/><stop offset="0.250" stop-color="#00f2ff"/><stop offset="0.275" stop-color="#00f2ff"/><stop offset="0.300" stop-color="#23f1ff"/><stop offset="0.325" stop-color="#76f1ff"/><stop offset="0.350" stop-color="#a2f0ff"/><stop offset="0.375" stop-color="#c5efff"/><stop offset="0.400" stop-color="#e4eeff"/><stop offset="0.425" stop-color="#ffecfe"/><stop offset="0.450" stop-color="#ffd4e5"/><stop offset="0.475" stop-color="#ffc0d0"/><stop offset="0.500" stop-color="#ffafbf"/><stop offset="0.525" stop-color="#ffa0b0"/><stop offset="0.550" stop-color="#ff92a3"/><stop offset="0.575" stop-color="#ff8697"/><stop offset="0.600" stop-color="#ff7b8c"/><stop offset="0.625" stop-color="#ff7081"/><stop offset="0.650" stop-color="#ff6578"/><stop offset="0.675" stop-color="#ff5b6e"/><stop offset="0.700" stop-color="#ff5065"/><stop offset="0.725" stop-color="#ff465c"/><stop offset="0.750" stop-color="#ff3a53"/><stop offset="0.775" stop-color="#ff2d4a"/><stop offset="0.800" stop-color="#ff1b40"/><stop offset="0.825" stop-color="#ff0035"/><stop offset="0.850" stop-color="#ff0029"/><stop offset="0.875" stop-color="#ff0019"/><stop offset="0.900" stop-color="#ff0000"/><stop offset="0.925" stop-color="#ff0000"/><stop offset="0.950" stop-color="#ff0000"/><stop offset="0.975" stop-color="#ff0000"/><stop offset="1.000" stop-color="#ff0000"/></linearGradient>
<linearGradient id="cg72" gradientUnits="userSpaceOnUse" x1="1306.3" y1="0" x2="1665.6" y2="0"><stop offset="0.000" stop-color="#00f2ff"/><stop offset="0.025" stop-color="#00f2ff"/><stop offset="0.050" stop-color="#00f2ff"/><stop offset="0.075" stop-color="#00f1ff"/><stop offset="0.100" stop-color="#00f1ff"/><stop offset="0.125" stop-color="#00f0ff"/><stop offset="0.150" stop-color="#00f0ff"/><stop offset="0.175" stop-color="#00efff"/><stop offset="0.200" stop-color="#00eeff"/><stop offset="0.225" stop-color="#00eeff"/><stop offset="0.250" stop-color="#00edff"/><stop offset="0.275" stop-color="#00ecff"/><stop offset="0.300" stop-color="#34ebff"/><stop offset="0.325" stop-color="#7aeaff"/><stop offset="0.350" stop-color="#a4e9ff"/><stop offset="0.375" stop-color="#c6e8ff"/><stop offset="0.400" stop-color="#e4e7ff"/><stop offset="0.425" stop-color="#ffe5fe"/><stop offset="0.450" stop-color="#ffcde6"/><stop offset="0.475" stop-color="#ffbad2"/><stop offset="0.500" stop-color="#ffa9c1"/><stop offset="0.525" stop-color="#ff9bb2"/><stop offset="0.550" stop-color="#ff8da5"/><stop offset="0.575" stop-color="#ff8199"/><stop offset="0.600" stop-color="#ff758e"/><stop offset="0.625" stop-color="#ff6a84"/><stop offset="0.650" stop-color="#ff607a"/><stop offset="0.675" stop-color="#ff5571"/><stop offset="0.700" stop-color="#ff4a68"/><stop offset="0.725" stop-color="#ff3e5f"/><stop offset="0.750" stop-color="#ff3156"/><stop offset="0.775" stop-color="#ff214d"/><stop offset="0.800" stop-color="#ff0544"/><stop offset="0.825" stop-color="#ff003a"/><stop offset="0.850" stop-color="#ff002f"/><stop offset="0.875" stop-color="#ff0021"/><stop offset="0.900" stop-color="#ff000c"/><stop offset="0.925" stop-color="#ff0000"/><stop offset="0.950" stop-color="#ff0000"/><stop offset="0.975" stop-color="#ff0000"/><stop offset="1.000" stop-color="#ff0000"/></linearGradient>
<linearGradient id="cg73" gradientUnits="userSpaceOnUse" x1="1306.3" y1="0" x2="1665.6" y2="0"><stop offset="0.000" stop-color="#00efff"/><stop offset="0.025" stop-color="#00eeff"/><stop offset="0.050" stop-color="#00eeff"/><stop offset="0.075" stop-color="#00edff"/><stop offset="0.100" stop-color="#00ecff"/><stop offset="0.125" stop-color="#00ecff"/><stop offset="0.150" stop-color="#00ebff"/><stop offset="0.175" stop-color="#00eaff"/><stop offset="0.200" stop-color="#00e9ff"/><stop offset="0.225" stop-color="#00e9ff"/><stop offset="0.250" stop-color="#00e8ff"/><stop offset="0.275" stop-color="#00e7ff"/><stop offset="0.300" stop-color="#3fe6ff"/><stop offset="0.325" stop-color="#7ee4ff"/><stop offset="0.350" stop-color="#a6e3ff"/><stop offset="0.375" stop-color="#c7e2ff"/><stop offset="0.400" stop-color="#e4e0ff"/><stop offset="0.425" stop-color="#ffdeff"/><stop offset="0.450" stop-color="#ffc7e7"/><stop offset="0.475" stop-color="#ffb4d3"/><stop offset="0.500" stop-color="#ffa4c2"/><stop offset="0.525" stop-color="#ff95b4"/><stop offset="0.550" stop-color="#ff88a7"/><stop offset="0.575" stop-color="#ff7c9b"/><stop offset="0.600" stop-color="#ff7090"/><stop offset="0.625" stop-color="#ff6586"/><stop offset="0.650" stop-color="#ff5a7c"/><stop offset="0.675" stop-color="#ff4f73"/><stop offset="0.700" stop-color="#ff436a"/><stop offset="0.725" stop-color="#ff3662"/><stop offset="0.750" stop-color="#ff2759"/><stop offset="0.775" stop-color="#ff1050"/><stop offset="0.800" stop-color="#ff0047"/><stop offset="0.825" stop-color="#ff003e"/><stop offset="0.850" stop-color="#ff0034"/><stop offset="0.875" stop-color="#ff0028"/><stop offset="0.900" stop-color="#ff0018"/><stop offset="0.925" stop-color="#ff0000"/><stop offset="0.950" stop-color="#ff0000"/><stop offset="0.975" stop-color="#ff0000"/><stop offset="1.000" stop-color="#ff0000"/></linearGradient>
<linearGradient id="cg74" gradientUnits="userSpaceOnUse" x1="1306.3" y1="0" x2="1665.6" y2="0"><stop offset="0.000" stop-color="#00ebff"/><stop offset="0.025" stop-color="#00eaff"/><stop offset="0.050" stop-color="#00e9ff"/><stop offset="0.075" stop-color="#00e9ff"/><stop offset="0.100" stop-color="#00e8ff"/><stop offset="0.125" stop-color="#00e7ff"/><stop offset="0.150" stop-color="#00e6ff"/><stop offset="0.175" stop-color="#00e5ff"/><stop offset="0.200" stop-color="#00e4ff"/><stop offset="0.225" stop-color="#00e3ff"/><stop offset="0.250" stop-color="#00e2ff"/><stop offset="0.275" stop-color="#00e1ff"/><stop offset="0.300" stop-color="#48e0ff"/><stop offset="0.325" stop-color="#81deff"/><stop offset="0.350" stop-color="#a8ddff"/><stop offset="0.375" stop-color="#c8dbff"/><stop offset="0.400" stop-color="#e4d9ff"/><stop offset="0.425" stop-color="#ffd7ff"/><stop offset="0.450" stop-color="#ffc1e8"/><stop offset="0.475" stop-color="#ffaed4"/><stop offset="0.500" stop-color="#ff9ec4"/><stop offset="0.525" stop-color="#ff8fb5"/><stop offset="0.550" stop-color="#ff82a8"/><stop offset="0.575" stop-color="#ff769d"/><stop offset="0.600" stop-color="#ff6a92"/><stop offset="0.625" stop-color="#ff5f88"/><stop offset="0.650" stop-color="#ff537e"/><stop offset="0.675" stop-color="#ff4875"/><stop offset="0.700" stop-color="#ff3b6d"/><stop offset="0.725" stop-color="#ff2c64"/><stop offset="0.750" stop-color="#ff195c"/><stop offset="0.775" stop-color="#ff0053"/><stop offset="0.800" stop-color="#ff004b"/><stop offset="0.825" stop-color="#ff0042"/><stop offset="0.850" stop-color="#ff0038"/><stop offset="0.875" stop-color="#ff002d"/><stop offset="0.900" stop-color="#ff0020"/><stop offset="0.925" stop-color="#ff000c"/><stop offset="0.950" stop-color="#ff0000"/><stop offset="0.975" stop-color="#ff0000"/><stop offset="1.000" stop-color="#ff0000"/></linearGradient>
<linearGradient id="cg75" gradientUnits="userSpaceOnUse" x1="1306.3" y1="0" x2="1665.6" y2="0"><stop offset="0.000" stop-color="#00e7ff"/><stop offset="0.025" stop-color="#00e6ff"/><stop offset="0.050" stop-color="#00e5ff"/><stop offset="0.075" stop-color="#00e5ff"/><stop offset="0.100" stop-color="#00e4ff"/><stop offset="0.125" stop-color="#00e3ff"/><stop offset="0.150" stop-color="#00e2ff"/><stop offset="0.175" stop-color="#00e1ff"/><stop offset="0.200" stop-color="#00e0ff"/><stop offset="0.225" stop-color="#00deff"/><stop offset="0.250" stop-color="#00ddff"/><stop offset="0.275" stop-color="#00dbff"/><stop offset="0.300" stop-color="#50daff"/><stop offset="0.325" stop-color="#85d8ff"/><stop offset="0.350" stop-color="#aad6ff"/><stop offset="0.375" stop-color="#c9d4ff"/><stop offset="0.400" stop-color="#e4d2ff"/><stop offset="0.425" stop-color="#fecfff"/><stop offset="0.450" stop-color="#ffbae8"/><stop offset="0.475" stop-color="#ffa8d5"/><stop offset="0.500" stop-color="#ff98c5"/><stop offset="0.525" stop-color="#ff8ab7"/><stop offset="0.550" stop-color="#ff7caa"/><stop offset="0.575" stop-color="#ff709e"/><stop offset="0.600" stop-color="#ff6494"/><stop offset="0.625" stop-color="#ff588a"/><stop offset="0.650" stop-color="#ff4c81"/><stop offset="0.675" stop-color="#ff4078"/><stop offset="0.700" stop-color="#ff326f"/><stop offset="0.725" stop-color="#ff2067"/><stop offset="0.750" stop-color="#ff005e"/><stop offset="0.775" stop-color="#ff0056"/><stop offset="0.800" stop-color="#ff004e"/><stop offset="0.825" stop-color="#ff0045"/><stop offset="0.850" stop-color="#ff003c"/><stop offset="0.875" stop-color="#ff0032"/><stop offset="0.900" stop-color="#ff0027"/><stop offset="0.925" stop-color="#ff0017"/><stop offset="0.950" stop-color="#ff0000"/><stop offset="0.975" stop-color="#ff0000"/><stop offset="1.000" stop-color="#ff0000"/></linearGradient>
<linearGradient id="cg76" gradientUnits="userSpaceOnUse" x1="1306.3" y1="0" x2="1665.6" y2="0"><stop offset="0.000" stop-color="#00e3ff"/><stop offset="0.025" stop-color="#00e2ff"/><stop offset="0.050" stop-color="#00e1ff"/><stop offset="0.075" stop-color="#00e0ff"/><stop offset="0.100" stop-color="#00dfff"/><stop offset="0.125" stop-color="#00deff"/><stop offset="0.150" stop-color="#00ddff"/><stop offset="0.175" stop-color="#00dcff"/><stop offset="0.200" stop-color="#00dbff"/><stop offset="0.225" stop-color="#00d9ff"/><stop offset="0.250" stop-color="#00d8ff"/><stop offset="0.275" stop-color="#00d6ff"/><stop offset="0.300" stop-color="#56d4ff"/><stop offset="0.325" stop-color="#88d2ff"/><stop offset="0.350" stop-color="#abd0ff"/><stop offset="0.375" stop-color="#c9ceff"/><stop offset="0.400" stop-color="#e4cbff"/><stop offset="0.425" stop-color="#fec8ff"/><stop offset="0.450" stop-color="#ffb4e9"/><stop offset="0.475" stop-color="#ffa2d6"/><stop offset="0.500" stop-color="#ff92c6"/><stop offset="0.525" stop-color="#ff84b8"/><stop offset="0.550" stop-color="#ff76ac"/><stop offset="0.575" stop-color="#ff6aa0"/><stop offset="0.600" stop-color="#ff5e96"/><stop offset="0.625" stop-color="#ff518c"/><stop offset="0.650" stop-color="#ff4583"/><stop offset="0.675" stop-color="#ff377a"/><stop offset="0.700" stop-color="#ff2671"/><stop offset="0.725" stop-color="#ff0a69"/><stop offset="0.750" stop-color="#ff0061"/><stop offset="0.775" stop-color="#ff0059"/><stop offset="0.800" stop-color="#ff0051"/><stop offset="0.825" stop-color="#ff0049"/><stop offset="0.850" stop-color="#ff0040"/><stop offset="0.875" stop-color="#ff0037"/><stop offset="0.900" stop-color="#ff002c"/><stop offset="0.925" stop-color="#ff001f"/><stop offset="0.950" stop-color="#ff000b"/><stop offset="0.975" stop-color="#ff0000"/><stop offset="1.000" stop-color="#ff0000"/></linearGradient>
<linearGradient id="cg77" gradientUnits="userSpaceOnUse" x1="1306.3" y1="0" x2="1665.6" y2="0"><stop offset="0.000" stop-color="#00dfff"/><stop offset="0.025" stop-color="#00deff"/><stop offset="0.050" stop-color="#00ddff"/><stop offset="0.075" stop-color="#00dcff"/><stop offset="0.100" stop-color="#00dbff"/><stop offset="0.125" stop-color="#00daff"/><stop offset="0.150" stop-color="#00d9ff"/><stop offset="0.175" stop-color="#00d7ff"/><stop offset="0.200" stop-color="#00d6ff"/><stop offset="0.225" stop-color="#00d4ff"/><stop offset="0.250" stop-color="#00d2ff"/><stop offset="0.275" stop-color="#00d0ff"/><stop offset="0.300" stop-color="#5cceff"/><stop offset="0.325" stop-color="#8bccff"/><stop offset="0.350" stop-color="#adcaff"/><stop offset="0.375" stop-color="#cac7ff"/><stop offset="0.400" stop-color="#e5c4ff"/><stop offset="0.425" stop-color="#fec1ff"/><stop offset="0.450" stop-color="#ffadea"/><stop offset="0.475" stop-color="#ff9bd8"/><stop offset="0.500" stop-color="#ff8cc8"/><stop offset="0.525" stop-color="#ff7dba"/><stop offset="0.550" stop-color="#ff70ad"/><stop offset="0.575" stop-color="#ff63a2"/><stop offset="0.600" stop-color="#ff5797"/><stop offset="0.625" stop-color="#ff4a8e"/><stop offset="0.650" stop-color="#ff3c85"/><stop offset="0.675" stop-color="#ff2c7c"/><stop offset="0.700" stop-color="#ff1674"/><stop offset="0.725" stop-color="#ff006b"/><stop offset="0.750" stop-color="#ff0064"/><stop offset="0.775" stop-color="#ff005c"/><stop offset="0.800" stop-color="#ff0054"/><stop offset="0.825" stop-color="#ff004c"/><stop offset="0.850" stop-color="#ff0043"/><stop offset="0.875" stop-color="#ff003b"/><stop offset="0.900" stop-color="#ff0031"/><stop offset="0.925" stop-color="#ff0026"/><stop offset="0.950" stop-color="#ff0017"/><stop offset="0.975" stop-color="#ff0000"/><stop offset="1.000" stop-color="#ff0000"/></linearGradient>
<linearGradient id="cg78" gradientUnits="userSpaceOnUse" x1="1306.3" y1="0" x2="1665.6" y2="0"><stop offset="0.000" stop-color="#00dbff"/><stop offset="0.025" stop-color="#00daff"/><stop offset="0.050" stop-color="#00d9ff"/><stop offset="0.075" stop-color="#00d8ff"/><stop offset="0.100" stop-color="#00d7ff"/><stop offset="0.125" stop-color="#00d5ff"/><stop offset="0.150" stop-color="#00d4ff"/><stop offset="0.175" stop-color="#00d2ff"/><stop offset="0.200" stop-color="#00d1ff"/><stop offset="0.225" stop-color="#00cfff"/><stop offset="0.250" stop-color="#00cdff"/><stop offset="0.275" stop-color="#00cbff"/><stop offset="0.300" stop-color="#62c9ff"/><stop offset="0.325" stop-color="#8dc6ff"/><stop offset="0.350" stop-color="#aec3ff"/><stop offset="0.375" stop-color="#cbc0ff"/><stop offset="0.400" stop-color="#e5bdff"/><stop offset="0.425" stop-color="#fdb9ff"/><stop offset="0.450" stop-color="#ffa6eb"/><stop offset="0.475" stop-color="#ff95d9"/><stop offset="0.500" stop-color="#ff85c9"/><stop offset="0.525" stop-color="#ff77bb"/><stop offset="0.550" stop-color="#ff6aaf"/><stop offset="0.575" stop-color="#ff5ca3"/><stop offset="0.600" stop-color="#ff4f99"/><stop offset="0.625" stop-color="#ff418f"/><stop offset="0.650" stop-color="#ff3286"/><stop offset="0.675" stop-color="#ff1e7e"/><stop offset="0.700" stop-color="#ff0076"/><stop offset="0.725" stop-color="#ff006e"/><stop offset="0.750" stop-color="#ff0066"/><stop offset="0.775" stop-color="#ff005e"/><stop offset="0.800" stop-color="#ff0057"/><stop offset="0.825" stop-color="#ff004f"/><stop offset="0.850" stop-color="#ff0047"/><stop offset="0.875" stop-color="#ff003e"/><stop offset="0.900" stop-color="#ff0035"/><stop offset="0.925" stop-color="#ff002b"/><stop offset="0.950" stop-color="#ff001f"/><stop offset="0.975" stop-color="#ff000b"/><stop offset="1.000" stop-color="#ff0000"/></linearGradient>
<linearGradient id="cg79" gradientUnits="userSpaceOnUse" x1="1306.3" y1="0" x2="1665.6" y2="0"><stop offset="0.000" stop-color="#00d8ff"/><stop offset="0.025" stop-color="#00d7ff"/><stop offset="0.050" stop-color="#00d5ff"/><stop offset="0.075" stop-color="#00d4ff"/><stop offset="0.100" stop-color="#00d3ff"/><stop offset="0.125" stop-color="#00d1ff"/><stop offset="0.150" stop-color="#00cfff"/><stop offset="0.175" stop-color="#00ceff"/><stop offset="0.200" stop-color="#00ccff"/><stop offset="0.225" stop-color="#00caff"/><stop offset="0.250" stop-color="#00c8ff"/><stop offset="0.275" stop-color="#00c5ff"/><stop offset="0.300" stop-color="#66c3ff"/><stop offset="0.325" stop-color="#90c0ff"/><stop offset="0.350" stop-color="#b0bdff"/><stop offset="0.375" stop-color="#ccbaff"/><stop offset="0.400" stop-color="#e5b6ff"/><stop offset="0.425" stop-color="#fdb2ff"/><stop offset="0.450" stop-color="#ff9fec"/><stop offset="0.475" stop-color="#ff8eda"/><stop offset="0.500" stop-color="#ff7fca"/><stop offset="0.525" stop-color="#ff70bc"/><stop offset="0.550" stop-color="#ff63b0"/><stop offset="0.575" stop-color="#ff55a5"/><stop offset="0.600" stop-color="#ff479b"/><stop offset="0.625" stop-color="#ff3891"/><stop offset="0.650" stop-color="#ff2588"/><stop offset="0.675" stop-color="#ff0280"/><stop offset="0.700" stop-color="#ff0078"/><stop offset="0.725" stop-color="#ff0070"/><stop offset="0.750" stop-color="#ff0068"/><stop offset="0.775" stop-color="#ff0061"/><stop offset="0.800" stop-color="#ff0059"/><stop offset="0.825" stop-color="#ff0052"/><stop offset="0.850" stop-color="#ff004a"/><stop offset="0.875" stop-color="#ff0042"/><stop offset="0.900" stop-color="#ff0039"/><stop offset="0.925" stop-color="#ff0030"/><stop offset="0.950" stop-color="#ff0025"/><stop offset="0.975" stop-color="#ff0016"/><stop offset="1.000" stop-color="#ff0000"/></linearGradient>
<linearGradient id="cg80" gradientUnits="userSpaceOnUse" x1="1306.3" y1="0" x2="1665.6" y2="0"><stop offset="0.000" stop-color="#00d4ff"/><stop offset="0.025" stop-color="#00d3ff"/><stop offset="0.050" stop-color="#00d1ff"/><stop offset="0.075" stop-color="#00d0ff"/><stop offset="0.100" stop-color="#00ceff"/><stop offset="0.125" stop-color="#00cdff"/><stop offset="0.150" stop-color="#00cbff"/><stop offset="0.175" stop-color="#00c9ff"/><stop offset="0.200" stop-color="#00c7ff"/><stop offset="0.225" stop-color="#00c5ff"/><stop offset="0.250" stop-color="#00c2ff"/><stop offset="0.275" stop-color="#1fc0ff"/><stop offset="0.300" stop-color="#6bbdff"/><stop offset="0.325" stop-color="#92baff"/><stop offset="0.350" stop-color="#b1b7ff"/><stop offset="0.375" stop-color="#ccb3ff"/><stop offset="0.400" stop-color="#e5afff"/><stop offset="0.425" stop-color="#fcaaff"/><stop offset="0.450" stop-color="#ff98ec"/><stop offset="0.475" stop-color="#ff87db"/><stop offset="0.500" stop-color="#ff78cb"/><stop offset="0.525" stop-color="#ff69be"/><stop offset="0.550" stop-color="#ff5bb2"/><stop offset="0.575" stop-color="#ff4da6"/><stop offset="0.600" stop-color="#ff3e9c"/><stop offset="0.625" stop-color="#ff2c93"/><stop offset="0.650" stop-color="#ff118a"/><stop offset="0.675" stop-color="#ff0082"/><stop offset="0.700" stop-color="#ff007a"/><stop offset="0.725" stop-color="#ff0072"/><stop offset="0.750" stop-color="#ff006a"/><stop offset="0.775" stop-color="#ff0063"/><stop offset="0.800" stop-color="#ff005c"/><stop offset="0.825" stop-color="#ff0054"/><stop offset="0.850" stop-color="#ff004d"/><stop offset="0.875" stop-color="#ff0045"/><stop offset="0.900" stop-color="#ff003d"/><stop offset="0.925" stop-color="#ff0034"/><stop offset="0.950" stop-color="#ff002a"/><stop offset="0.975" stop-color="#ff001e"/><stop offset="1.000" stop-color="#ff000b"/></linearGradient>
<linearGradient id="cg81" gradientUnits="userSpaceOnUse" x1="1306.3" y1="0" x2="1665.6" y2="0"><stop offset="0.000" stop-color="#00d0ff"/><stop offset="0.025" stop-color="#00cfff"/><stop offset="0.050" stop-color="#00cdff"/><stop offset="0.075" stop-color="#00ccff"/><stop offset="0.100" stop-color="#00caff"/><stop offset="0.125" stop-color="#00c8ff"/><stop offset="0.150" stop-color="#00c6ff"/><stop offset="0.175" stop-color="#00c4ff"/><stop offset="0.200" stop-color="#00c2ff"/><stop offset="0.225" stop-color="#00c0ff"/><stop offset="0.250" stop-color="#00bdff"/><stop offset="0.275" stop-color="#2ebaff"/><stop offset="0.300" stop-color="#6fb7ff"/><stop offset="0.325" stop-color="#94b4ff"/><stop offset="0.350" stop-color="#b2b0ff"/><stop offset="0.375" stop-color="#cdacff"/><stop offset="0.400" stop-color="#e5a8ff"/><stop offset="0.425" stop-color="#fca2ff"/><stop offset="0.450" stop-color="#ff91ed"/><stop offset="0.475" stop-color="#ff80dc"/><stop offset="0.500" stop-color="#ff71cc"/><stop offset="0.525" stop-color="#ff62bf"/><stop offset="0.550" stop-color="#ff53b3"/><stop offset="0.575" stop-color="#ff44a8"/><stop offset="0.600" stop-color="#ff329e"/><stop offset="0.625" stop-color="#ff1b95"/><stop offset="0.650" stop-color="#ff008c"/><stop offset="0.675" stop-color="#ff0083"/><stop offset="0.700" stop-color="#ff007c"/><stop offset="0.725" stop-color="#ff0074"/><stop offset="0.750" stop-color="#ff006c"/><stop offset="0.775" stop-color="#ff0065"/><stop offset="0.800" stop-color="#ff005e"/><stop offset="0.825" stop-color="#ff0057"/><stop offset="0.850" stop-color="#ff004f"/><stop offset="0.875" stop-color="#ff0048"/><stop offset="0.900" stop-color="#ff0040"/><stop offset="0.925" stop-color="#ff0038"/><stop offset="0.950" stop-color="#ff002f"/><stop offset="0.975" stop-color="#ff0024"/><stop offset="1.000" stop-color="#ff0016"/></linearGradient>
<linearGradient id="cg82" gradientUnits="userSpaceOnUse" x1="1306.3" y1="0" x2="1665.6" y2="0"><stop offset="0.000" stop-color="#00ccff"/><stop offset="0.025" stop-color="#00cbff"/><stop offset="0.050" stop-color="#00c9ff"/><stop offset="0.075" stop-color="#00c8ff"/><stop offset="0.100" stop-color="#00c6ff"/><stop offset="0.125" stop-color="#00c4ff"/><stop offset="0.150" stop-color="#00c2ff"/><stop offset="0.175" stop-color="#00c0ff"/><stop offset="0.200" stop-color="#00bdff"/><stop offset="0.225" stop-color="#00bbff"/><stop offset="0.250" stop-color="#00b8ff"/><stop offset="0.275" stop-color="#39b5ff"/><stop offset="0.300" stop-color="#72b1ff"/><stop offset="0.325" stop-color="#96aeff"/><stop offset="0.350" stop-color="#b4aaff"/><stop offset="0.375" stop-color="#cda5ff"/><stop offset="0.400" stop-color="#e5a0ff"/><stop offset="0.425" stop-color="#fc9bff"/><stop offset="0.450" stop-color="#ff8aee"/><stop offset="0.475" stop-color="#ff79dc"/><stop offset="0.500" stop-color="#ff69cd"/><stop offset="0.525" stop-color="#ff59c0"/><stop offset="0.550" stop-color="#ff4ab4"/><stop offset="0.575" stop-color="#ff39a9"/><stop offset="0.600" stop-color="#ff249f"/><stop offset="0.625" stop-color="#ff0096"/><stop offset="0.650" stop-color="#ff008d"/><stop offset="0.675" stop-color="#ff0085"/><stop offset="0.700" stop-color="#ff007d"/><stop offset="0.725" stop-color="#ff0076"/><stop offset="0.750" stop-color="#ff006e"/><stop offset="0.775" stop-color="#ff0067"/><stop offset="0.800" stop-color="#ff0060"/><stop offset="0.825" stop-color="#ff0059"/><stop offset="0.850" stop-color="#ff0052"/><stop offset="0.875" stop-color="#ff004b"/><stop offset="0.900" stop-color="#ff0043"/><stop offset="0.925" stop-color="#ff003b"/><stop offset="0.950" stop-color="#ff0033"/><stop offset="0.975" stop-color="#ff0029"/><stop offset="1.000" stop-color="#ff001d"/></linearGradient>
<linearGradient id="cg83" gradientUnits="userSpaceOnUse" x1="1306.3" y1="0" x2="1665.6" y2="0"><stop offset="0.000" stop-color="#00c9ff"/><stop offset="0.025" stop-color="#00c7ff"/><stop offset="0.050" stop-color="#00c5ff"/><stop offset="0.075" stop-color="#00c3ff"/><stop offset="0.100" stop-color="#00c2ff"/><stop offset="0.125" stop-color="#00bfff"/><stop offset="0.150" stop-color="#00bdff"/><stop offset="0.175" stop-color="#00bbff"/><stop offset="0.200" stop-color="#00b8ff"/><stop offset="0.225" stop-color="#00b5ff"/><stop offset="0.250" stop-color="#00b2ff"/><stop offset="0.275" stop-color="#41afff"/><stop offset="0.300" stop-color="#76acff"/><stop offset="0.325" stop-color="#98a8ff"/><stop offset="0.350" stop-color="#b5a3ff"/><stop offset="0.375" stop-color="#ce9eff"/><stop offset="0.400" stop-color="#e599ff"/><stop offset="0.425" stop-color="#fb92ff"/><stop offset="0.450" stop-color="#ff82ee"/><stop offset="0.475" stop-color="#ff71dd"/><stop offset="0.500" stop-color="#ff61ce"/><stop offset="0.525" stop-color="#ff50c1"/><stop offset="0.550" stop-color="#ff3fb5"/><stop offset="0.575" stop-color="#ff2bab"/><stop offset="0.600" stop-color="#ff09a1"/><stop offset="0.625" stop-color="#ff0098"/><stop offset="0.650" stop-color="#ff008f"/><stop offset="0.675" stop-color="#ff0087"/><stop offset="0.700" stop-color="#ff007f"/><stop offset="0.725" stop-color="#ff0078"/><stop offset="0.750" stop-color="#ff0070"/><stop offset="0.775" stop-color="#ff0069"/><stop offset="0.800" stop-color="#ff0062"/><stop offset="0.825" stop-color="#ff005b"/><stop offset="0.850" stop-color="#ff0055"/><stop offset="0.875" stop-color="#ff004d"/><stop offset="0.900" stop-color="#ff0046"/><stop offset="0.925" stop-color="#ff003f"/><stop offset="0.950" stop-color="#ff0037"/><stop offset="0.975" stop-color="#ff002e"/><stop offset="1.000" stop-color="#ff0023"/></linearGradient>
<linearGradient id="cg84" gradientUnits="userSpaceOnUse" x1="1306.3" y1="0" x2="1665.6" y2="0"><stop offset="0.000" stop-color="#00c5ff"/><stop offset="0.025" stop-color="#00c3ff"/><stop offset="0.050" stop-color="#00c1ff"/><stop offset="0.075" stop-color="#00bfff"/><stop offset="0.100" stop-color="#00bdff"/><stop offset="0.125" stop-color="#00bbff"/><stop offset="0.150" stop-color="#00b9ff"/><stop offset="0.175" stop-color="#00b6ff"/><stop offset="0.200" stop-color="#00b3ff"/><stop offset="0.225" stop-color="#00b0ff"/><stop offset="0.250" stop-color="#00adff"/><stop offset="0.275" stop-color="#48a9ff"/><stop offset="0.300" stop-color="#79a6ff"/><stop offset="0.325" stop-color="#9aa1ff"/><stop offset="0.350" stop-color="#b69cff"/><stop offset="0.375" stop-color="#cf97ff"/><stop offset="0.400" stop-color="#e591ff"/><stop offset="0.425" stop-color="#fb8aff"/><stop offset="0.450" stop-color="#ff7aef"/><stop offset="0.475" stop-color="#ff68de"/><stop offset="0.500" stop-color="#ff58cf"/><stop offset="0.525" stop-color="#ff46c2"/><stop offset="0.550" stop-color="#ff33b7"/><stop offset="0.575" stop-color="#ff17ac"/><stop offset="0.600" stop-color="#ff00a2"/><stop offset="0.625" stop-color="#ff0099"/><stop offset="0.650" stop-color="#ff0091"/><stop offset="0.675" stop-color="#ff0089"/><stop offset="0.700" stop-color="#ff0081"/><stop offset="0.725" stop-color="#ff0079"/><stop offset="0.750" stop-color="#ff0072"/><stop offset="0.775" stop-color="#ff006b"/><stop offset="0.800" stop-color="#ff0064"/><stop offset="0.825" stop-color="#ff005e"/><stop offset="0.850" stop-color="#ff0057"/><stop offset="0.875" stop-color="#ff0050"/><stop offset="0.900" stop-color="#ff0049"/><stop offset="0.925" stop-color="#ff0042"/><stop offset="0.950" stop-color="#ff003a"/><stop offset="0.975" stop-color="#ff0032"/><stop offset="1.000" stop-color="#ff0028"/></linearGradient>
<linearGradient id="cg85" gradientUnits="userSpaceOnUse" x1="1306.3" y1="0" x2="1665.6" y2="0"><stop offset="0.000" stop-color="#00c1ff"/><stop offset="0.025" stop-color="#00bfff"/><stop offset="0.050" stop-color="#00bdff"/><stop offset="0.075" stop-color="#00bbff"/><stop offset="0.100" stop-color="#00b9ff"/><stop offset="0.125" stop-color="#00b7ff"/><stop offset="0.150" stop-color="#00b4ff"/><stop offset="0.175" stop-color="#00b1ff"/><stop offset="0.200" stop-color="#00aeff"/><stop offset="0.225" stop-color="#00abff"/><stop offset="0.250" stop-color="#00a8ff"/><stop offset="0.275" stop-color="#4fa4ff"/><stop offset="0.300" stop-color="#7ca0ff"/><stop offset="0.325" stop-color="#9c9bff"/><stop offset="0.350" stop-color="#b796ff"/><stop offset="0.375" stop-color="#cf90ff"/><stop offset="0.400" stop-color="#e589ff"/><stop offset="0.425" stop-color="#fb82ff"/><stop offset="0.450" stop-color="#ff71f0"/><stop offset="0.475" stop-color="#ff5fdf"/><stop offset="0.500" stop-color="#ff4dd0"/><stop offset="0.525" stop-color="#ff3ac4"/><stop offset="0.550" stop-color="#ff22b8"/><stop offset="0.575" stop-color="#ff00ad"/><stop offset="0.600" stop-color="#ff00a4"/><stop offset="0.625" stop-color="#ff009b"/><stop offset="0.650" stop-color="#ff0092"/><stop offset="0.675" stop-color="#ff008a"/><stop offset="0.700" stop-color="#ff0083"/><stop offset="0.725" stop-color="#ff007b"/><stop offset="0.750" stop-color="#ff0074"/><stop offset="0.775" stop-color="#ff006d"/><stop offset="0.800" stop-color="#ff0067"/><stop offset="0.825" stop-color="#ff0060"/><stop offset="0.850" stop-color="#ff0059"/><stop offset="0.875" stop-color="#ff0052"/><stop offset="0.900" stop-color="#ff004c"/><stop offset="0.925" stop-color="#ff0045"/><stop offset="0.950" stop-color="#ff003d"/><stop offset="0.975" stop-color="#ff0035"/><stop offset="1.000" stop-color="#ff002d"/></linearGradient>
<linearGradient id="cg86" gradientUnits="userSpaceOnUse" x1="1306.3" y1="0" x2="1665.6" y2="0"><stop offset="0.000" stop-color="#00bdff"/><stop offset="0.025" stop-color="#00bbff"/><stop offset="0.050" stop-color="#00b9ff"/><stop offset="0.075" stop-color="#00b7ff"/><stop offset="0.100" stop-color="#00b5ff"/><stop offset="0.125" stop-color="#00b2ff"/><stop offset="0.150" stop-color="#00afff"/><stop offset="0.175" stop-color="#00acff"/><stop offset="0.200" stop-color="#00a9ff"/><stop offset="0.225" stop-color="#00a6ff"/><stop offset="0.250" stop-color="#00a2ff"/><stop offset="0.275" stop-color="#549eff"/><stop offset="0.300" stop-color="#7f99ff"/><stop offset="0.325" stop-color="#9e94ff"/><stop offset="0.350" stop-color="#b88fff"/><stop offset="0.375" stop-color="#d088ff"/><stop offset="0.400" stop-color="#e681ff"/><stop offset="0.425" stop-color="#fa79ff"/><stop offset="0.450" stop-color="#ff68f0"/><stop offset="0.475" stop-color="#ff55e0"/><stop offset="0.500" stop-color="#ff42d1"/><stop offset="0.525" stop-color="#ff2bc5"/><stop offset="0.550" stop-color="#ff00b9"/><stop offset="0.575" stop-color="#ff00af"/><stop offset="0.600" stop-color="#ff00a5"/><stop offset="0.625" stop-color="#ff009c"/><stop offset="0.650" stop-color="#ff0094"/><stop offset="0.675" stop-color="#ff008c"/><stop offset="0.700" stop-color="#ff0084"/><stop offset="0.725" stop-color="#ff007d"/><stop offset="0.750" stop-color="#ff0076"/><stop offset="0.775" stop-color="#ff006f"/><stop offset="0.800" stop-color="#ff0068"/><stop offset="0.825" stop-color="#ff0062"/><stop offset="0.850" stop-color="#ff005b"/><stop offset="0.875" stop-color="#ff0055"/><stop offset="0.900" stop-color="#ff004e"/><stop offset="0.925" stop-color="#ff0047"/><stop offset="0.950" stop-color="#ff0040"/><stop offset="0.975" stop-color="#ff0039"/><stop offset="1.000" stop-color="#ff0031"/></linearGradient>
<linearGradient id="cg87" gradientUnits="userSpaceOnUse" x1="1306.3" y1="0" x2="1665.6" y2="0"><stop offset="0.000" stop-color="#00baff"/><stop offset="0.025" stop-color="#00b7ff"/><stop offset="0.050" stop-color="#00b5ff"/><stop offset="0.075" stop-color="#00b3ff"/><stop offset="0.100" stop-color="#00b0ff"/><stop offset="0.125" stop-color="#00aeff"/><stop offset="0.150" stop-color="#00abff"/><stop offset="0.175" stop-color="#00a8ff"/><stop offset="0.200" stop-color="#00a4ff"/><stop offset="0.225" stop-color="#00a1ff"/><stop offset="0.250" stop-color="#009cff"/><stop offset="0.275" stop-color="#5998ff"/><stop offset="0.300" stop-color="#8193ff"/><stop offset="0.325" stop-color="#9f8eff"/><stop offset="0.350" stop-color="#b988ff"/><stop offset="0.375" stop-color="#d081ff"/><stop offset="0.400" stop-color="#e679ff"/><stop offset="0.425" stop-color="#fa6fff"/><stop offset="0.450" stop-color="#ff5ef1"/><stop offset="0.475" stop-color="#ff4ae1"/><stop offset="0.500" stop-color="#ff34d2"/><stop offset="0.525" stop-color="#ff12c6"/><stop offset="0.550" stop-color="#ff00ba"/><stop offset="0.575" stop-color="#ff00b0"/><stop offset="0.600" stop-color="#ff00a6"/><stop offset="0.625" stop-color="#ff009d"/><stop offset="0.650" stop-color="#ff0095"/><stop offset="0.675" stop-color="#ff008d"/><stop offset="0.700" stop-color="#ff0086"/><stop offset="0.725" stop-color="#ff007f"/><stop offset="0.750" stop-color="#ff0078"/><stop offset="0.775" stop-color="#ff0071"/><stop offset="0.800" stop-color="#ff006a"/><stop offset="0.825" stop-color="#ff0064"/><stop offset="0.850" stop-color="#ff005d"/><stop offset="0.875" stop-color="#ff0057"/><stop offset="0.900" stop-color="#ff0051"/><stop offset="0.925" stop-color="#ff004a"/><stop offset="0.950" stop-color="#ff0043"/><stop offset="0.975" stop-color="#ff003c"/><stop offset="1.000" stop-color="#ff0034"/></linearGradient>
<linearGradient id="cg88" gradientUnits="userSpaceOnUse" x1="1306.3" y1="0" x2="1665.6" y2="0"><stop offset="0.000" stop-color="#00b6ff"/><stop offset="0.025" stop-color="#00b4ff"/><stop offset="0.050" stop-color="#00b1ff"/><stop offset="0.075" stop-color="#00afff"/><stop offset="0.100" stop-color="#00acff"/><stop offset="0.125" stop-color="#00a9ff"/><stop offset="0.150" stop-color="#00a6ff"/><stop offset="0.175" stop-color="#00a3ff"/><stop offset="0.200" stop-color="#009fff"/><stop offset="0.225" stop-color="#009bff"/><stop offset="0.250" stop-color="#0097ff"/><stop offset="0.275" stop-color="#5e92ff"/><stop offset="0.300" stop-color="#848dff"/><stop offset="0.325" stop-color="#a187ff"/><stop offset="0.350" stop-color="#ba80ff"/><stop offset="0.375" stop-color="#d178ff"/><stop offset="0.400" stop-color="#e66fff"/><stop offset="0.425" stop-color="#fa65ff"/><stop offset="0.450" stop-color="#ff52f1"/><stop offset="0.475" stop-color="#ff3ce1"/><stop offset="0.500" stop-color="#ff1fd3"/><stop offset="0.525" stop-color="#ff00c7"/><stop offset="0.550" stop-color="#ff00bb"/><stop offset="0.575" stop-color="#ff00b1"/><stop offset="0.600" stop-color="#ff00a8"/><stop offset="0.625" stop-color="#ff009f"/><stop offset="0.650" stop-color="#ff0097"/><stop offset="0.675" stop-color="#ff008f"/><stop offset="0.700" stop-color="#ff0087"/><stop offset="0.725" stop-color="#ff0080"/><stop offset="0.750" stop-color="#ff0079"/><stop offset="0.775" stop-color="#ff0073"/><stop offset="0.800" stop-color="#ff006c"/><stop offset="0.825" stop-color="#ff0066"/><stop offset="0.850" stop-color="#ff0060"/><stop offset="0.875" stop-color="#ff0059"/><stop offset="0.900" stop-color="#ff0053"/><stop offset="0.925" stop-color="#ff004c"/><stop offset="0.950" stop-color="#ff0046"/><stop offset="0.975" stop-color="#ff003f"/><stop offset="1.000" stop-color="#ff0038"/></linearGradient>
<linearGradient id="cg89" gradientUnits="userSpaceOnUse" x1="1306.3" y1="0" x2="1665.6" y2="0"><stop offset="0.000" stop-color="#00b2ff"/><stop offset="0.025" stop-color="#00b0ff"/><stop offset="0.050" stop-color="#00adff"/><stop offset="0.075" stop-color="#00aaff"/><stop offset="0.100" stop-color="#00a8ff"/><stop offset="0.125" stop-color="#00a5ff"/><stop offset="0.150" stop-color="#00a1ff"/><stop offset="0.175" stop-color="#009eff"/><stop offset="0.200" stop-color="#009aff"/><stop offset="0.225" stop-color="#0096ff"/><stop offset="0.250" stop-color="#1b91ff"/><stop offset="0.275" stop-color="#628cff"/><stop offset="0.300" stop-color="#8686ff"/><stop offset="0.325" stop-color="#a280ff"/><stop offset="0.350" stop-color="#bb78ff"/><stop offset="0.375" stop-color="#d170ff"/><stop offset="0.400" stop-color="#e666ff"/><stop offset="0.425" stop-color="#fa59ff"/><stop offset="0.450" stop-color="#ff45f2"/><stop offset="0.475" stop-color="#ff2ae2"/><stop offset="0.500" stop-color="#ff00d4"/><stop offset="0.525" stop-color="#ff00c8"/><stop offset="0.550" stop-color="#ff00bd"/><stop offset="0.575" stop-color="#ff00b2"/><stop offset="0.600" stop-color="#ff00a9"/><stop offset="0.625" stop-color="#ff00a0"/><stop offset="0.650" stop-color="#ff0098"/><stop offset="0.675" stop-color="#ff0090"/><stop offset="0.700" stop-color="#ff0089"/><stop offset="0.725" stop-color="#ff0082"/><stop offset="0.750" stop-color="#ff007b"/><stop offset="0.775" stop-color="#ff0074"/><stop offset="0.800" stop-color="#ff006e"/><stop offset="0.825" stop-color="#ff0068"/><stop offset="0.850" stop-color="#ff0061"/><stop offset="0.875" stop-color="#ff005b"/><stop offset="0.900" stop-color="#ff0055"/><stop offset="0.925" stop-color="#ff004f"/><stop offset="0.950" stop-color="#ff0048"/><stop offset="0.975" stop-color="#ff0042"/><stop offset="1.000" stop-color="#ff003b"/></linearGradient>
<linearGradient id="cg90" gradientUnits="userSpaceOnUse" x1="1306.3" y1="0" x2="1665.6" y2="0"><stop offset="0.000" stop-color="#00aeff"/><stop offset="0.025" stop-color="#00acff"/><stop offset="0.050" stop-color="#00a9ff"/><stop offset="0.075" stop-color="#00a6ff"/><stop offset="0.100" stop-color="#00a3ff"/><stop offset="0.125" stop-color="#00a0ff"/><stop offset="0.150" stop-color="#009cff"/><stop offset="0.175" stop-color="#0099ff"/><stop offset="0.200" stop-color="#0095ff"/><stop offset="0.225" stop-color="#0090ff"/><stop offset="0.250" stop-color="#2a8bff"/><stop offset="0.275" stop-color="#6686ff"/><stop offset="0.300" stop-color="#887fff"/><stop offset="0.325" stop-color="#a478ff"/><stop offset="0.350" stop-color="#bc70ff"/><stop offset="0.375" stop-color="#d267ff"/><stop offset="0.400" stop-color="#e65bff"/><stop offset="0.425" stop-color="#f94dff"/><stop offset="0.450" stop-color="#ff34f3"/><stop offset="0.475" stop-color="#ff06e3"/><stop offset="0.500" stop-color="#ff00d5"/><stop offset="0.525" stop-color="#ff00c9"/><stop offset="0.550" stop-color="#ff00be"/><stop offset="0.575" stop-color="#ff00b3"/><stop offset="0.600" stop-color="#ff00aa"/><stop offset="0.625" stop-color="#ff00a1"/><stop offset="0.650" stop-color="#ff0099"/><stop offset="0.675" stop-color="#ff0092"/><stop offset="0.700" stop-color="#ff008a"/><stop offset="0.725" stop-color="#ff0083"/><stop offset="0.750" stop-color="#ff007d"/><stop offset="0.775" stop-color="#ff0076"/><stop offset="0.800" stop-color="#ff0070"/><stop offset="0.825" stop-color="#ff006a"/><stop offset="0.850" stop-color="#ff0063"/><stop offset="0.875" stop-color="#ff005d"/><stop offset="0.900" stop-color="#ff0057"/><stop offset="0.925" stop-color="#ff0051"/><stop offset="0.950" stop-color="#ff004b"/><stop offset="0.975" stop-color="#ff0044"/><stop offset="1.000" stop-color="#ff003e"/></linearGradient>
<linearGradient id="cg91" gradientUnits="userSpaceOnUse" x1="1306.3" y1="0" x2="1665.6" y2="0"><stop offset="0.000" stop-color="#00aaff"/><stop offset="0.025" stop-color="#00a8ff"/><stop offset="0.050" stop-color="#00a5ff"/><stop offset="0.075" stop-color="#00a2ff"/><stop offset="0.100" stop-color="#009fff"/><stop offset="0.125" stop-color="#009bff"/><stop offset="0.150" stop-color="#0098ff"/><stop offset="0.175" stop-color="#0094ff"/><stop offset="0.200" stop-color="#008fff"/><stop offset="0.225" stop-color="#008aff"/><stop offset="0.250" stop-color="#3485ff"/><stop offset="0.275" stop-color="#697fff"/><stop offset="0.300" stop-color="#8b78ff"/><stop offset="0.325" stop-color="#a571ff"/><stop offset="0.350" stop-color="#bd68ff"/><stop offset="0.375" stop-color="#d25dff"/><stop offset="0.400" stop-color="#e64fff"/><stop offset="0.425" stop-color="#f93dff"/><stop offset="0.450" stop-color="#ff1bf3"/><stop offset="0.475" stop-color="#ff00e3"/><stop offset="0.500" stop-color="#ff00d6"/><stop offset="0.525" stop-color="#ff00ca"/><stop offset="0.550" stop-color="#ff00bf"/><stop offset="0.575" stop-color="#ff00b5"/><stop offset="0.600" stop-color="#ff00ab"/><stop offset="0.625" stop-color="#ff00a3"/><stop offset="0.650" stop-color="#ff009b"/><stop offset="0.675" stop-color="#ff0093"/><stop offset="0.700" stop-color="#ff008c"/><stop offset="0.725" stop-color="#ff0085"/><stop offset="0.750" stop-color="#ff007e"/><stop offset="0.775" stop-color="#ff0078"/><stop offset="0.800" stop-color="#ff0071"/><stop offset="0.825" stop-color="#ff006b"/><stop offset="0.850" stop-color="#ff0065"/><stop offset="0.875" stop-color="#ff005f"/><stop offset="0.900" stop-color="#ff0059"/><stop offset="0.925" stop-color="#ff0053"/><stop offset="0.950" stop-color="#ff004d"/><stop offset="0.975" stop-color="#ff0047"/><stop offset="1.000" stop-color="#ff0040"/></linearGradient>
<linearGradient id="cg92" gradientUnits="userSpaceOnUse" x1="1306.3" y1="0" x2="1665.6" y2="0"><stop offset="0.000" stop-color="#00a6ff"/><stop offset="0.025" stop-color="#00a4ff"/><stop offset="0.050" stop-color="#00a1ff"/><stop offset="0.075" stop-color="#009eff"/><stop offset="0.100" stop-color="#009aff"/><stop offset="0.125" stop-color="#0097ff"/><stop offset="0.150" stop-color="#0093ff"/><stop offset="0.175" stop-color="#008eff"/><stop offset="0.200" stop-color="#008aff"/><stop offset="0.225" stop-color="#0084ff"/><stop offset="0.250" stop-color="#3c7fff"/><stop offset="0.275" stop-color="#6d78ff"/><stop offset="0.300" stop-color="#8d71ff"/><stop offset="0.325" stop-color="#a768ff"/><stop offset="0.350" stop-color="#bd5eff"/><stop offset="0.375" stop-color="#d252ff"/><stop offset="0.400" stop-color="#e641ff"/><stop offset="0.425" stop-color="#f928ff"/><stop offset="0.450" stop-color="#ff00f4"/><stop offset="0.475" stop-color="#ff00e4"/><stop offset="0.500" stop-color="#ff00d7"/><stop offset="0.525" stop-color="#ff00cb"/><stop offset="0.550" stop-color="#ff00c0"/><stop offset="0.575" stop-color="#ff00b6"/><stop offset="0.600" stop-color="#ff00ac"/><stop offset="0.625" stop-color="#ff00a4"/><stop offset="0.650" stop-color="#ff009c"/><stop offset="0.675" stop-color="#ff0094"/><stop offset="0.700" stop-color="#ff008d"/><stop offset="0.725" stop-color="#ff0086"/><stop offset="0.750" stop-color="#ff0080"/><stop offset="0.775" stop-color="#ff0079"/><stop offset="0.800" stop-color="#ff0073"/><stop offset="0.825" stop-color="#ff006d"/><stop offset="0.850" stop-color="#ff0067"/><stop offset="0.875" stop-color="#ff0061"/><stop offset="0.900" stop-color="#ff005b"/><stop offset="0.925" stop-color="#ff0055"/><stop offset="0.950" stop-color="#ff004f"/><stop offset="0.975" stop-color="#ff0049"/><stop offset="1.000" stop-color="#ff0043"/></linearGradient>
<linearGradient id="cg93" gradientUnits="userSpaceOnUse" x1="1306.3" y1="0" x2="1665.6" y2="0"><stop offset="0.000" stop-color="#00a2ff"/><stop offset="0.025" stop-color="#00a0ff"/><stop offset="0.050" stop-color="#009cff"/><stop offset="0.075" stop-color="#0099ff"/><stop offset="0.100" stop-color="#0096ff"/><stop offset="0.125" stop-color="#0092ff"/><stop offset="0.150" stop-color="#008eff"/><stop offset="0.175" stop-color="#0089ff"/><stop offset="0.200" stop-color="#0084ff"/><stop offset="0.225" stop-color="#007eff"/><stop offset="0.250" stop-color="#4378ff"/><stop offset="0.275" stop-color="#7071ff"/><stop offset="0.300" stop-color="#8f69ff"/><stop offset="0.325" stop-color="#a860ff"/><stop offset="0.350" stop-color="#be54ff"/><stop offset="0.375" stop-color="#d345ff"/><stop offset="0.400" stop-color="#e62fff"/><stop offset="0.425" stop-color="#f900ff"/><stop offset="0.450" stop-color="#ff00f4"/><stop offset="0.475" stop-color="#ff00e5"/><stop offset="0.500" stop-color="#ff00d7"/><stop offset="0.525" stop-color="#ff00cb"/><stop offset="0.550" stop-color="#ff00c1"/><stop offset="0.575" stop-color="#ff00b7"/><stop offset="0.600" stop-color="#ff00ae"/><stop offset="0.625" stop-color="#ff00a5"/><stop offset="0.650" stop-color="#ff009d"/><stop offset="0.675" stop-color="#ff0096"/><stop offset="0.700" stop-color="#ff008f"/><stop offset="0.725" stop-color="#ff0088"/><stop offset="0.750" stop-color="#ff0081"/><stop offset="0.775" stop-color="#ff007b"/><stop offset="0.800" stop-color="#ff0075"/><stop offset="0.825" stop-color="#ff006f"/><stop offset="0.850" stop-color="#ff0069"/><stop offset="0.875" stop-color="#ff0063"/><stop offset="0.900" stop-color="#ff005d"/><stop offset="0.925" stop-color="#ff0057"/><stop offset="0.950" stop-color="#ff0052"/><stop offset="0.975" stop-color="#ff004c"/><stop offset="1.000" stop-color="#ff0045"/></linearGradient>
<linearGradient id="cg94" gradientUnits="userSpaceOnUse" x1="1306.3" y1="0" x2="1665.6" y2="0"><stop offset="0.000" stop-color="#009eff"/><stop offset="0.025" stop-color="#009bff"/><stop offset="0.050" stop-color="#0098ff"/><stop offset="0.075" stop-color="#0095ff"/><stop offset="0.100" stop-color="#0091ff"/><stop offset="0.125" stop-color="#008dff"/><stop offset="0.150" stop-color="#0088ff"/><stop offset="0.175" stop-color="#0084ff"/><stop offset="0.200" stop-color="#007eff"/><stop offset="0.225" stop-color="#0078ff"/><stop offset="0.250" stop-color="#4971ff"/><stop offset="0.275" stop-color="#736aff"/><stop offset="0.300" stop-color="#9061ff"/><stop offset="0.325" stop-color="#a956ff"/><stop offset="0.350" stop-color="#bf48ff"/><stop offset="0.375" stop-color="#d335ff"/><stop offset="0.400" stop-color="#e610ff"/><stop offset="0.425" stop-color="#f800ff"/><stop offset="0.450" stop-color="#ff00f5"/><stop offset="0.475" stop-color="#ff00e5"/><stop offset="0.500" stop-color="#ff00d8"/><stop offset="0.525" stop-color="#ff00cc"/><stop offset="0.550" stop-color="#ff00c2"/><stop offset="0.575" stop-color="#ff00b8"/><stop offset="0.600" stop-color="#ff00af"/><stop offset="0.625" stop-color="#ff00a6"/><stop offset="0.650" stop-color="#ff009e"/><stop offset="0.675" stop-color="#ff0097"/><stop offset="0.700" stop-color="#ff0090"/><stop offset="0.725" stop-color="#ff0089"/><stop offset="0.750" stop-color="#ff0083"/><stop offset="0.775" stop-color="#ff007c"/><stop offset="0.800" stop-color="#ff0076"/><stop offset="0.825" stop-color="#ff0070"/><stop offset="0.850" stop-color="#ff006a"/><stop offset="0.875" stop-color="#ff0065"/><stop offset="0.900" stop-color="#ff005f"/><stop offset="0.925" stop-color="#ff0059"/><stop offset="0.950" stop-color="#ff0054"/><stop offset="0.975" stop-color="#ff004e"/><stop offset="1.000" stop-color="#ff0048"/></linearGradient>
<linearGradient id="cg95" gradientUnits="userSpaceOnUse" x1="1306.3" y1="0" x2="1665.6" y2="0"><stop offset="0.000" stop-color="#009aff"/><stop offset="0.025" stop-color="#0097ff"/><stop offset="0.050" stop-color="#0094ff"/><stop offset="0.075" stop-color="#0090ff"/><stop offset="0.100" stop-color="#008cff"/><stop offset="0.125" stop-color="#0088ff"/><stop offset="0.150" stop-color="#0083ff"/><stop offset="0.175" stop-color="#007eff"/><stop offset="0.200" stop-color="#0078ff"/><stop offset="0.225" stop-color="#0072ff"/><stop offset="0.250" stop-color="#4e6aff"/><stop offset="0.275" stop-color="#7562ff"/><stop offset="0.300" stop-color="#9258ff"/><stop offset="0.325" stop-color="#aa4bff"/><stop offset="0.350" stop-color="#c03aff"/><stop offset="0.375" stop-color="#d41fff"/><stop offset="0.400" stop-color="#e600ff"/><stop offset="0.425" stop-color="#f800ff"/><stop offset="0.450" stop-color="#ff00f5"/><stop offset="0.475" stop-color="#ff00e6"/><stop offset="0.500" stop-color="#ff00d9"/><stop offset="0.525" stop-color="#ff00cd"/><stop offset="0.550" stop-color="#ff00c3"/><stop offset="0.575" stop-color="#ff00b9"/><stop offset="0.600" stop-color="#ff00b0"/><stop offset="0.625" stop-color="#ff00a7"/><stop offset="0.650" stop-color="#ff00a0"/><stop offset="0.675" stop-color="#ff0098"/><stop offset="0.700" stop-color="#ff0091"/><stop offset="0.725" stop-color="#ff008a"/><stop offset="0.750" stop-color="#ff0084"/><stop offset="0.775" stop-color="#ff007e"/><stop offset="0.800" stop-color="#ff0078"/><stop offset="0.825" stop-color="#ff0072"/><stop offset="0.850" stop-color="#ff006c"/><stop offset="0.875" stop-color="#ff0066"/><stop offset="0.900" stop-color="#ff0061"/><stop offset="0.925" stop-color="#ff005b"/><stop offset="0.950" stop-color="#ff0056"/><stop offset="0.975" stop-color="#ff0050"/><stop offset="1.000" stop-color="#ff004a"/></linearGradient>
<linearGradient id="cg96" gradientUnits="userSpaceOnUse" x1="1306.3" y1="0" x2="1665.6" y2="0"><stop offset="0.000" stop-color="#0096ff"/><stop offset="0.025" stop-color="#0093ff"/><stop offset="0.050" stop-color="#008fff"/><stop offset="0.075" stop-color="#008cff"/><stop offset="0.100" stop-color="#0087ff"/><stop offset="0.125" stop-color="#0083ff"/><stop offset="0.150" stop-color="#007eff"/><stop offset="0.175" stop-color="#0078ff"/><stop offset="0.200" stop-color="#0072ff"/><stop offset="0.225" stop-color="#006bff"/><stop offset="0.250" stop-color="#5363ff"/><stop offset="0.275" stop-color="#7859ff"/><stop offset="0.300" stop-color="#944dff"/><stop offset="0.325" stop-color="#ab3eff"/><stop offset="0.350" stop-color="#c028ff"/><stop offset="0.375" stop-color="#d400ff"/><stop offset="0.400" stop-color="#e600ff"/><stop offset="0.425" stop-color="#f800ff"/><stop offset="0.450" stop-color="#ff00f5"/><stop offset="0.475" stop-color="#ff00e7"/><stop offset="0.500" stop-color="#ff00da"/><stop offset="0.525" stop-color="#ff00ce"/><stop offset="0.550" stop-color="#ff00c3"/><stop offset="0.575" stop-color="#ff00ba"/><stop offset="0.600" stop-color="#ff00b1"/><stop offset="0.625" stop-color="#ff00a9"/><stop offset="0.650" stop-color="#ff00a1"/><stop offset="0.675" stop-color="#ff0099"/><stop offset="0.700" stop-color="#ff0092"/><stop offset="0.725" stop-color="#ff008c"/><stop offset="0.750" stop-color="#ff0085"/><stop offset="0.775" stop-color="#ff007f"/><stop offset="0.800" stop-color="#ff0079"/><stop offset="0.825" stop-color="#ff0073"/><stop offset="0.850" stop-color="#ff006e"/><stop offset="0.875" stop-color="#ff0068"/><stop offset="0.900" stop-color="#ff0063"/><stop offset="0.925" stop-color="#ff005d"/><stop offset="0.950" stop-color="#ff0057"/><stop offset="0.975" stop-color="#ff0052"/><stop offset="1.000" stop-color="#ff004c"/></linearGradient>
<linearGradient id="cg97" gradientUnits="userSpaceOnUse" x1="1306.3" y1="0" x2="1665.6" y2="0"><stop offset="0.000" stop-color="#0092ff"/><stop offset="0.025" stop-color="#008fff"/><stop offset="0.050" stop-color="#008bff"/><stop offset="0.075" stop-color="#0087ff"/><stop offset="0.100" stop-color="#0082ff"/><stop offset="0.125" stop-color="#007dff"/><stop offset="0.150" stop-color="#0078ff"/><stop offset="0.175" stop-color="#0072ff"/><stop offset="0.200" stop-color="#006bff"/><stop offset="0.225" stop-color="#0064ff"/><stop offset="0.250" stop-color="#575bff"/><stop offset="0.275" stop-color="#7a50ff"/><stop offset="0.300" stop-color="#9642ff"/><stop offset="0.325" stop-color="#ad2eff"/><stop offset="0.350" stop-color="#c100ff"/><stop offset="0.375" stop-color="#d400ff"/><stop offset="0.400" stop-color="#e600ff"/><stop offset="0.425" stop-color="#f800ff"/><stop offset="0.450" stop-color="#ff00f6"/><stop offset="0.475" stop-color="#ff00e7"/><stop offset="0.500" stop-color="#ff00da"/><stop offset="0.525" stop-color="#ff00cf"/><stop offset="0.550" stop-color="#ff00c4"/><stop offset="0.575" stop-color="#ff00bb"/><stop offset="0.600" stop-color="#ff00b2"/><stop offset="0.625" stop-color="#ff00aa"/><stop offset="0.650" stop-color="#ff00a2"/><stop offset="0.675" stop-color="#ff009b"/><stop offset="0.700" stop-color="#ff0094"/><stop offset="0.725" stop-color="#ff008d"/><stop offset="0.750" stop-color="#ff0087"/><stop offset="0.775" stop-color="#ff0081"/><stop offset="0.800" stop-color="#ff007b"/><stop offset="0.825" stop-color="#ff0075"/><stop offset="0.850" stop-color="#ff006f"/><stop offset="0.875" stop-color="#ff006a"/><stop offset="0.900" stop-color="#ff0064"/><stop offset="0.925" stop-color="#ff005f"/><stop offset="0.950" stop-color="#ff0059"/><stop offset="0.975" stop-color="#ff0054"/><stop offset="1.000" stop-color="#ff004e"/></linearGradient>
<linearGradient id="cg98" gradientUnits="userSpaceOnUse" x1="1306.3" y1="0" x2="1665.6" y2="0"><stop offset="0.000" stop-color="#008eff"/><stop offset="0.025" stop-color="#008aff"/><stop offset="0.050" stop-color="#0086ff"/><stop offset="0.075" stop-color="#0082ff"/><stop offset="0.100" stop-color="#007dff"/><stop offset="0.125" stop-color="#0078ff"/><stop offset="0.150" stop-color="#0072ff"/><stop offset="0.175" stop-color="#006cff"/><stop offset="0.200" stop-color="#0064ff"/><stop offset="0.225" stop-color="#195cff"/><stop offset="0.250" stop-color="#5b52ff"/><stop offset="0.275" stop-color="#7d45ff"/><stop offset="0.300" stop-color="#9734ff"/><stop offset="0.325" stop-color="#ae15ff"/><stop offset="0.350" stop-color="#c200ff"/><stop offset="0.375" stop-color="#d500ff"/><stop offset="0.400" stop-color="#e600ff"/><stop offset="0.425" stop-color="#f700ff"/><stop offset="0.450" stop-color="#ff00f6"/><stop offset="0.475" stop-color="#ff00e8"/><stop offset="0.500" stop-color="#ff00db"/><stop offset="0.525" stop-color="#ff00d0"/><stop offset="0.550" stop-color="#ff00c5"/><stop offset="0.575" stop-color="#ff00bc"/><stop offset="0.600" stop-color="#ff00b3"/><stop offset="0.625" stop-color="#ff00ab"/><stop offset="0.650" stop-color="#ff00a3"/><stop offset="0.675" stop-color="#ff009c"/><stop offset="0.700" stop-color="#ff0095"/><stop offset="0.725" stop-color="#ff008e"/><stop offset="0.750" stop-color="#ff0088"/><stop offset="0.775" stop-color="#ff0082"/><stop offset="0.800" stop-color="#ff007c"/><stop offset="0.825" stop-color="#ff0076"/><stop offset="0.850" stop-color="#ff0071"/><stop offset="0.875" stop-color="#ff006b"/><stop offset="0.900" stop-color="#ff0066"/><stop offset="0.925" stop-color="#ff0060"/><stop offset="0.950" stop-color="#ff005b"/><stop offset="0.975" stop-color="#ff0056"/><stop offset="1.000" stop-color="#ff0050"/></linearGradient>
<linearGradient id="cg99" gradientUnits="userSpaceOnUse" x1="1306.3" y1="0" x2="1665.6" y2="0"><stop offset="0.000" stop-color="#008aff"/><stop offset="0.025" stop-color="#0086ff"/><stop offset="0.050" stop-color="#0082ff"/><stop offset="0.075" stop-color="#007dff"/><stop offset="0.100" stop-color="#0078ff"/><stop offset="0.125" stop-color="#0072ff"/><stop offset="0.150" stop-color="#006cff"/><stop offset="0.175" stop-color="#0065ff"/><stop offset="0.200" stop-color="#005dff"/><stop offset="0.225" stop-color="#2653ff"/><stop offset="0.250" stop-color="#5f48ff"/><stop offset="0.275" stop-color="#7f38ff"/><stop offset="0.300" stop-color="#9920ff"/><stop offset="0.325" stop-color="#af00ff"/><stop offset="0.350" stop-color="#c200ff"/><stop offset="0.375" stop-color="#d500ff"/><stop offset="0.400" stop-color="#e600ff"/><stop offset="0.425" stop-color="#f700ff"/><stop offset="0.450" stop-color="#ff00f7"/><stop offset="0.475" stop-color="#ff00e8"/><stop offset="0.500" stop-color="#ff00dc"/><stop offset="0.525" stop-color="#ff00d0"/><stop offset="0.550" stop-color="#ff00c6"/><stop offset="0.575" stop-color="#ff00bd"/><stop offset="0.600" stop-color="#ff00b4"/><stop offset="0.625" stop-color="#ff00ac"/><stop offset="0.650" stop-color="#ff00a4"/><stop offset="0.675" stop-color="#ff009d"/><stop offset="0.700" stop-color="#ff0096"/><stop offset="0.725" stop-color="#ff0090"/><stop offset="0.750" stop-color="#ff0089"/><stop offset="0.775" stop-color="#ff0083"/><stop offset="0.800" stop-color="#ff007d"/><stop offset="0.825" stop-color="#ff0078"/><stop offset="0.850" stop-color="#ff0072"/><stop offset="0.875" stop-color="#ff006d"/><stop offset="0.900" stop-color="#ff0067"/><stop offset="0.925" stop-color="#ff0062"/><stop offset="0.950" stop-color="#ff005d"/><stop offset="0.975" stop-color="#ff0058"/><stop offset="1.000" stop-color="#ff0052"/></linearGradient>
<linearGradient id="cg100" gradientUnits="userSpaceOnUse" x1="1306.3" y1="0" x2="1665.6" y2="0"><stop offset="0.000" stop-color="#0086ff"/><stop offset="0.025" stop-color="#0081ff"/><stop offset="0.050" stop-color="#007dff"/><stop offset="0.075" stop-color="#0078ff"/><stop offset="0.100" stop-color="#0073ff"/><stop offset="0.125" stop-color="#006cff"/><stop offset="0.150" stop-color="#0066ff"/><stop offset="0.175" stop-color="#005eff"/><stop offset="0.200" stop-color="#0055ff"/><stop offset="0.225" stop-color="#304aff"/><stop offset="0.250" stop-color="#623cff"/><stop offset="0.275" stop-color="#8128ff"/><stop offset="0.300" stop-color="#9a00ff"/><stop offset="0.325" stop-color="#b000ff"/><stop offset="0.350" stop-color="#c300ff"/><stop offset="0.375" stop-color="#d500ff"/><stop offset="0.400" stop-color="#e600ff"/><stop offset="0.425" stop-color="#f700ff"/><stop offset="0.450" stop-color="#ff00f7"/><stop offset="0.475" stop-color="#ff00e9"/><stop offset="0.500" stop-color="#ff00dc"/><stop offset="0.525" stop-color="#ff00d1"/><stop offset="0.550" stop-color="#ff00c7"/><stop offset="0.575" stop-color="#ff00be"/><stop offset="0.600" stop-color="#ff00b5"/><stop offset="0.625" stop-color="#ff00ad"/><stop offset="0.650" stop-color="#ff00a5"/><stop offset="0.675" stop-color="#ff009e"/><stop offset="0.700" stop-color="#ff0097"/><stop offset="0.725" stop-color="#ff0091"/><stop offset="0.750" stop-color="#ff008b"/><stop offset="0.775" stop-color="#ff0085"/><stop offset="0.800" stop-color="#ff007f"/><stop offset="0.825" stop-color="#ff0079"/><stop offset="0.850" stop-color="#ff0074"/><stop offset="0.875" stop-color="#ff006e"/><stop offset="0.900" stop-color="#ff0069"/><stop offset="0.925" stop-color="#ff0064"/><stop offset="0.950" stop-color="#ff005f"/><stop offset="0.975" stop-color="#ff0059"/><stop offset="1.000" stop-color="#ff0054"/></linearGradient>
<linearGradient id="cg101" gradientUnits="userSpaceOnUse" x1="1306.3" y1="0" x2="1665.6" y2="0"><stop offset="0.000" stop-color="#0081ff"/><stop offset="0.025" stop-color="#007dff"/><stop offset="0.050" stop-color="#0078ff"/><stop offset="0.075" stop-color="#0073ff"/><stop offset="0.100" stop-color="#006dff"/><stop offset="0.125" stop-color="#0066ff"/><stop offset="0.150" stop-color="#005fff"/><stop offset="0.175" stop-color="#0056ff"/><stop offset="0.200" stop-color="#004cff"/><stop offset="0.225" stop-color="#373fff"/><stop offset="0.250" stop-color="#652eff"/><stop offset="0.275" stop-color="#8307ff"/><stop offset="0.300" stop-color="#9b00ff"/><stop offset="0.325" stop-color="#b100ff"/><stop offset="0.350" stop-color="#c400ff"/><stop offset="0.375" stop-color="#d600ff"/><stop offset="0.400" stop-color="#e700ff"/><stop offset="0.425" stop-color="#f700ff"/><stop offset="0.450" stop-color="#ff00f7"/><stop offset="0.475" stop-color="#ff00ea"/><stop offset="0.500" stop-color="#ff00dd"/><stop offset="0.525" stop-color="#ff00d2"/><stop offset="0.550" stop-color="#ff00c8"/><stop offset="0.575" stop-color="#ff00be"/><stop offset="0.600" stop-color="#ff00b6"/><stop offset="0.625" stop-color="#ff00ae"/><stop offset="0.650" stop-color="#ff00a6"/><stop offset="0.675" stop-color="#ff009f"/><stop offset="0.700" stop-color="#ff0098"/><stop offset="0.725" stop-color="#ff0092"/><stop offset="0.750" stop-color="#ff008c"/><stop offset="0.775" stop-color="#ff0086"/><stop offset="0.800" stop-color="#ff0080"/><stop offset="0.825" stop-color="#ff007a"/><stop offset="0.850" stop-color="#ff0075"/><stop offset="0.875" stop-color="#ff0070"/><stop offset="0.900" stop-color="#ff006a"/><stop offset="0.925" stop-color="#ff0065"/><stop offset="0.950" stop-color="#ff0060"/><stop offset="0.975" stop-color="#ff005b"/><stop offset="1.000" stop-color="#ff0056"/></linearGradient>
<linearGradient id="cg102" gradientUnits="userSpaceOnUse" x1="1306.3" y1="0" x2="1665.6" y2="0"><stop offset="0.000" stop-color="#007dff"/><stop offset="0.025" stop-color="#0078ff"/><stop offset="0.050" stop-color="#0073ff"/><stop offset="0.075" stop-color="#006dff"/><stop offset="0.100" stop-color="#0067ff"/><stop offset="0.125" stop-color="#0060ff"/><stop offset="0.150" stop-color="#0058ff"/><stop offset="0.175" stop-color="#004eff"/><stop offset="0.200" stop-color="#0042ff"/><stop offset="0.225" stop-color="#3e32ff"/><stop offset="0.250" stop-color="#6818ff"/><stop offset="0.275" stop-color="#8500ff"/><stop offset="0.300" stop-color="#9d00ff"/><stop offset="0.325" stop-color="#b100ff"/><stop offset="0.350" stop-color="#c400ff"/><stop offset="0.375" stop-color="#d600ff"/><stop offset="0.400" stop-color="#e700ff"/><stop offset="0.425" stop-color="#f700ff"/><stop offset="0.450" stop-color="#ff00f8"/><stop offset="0.475" stop-color="#ff00ea"/><stop offset="0.500" stop-color="#ff00de"/><stop offset="0.525" stop-color="#ff00d3"/><stop offset="0.550" stop-color="#ff00c9"/><stop offset="0.575" stop-color="#ff00bf"/><stop offset="0.600" stop-color="#ff00b7"/><stop offset="0.625" stop-color="#ff00af"/><stop offset="0.650" stop-color="#ff00a7"/><stop offset="0.675" stop-color="#ff00a0"/><stop offset="0.700" stop-color="#ff0099"/><stop offset="0.725" stop-color="#ff0093"/><stop offset="0.750" stop-color="#ff008d"/><stop offset="0.775" stop-color="#ff0087"/><stop offset="0.800" stop-color="#ff0081"/><stop offset="0.825" stop-color="#ff007c"/><stop offset="0.850" stop-color="#ff0076"/><stop offset="0.875" stop-color="#ff0071"/><stop offset="0.900" stop-color="#ff006c"/><stop offset="0.925" stop-color="#ff0067"/><stop offset="0.950" stop-color="#ff0062"/><stop offset="0.975" stop-color="#ff005d"/><stop offset="1.000" stop-color="#ff0058"/></linearGradient>
<linearGradient id="cg103" gradientUnits="userSpaceOnUse" x1="1306.3" y1="0" x2="1665.6" y2="0"><stop offset="0.000" stop-color="#0078ff"/><stop offset="0.025" stop-color="#0073ff"/><stop offset="0.050" stop-color="#006eff"/><stop offset="0.075" stop-color="#0067ff"/><stop offset="0.100" stop-color="#0061ff"/><stop offset="0.125" stop-color="#0059ff"/><stop offset="0.150" stop-color="#0050ff"/><stop offset="0.175" stop-color="#0045ff"/><stop offset="0.200" stop-color="#0037ff"/><stop offset="0.225" stop-color="#4421ff"/><stop offset="0.250" stop-color="#6b00ff"/><stop offset="0.275" stop-color="#8700ff"/><stop offset="0.300" stop-color="#9e00ff"/><stop offset="0.325" stop-color="#b200ff"/><stop offset="0.350" stop-color="#c500ff"/><stop offset="0.375" stop-color="#d600ff"/><stop offset="0.400" stop-color="#e700ff"/><stop offset="0.425" stop-color="#f700ff"/><stop offset="0.450" stop-color="#ff00f8"/><stop offset="0.475" stop-color="#ff00eb"/><stop offset="0.500" stop-color="#ff00de"/><stop offset="0.525" stop-color="#ff00d3"/><stop offset="0.550" stop-color="#ff00c9"/><stop offset="0.575" stop-color="#ff00c0"/><stop offset="0.600" stop-color="#ff00b8"/><stop offset="0.625" stop-color="#ff00b0"/><stop offset="0.650" stop-color="#ff00a8"/><stop offset="0.675" stop-color="#ff00a1"/><stop offset="0.700" stop-color="#ff009b"/><stop offset="0.725" stop-color="#ff0094"/><stop offset="0.750" stop-color="#ff008e"/><stop offset="0.775" stop-color="#ff0088"/><stop offset="0.800" stop-color="#ff0083"/><stop offset="0.825" stop-color="#ff007d"/><stop offset="0.850" stop-color="#ff0078"/><stop offset="0.875" stop-color="#ff0073"/><stop offset="0.900" stop-color="#ff006d"/><stop offset="0.925" stop-color="#ff0068"/><stop offset="0.950" stop-color="#ff0063"/><stop offset="0.975" stop-color="#ff005e"/><stop offset="1.000" stop-color="#ff0059"/></linearGradient>
<linearGradient id="cg104" gradientUnits="userSpaceOnUse" x1="1306.3" y1="0" x2="1665.6" y2="0"><stop offset="0.000" stop-color="#0073ff"/><stop offset="0.025" stop-color="#006eff"/><stop offset="0.050" stop-color="#0068ff"/><stop offset="0.075" stop-color="#0061ff"/><stop offset="0.100" stop-color="#005aff"/><stop offset="0.125" stop-color="#0051ff"/><stop offset="0.150" stop-color="#0047ff"/><stop offset="0.175" stop-color="#003aff"/><stop offset="0.200" stop-color="#0028ff"/><stop offset="0.225" stop-color="#4900ff"/><stop offset="0.250" stop-color="#6e00ff"/><stop offset="0.275" stop-color="#8900ff"/><stop offset="0.300" stop-color="#9f00ff"/><stop offset="0.325" stop-color="#b300ff"/><stop offset="0.350" stop-color="#c500ff"/><stop offset="0.375" stop-color="#d600ff"/><stop offset="0.400" stop-color="#e700ff"/><stop offset="0.425" stop-color="#f600ff"/><stop offset="0.450" stop-color="#ff00f9"/><stop offset="0.475" stop-color="#ff00eb"/><stop offset="0.500" stop-color="#ff00df"/><stop offset="0.525" stop-color="#ff00d4"/><stop offset="0.550" stop-color="#ff00ca"/><stop offset="0.575" stop-color="#ff00c1"/><stop offset="0.600" stop-color="#ff00b9"/><stop offset="0.625" stop-color="#ff00b1"/><stop offset="0.650" stop-color="#ff00a9"/><stop offset="0.675" stop-color="#ff00a2"/><stop offset="0.700" stop-color="#ff009c"/><stop offset="0.725" stop-color="#ff0095"/><stop offset="0.750" stop-color="#ff008f"/><stop offset="0.775" stop-color="#ff0089"/><stop offset="0.800" stop-color="#ff0084"/><stop offset="0.825" stop-color="#ff007e"/><stop offset="0.850" stop-color="#ff0079"/><stop offset="0.875" stop-color="#ff0074"/><stop offset="0.900" stop-color="#ff006f"/><stop offset="0.925" stop-color="#ff006a"/><stop offset="0.950" stop-color="#ff0065"/><stop offset="0.975" stop-color="#ff0060"/><stop offset="1.000" stop-color="#ff005b"/></linearGradient>
<linearGradient id="cg105" gradientUnits="userSpaceOnUse" x1="1306.3" y1="0" x2="1665.6" y2="0"><stop offset="0.000" stop-color="#006eff"/><stop offset="0.025" stop-color="#0068ff"/><stop offset="0.050" stop-color="#0062ff"/><stop offset="0.075" stop-color="#005bff"/><stop offset="0.100" stop-color="#0053ff"/><stop offset="0.125" stop-color="#0049ff"/><stop offset="0.150" stop-color="#003dff"/><stop offset="0.175" stop-color="#002dff"/><stop offset="0.200" stop-color="#000eff"/><stop offset="0.225" stop-color="#4d00ff"/><stop offset="0.250" stop-color="#7000ff"/><stop offset="0.275" stop-color="#8b00ff"/><stop offset="0.300" stop-color="#a100ff"/><stop offset="0.325" stop-color="#b400ff"/><stop offset="0.350" stop-color="#c600ff"/><stop offset="0.375" stop-color="#d700ff"/><stop offset="0.400" stop-color="#e700ff"/><stop offset="0.425" stop-color="#f600ff"/><stop offset="0.450" stop-color="#ff00f9"/><stop offset="0.475" stop-color="#ff00ec"/><stop offset="0.500" stop-color="#ff00e0"/><stop offset="0.525" stop-color="#ff00d5"/><stop offset="0.550" stop-color="#ff00cb"/><stop offset="0.575" stop-color="#ff00c2"/><stop offset="0.600" stop-color="#ff00b9"/><stop offset="0.625" stop-color="#ff00b2"/><stop offset="0.650" stop-color="#ff00aa"/><stop offset="0.675" stop-color="#ff00a3"/><stop offset="0.700" stop-color="#ff009d"/><stop offset="0.725" stop-color="#ff0096"/><stop offset="0.750" stop-color="#ff0090"/><stop offset="0.775" stop-color="#ff008b"/><stop offset="0.800" stop-color="#ff0085"/><stop offset="0.825" stop-color="#ff0080"/><stop offset="0.850" stop-color="#ff007a"/><stop offset="0.875" stop-color="#ff0075"/><stop offset="0.900" stop-color="#ff0070"/><stop offset="0.925" stop-color="#ff006b"/><stop offset="0.950" stop-color="#ff0066"/><stop offset="0.975" stop-color="#ff0061"/><stop offset="1.000" stop-color="#ff005d"/></linearGradient>
<linearGradient id="cg106" gradientUnits="userSpaceOnUse" x1="1306.3" y1="0" x2="1665.6" y2="0"><stop offset="0.000" stop-color="#0069ff"/><stop offset="0.025" stop-color="#0063ff"/><stop offset="0.050" stop-color="#005cff"/><stop offset="0.075" stop-color="#0054ff"/><stop offset="0.100" stop-color="#004bff"/><stop offset="0.125" stop-color="#0040ff"/><stop offset="0.150" stop-color="#0031ff"/><stop offset="0.175" stop-color="#001aff"/><stop offset="0.200" stop-color="#0000ff"/><stop offset="0.225" stop-color="#5100ff"/><stop offset="0.250" stop-color="#7300ff"/><stop offset="0.275" stop-color="#8c00ff"/><stop offset="0.300" stop-color="#a200ff"/><stop offset="0.325" stop-color="#b500ff"/><stop offset="0.350" stop-color="#c600ff"/><stop offset="0.375" stop-color="#d700ff"/><stop offset="0.400" stop-color="#e700ff"/><stop offset="0.425" stop-color="#f600ff"/><stop offset="0.450" stop-color="#ff00f9"/><stop offset="0.475" stop-color="#ff00ec"/><stop offset="0.500" stop-color="#ff00e0"/><stop offset="0.525" stop-color="#ff00d5"/><stop offset="0.550" stop-color="#ff00cc"/><stop offset="0.575" stop-color="#ff00c3"/><stop offset="0.600" stop-color="#ff00ba"/><stop offset="0.625" stop-color="#ff00b2"/><stop offset="0.650" stop-color="#ff00ab"/><stop offset="0.675" stop-color="#ff00a4"/><stop offset="0.700" stop-color="#ff009e"/><stop offset="0.725" stop-color="#ff0097"/><stop offset="0.750" stop-color="#ff0091"/><stop offset="0.775" stop-color="#ff008c"/><stop offset="0.800" stop-color="#ff0086"/><stop offset="0.825" stop-color="#ff0081"/><stop offset="0.850" stop-color="#ff007c"/><stop offset="0.875" stop-color="#ff0076"/><stop offset="0.900" stop-color="#ff0071"/><stop offset="0.925" stop-color="#ff006d"/><stop offset="0.950" stop-color="#ff0068"/><stop offset="0.975" stop-color="#ff0063"/><stop offset="1.000" stop-color="#ff005e"/></linearGradient>
<linearGradient id="cg107" gradientUnits="userSpaceOnUse" x1="1306.3" y1="0" x2="1665.6" y2="0"><stop offset="0.000" stop-color="#0064ff"/><stop offset="0.025" stop-color="#005dff"/><stop offset="0.050" stop-color="#0056ff"/><stop offset="0.075" stop-color="#004dff"/><stop offset="0.100" stop-color="#0043ff"/><stop offset="0.125" stop-color="#0035ff"/><stop offset="0.150" stop-color="#0021ff"/><stop offset="0.175" stop-color="#0000ff"/><stop offset="0.200" stop-color="#1600ff"/><stop offset="0.225" stop-color="#5500ff"/><stop offset="0.250" stop-color="#7500ff"/><stop offset="0.275" stop-color="#8e00ff"/><stop offset="0.300" stop-color="#a300ff"/><stop offset="0.325" stop-color="#b600ff"/><stop offset="0.350" stop-color="#c700ff"/><stop offset="0.375" stop-color="#d700ff"/><stop offset="0.400" stop-color="#e700ff"/><stop offset="0.425" stop-color="#f600ff"/><stop offset="0.450" stop-color="#ff00fa"/><stop offset="0.475" stop-color="#ff00ec"/><stop offset="0.500" stop-color="#ff00e1"/><stop offset="0.525" stop-color="#ff00d6"/><stop offset="0.550" stop-color="#ff00cc"/><stop offset="0.575" stop-color="#ff00c3"/><stop offset="0.600" stop-color="#ff00bb"/><stop offset="0.625" stop-color="#ff00b3"/><stop offset="0.650" stop-color="#ff00ac"/><stop offset="0.675" stop-color="#ff00a5"/><stop offset="0.700" stop-color="#ff009f"/><stop offset="0.725" stop-color="#ff0099"/><stop offset="0.750" stop-color="#ff0093"/><stop offset="0.775" stop-color="#ff008d"/><stop offset="0.800" stop-color="#ff0087"/><stop offset="0.825" stop-color="#ff0082"/><stop offset="0.850" stop-color="#ff007d"/><stop offset="0.875" stop-color="#ff0078"/><stop offset="0.900" stop-color="#ff0073"/><stop offset="0.925" stop-color="#ff006e"/><stop offset="0.950" stop-color="#ff0069"/><stop offset="0.975" stop-color="#ff0064"/><stop offset="1.000" stop-color="#ff0060"/></linearGradient>
<linearGradient id="cg108" gradientUnits="userSpaceOnUse" x1="1306.3" y1="0" x2="1665.6" y2="0"><stop offset="0.000" stop-color="#005eff"/><stop offset="0.025" stop-color="#0057ff"/><stop offset="0.050" stop-color="#004fff"/><stop offset="0.075" stop-color="#0045ff"/><stop offset="0.100" stop-color="#0039ff"/><stop offset="0.125" stop-color="#0027ff"/><stop offset="0.150" stop-color="#0001ff"/><stop offset="0.175" stop-color="#0000ff"/><stop offset="0.200" stop-color="#2300ff"/><stop offset="0.225" stop-color="#5900ff"/><stop offset="0.250" stop-color="#7700ff"/><stop offset="0.275" stop-color="#8f00ff"/><stop offset="0.300" stop-color="#a400ff"/><stop offset="0.325" stop-color="#b600ff"/><stop offset="0.350" stop-color="#c700ff"/><stop offset="0.375" stop-color="#d700ff"/><stop offset="0.400" stop-color="#e700ff"/><stop offset="0.425" stop-color="#f600ff"/><stop offset="0.450" stop-color="#ff00fa"/><stop offset="0.475" stop-color="#ff00ed"/><stop offset="0.500" stop-color="#ff00e1"/><stop offset="0.525" stop-color="#ff00d7"/><stop offset="0.550" stop-color="#ff00cd"/><stop offset="0.575" stop-color="#ff00c4"/><stop offset="0.600" stop-color="#ff00bc"/><stop offset="0.625" stop-color="#ff00b4"/><stop offset="0.650" stop-color="#ff00ad"/><stop offset="0.675" stop-color="#ff00a6"/><stop offset="0.700" stop-color="#ff00a0"/><stop offset="0.725" stop-color="#ff009a"/><stop offset="0.750" stop-color="#ff0094"/><stop offset="0.775" stop-color="#ff008e"/><stop offset="0.800" stop-color="#ff0088"/><stop offset="0.825" stop-color="#ff0083"/><stop offset="0.850" stop-color="#ff007e"/><stop offset="0.875" stop-color="#ff0079"/><stop offset="0.900" stop-color="#ff0074"/><stop offset="0.925" stop-color="#ff006f"/><stop offset="0.950" stop-color="#ff006b"/><stop offset="0.975" stop-color="#ff0066"/><stop offset="1.000" stop-color="#ff0061"/></linearGradient>
<linearGradient id="cg109" gradientUnits="userSpaceOnUse" x1="1306.3" y1="0" x2="1665.6" y2="0"><stop offset="0.000" stop-color="#0058ff"/><stop offset="0.025" stop-color="#0050ff"/><stop offset="0.050" stop-color="#0047ff"/><stop offset="0.075" stop-color="#003cff"/><stop offset="0.100" stop-color="#002cff"/><stop offset="0.125" stop-color="#0012ff"/><stop offset="0.150" stop-color="#0000ff"/><stop offset="0.175" stop-color="#0000ff"/><stop offset="0.200" stop-color="#2c00ff"/><stop offset="0.225" stop-color="#5c00ff"/><stop offset="0.250" stop-color="#7a00ff"/><stop offset="0.275" stop-color="#9100ff"/><stop offset="0.300" stop-color="#a500ff"/><stop offset="0.325" stop-color="#b700ff"/><stop offset="0.350" stop-color="#c800ff"/><stop offset="0.375" stop-color="#d800ff"/><stop offset="0.400" stop-color="#e700ff"/><stop offset="0.425" stop-color="#f600ff"/><stop offset="0.450" stop-color="#ff00fa"/><stop offset="0.475" stop-color="#ff00ed"/><stop offset="0.500" stop-color="#ff00e2"/><stop offset="0.525" stop-color="#ff00d7"/><stop offset="0.550" stop-color="#ff00ce"/><stop offset="0.575" stop-color="#ff00c5"/><stop offset="0.600" stop-color="#ff00bd"/><stop offset="0.625" stop-color="#ff00b5"/><stop offset="0.650" stop-color="#ff00ae"/><stop offset="0.675" stop-color="#ff00a7"/><stop offset="0.700" stop-color="#ff00a1"/><stop offset="0.725" stop-color="#ff009b"/><stop offset="0.750" stop-color="#ff0095"/><stop offset="0.775" stop-color="#ff008f"/><stop offset="0.800" stop-color="#ff008a"/><stop offset="0.825" stop-color="#ff0084"/><stop offset="0.850" stop-color="#ff007f"/><stop offset="0.875" stop-color="#ff007a"/><stop offset="0.900" stop-color="#ff0075"/><stop offset="0.925" stop-color="#ff0071"/><stop offset="0.950" stop-color="#ff006c"/><stop offset="0.975" stop-color="#ff0067"/><stop offset="1.000" stop-color="#ff0063"/></linearGradient>
<linearGradient id="cg110" gradientUnits="userSpaceOnUse" x1="1306.3" y1="0" x2="1665.6" y2="0"><stop offset="0.000" stop-color="#0051ff"/><stop offset="0.025" stop-color="#0049ff"/><stop offset="0.050" stop-color="#003eff"/><stop offset="0.075" stop-color="#0030ff"/><stop offset="0.100" stop-color="#001bff"/><stop offset="0.125" stop-color="#0000ff"/><stop offset="0.150" stop-color="#0000ff"/><stop offset="0.175" stop-color="#0000ff"/><stop offset="0.200" stop-color="#3400ff"/><stop offset="0.225" stop-color="#5f00ff"/><stop offset="0.250" stop-color="#7c00ff"/><stop offset="0.275" stop-color="#9200ff"/><stop offset="0.300" stop-color="#a600ff"/><stop offset="0.325" stop-color="#b800ff"/><stop offset="0.350" stop-color="#c800ff"/><stop offset="0.375" stop-color="#d800ff"/><stop offset="0.400" stop-color="#e700ff"/><stop offset="0.425" stop-color="#f500ff"/><stop offset="0.450" stop-color="#ff00fb"/><stop offset="0.475" stop-color="#ff00ee"/><stop offset="0.500" stop-color="#ff00e2"/><stop offset="0.525" stop-color="#ff00d8"/><stop offset="0.550" stop-color="#ff00ce"/><stop offset="0.575" stop-color="#ff00c6"/><stop offset="0.600" stop-color="#ff00be"/><stop offset="0.625" stop-color="#ff00b6"/><stop offset="0.650" stop-color="#ff00af"/><stop offset="0.675" stop-color="#ff00a8"/><stop offset="0.700" stop-color="#ff00a2"/><stop offset="0.725" stop-color="#ff009c"/><stop offset="0.750" stop-color="#ff0096"/><stop offset="0.775" stop-color="#ff0090"/><stop offset="0.800" stop-color="#ff008b"/><stop offset="0.825" stop-color="#ff0085"/><stop offset="0.850" stop-color="#ff0080"/><stop offset="0.875" stop-color="#ff007b"/><stop offset="0.900" stop-color="#ff0077"/><stop offset="0.925" stop-color="#ff0072"/><stop offset="0.950" stop-color="#ff006d"/><stop offset="0.975" stop-color="#ff0069"/><stop offset="1.000" stop-color="#ff0064"/></linearGradient>
<linearGradient id="cg111" gradientUnits="userSpaceOnUse" x1="1306.3" y1="0" x2="1665.6" y2="0"><stop offset="0.000" stop-color="#004aff"/><stop offset="0.025" stop-color="#0041ff"/><stop offset="0.050" stop-color="#0034ff"/><stop offset="0.075" stop-color="#0022ff"/><stop offset="0.100" stop-color="#0000ff"/><stop offset="0.125" stop-color="#0000ff"/><stop offset="0.150" stop-color="#0000ff"/><stop offset="0.175" stop-color="#0000ff"/><stop offset="0.200" stop-color="#3a00ff"/><stop offset="0.225" stop-color="#6200ff"/><stop offset="0.250" stop-color="#7d00ff"/><stop offset="0.275" stop-color="#9400ff"/><stop offset="0.300" stop-color="#a700ff"/><stop offset="0.325" stop-color="#b800ff"/><stop offset="0.350" stop-color="#c900ff"/><stop offset="0.375" stop-color="#d800ff"/><stop offset="0.400" stop-color="#e700ff"/><stop offset="0.425" stop-color="#f500ff"/><stop offset="0.450" stop-color="#ff00fb"/><stop offset="0.475" stop-color="#ff00ee"/><stop offset="0.500" stop-color="#ff00e3"/><stop offset="0.525" stop-color="#ff00d9"/><stop offset="0.550" stop-color="#ff00cf"/><stop offset="0.575" stop-color="#ff00c6"/><stop offset="0.600" stop-color="#ff00be"/><stop offset="0.625" stop-color="#ff00b7"/><stop offset="0.650" stop-color="#ff00b0"/><stop offset="0.675" stop-color="#ff00a9"/><stop offset="0.700" stop-color="#ff00a3"/><stop offset="0.725" stop-color="#ff009d"/><stop offset="0.750" stop-color="#ff0097"/><stop offset="0.775" stop-color="#ff0091"/><stop offset="0.800" stop-color="#ff008c"/><stop offset="0.825" stop-color="#ff0087"/><stop offset="0.850" stop-color="#ff0081"/><stop offset="0.875" stop-color="#ff007d"/><stop offset="0.900" stop-color="#ff0078"/><stop offset="0.925" stop-color="#ff0073"/><stop offset="0.950" stop-color="#ff006e"/><stop offset="0.975" stop-color="#ff006a"/><stop offset="1.000" stop-color="#ff0065"/></linearGradient>
<linearGradient id="cg112" gradientUnits="userSpaceOnUse" x1="1306.3" y1="0" x2="1665.6" y2="0"><stop offset="0.000" stop-color="#0043ff"/><stop offset="0.025" stop-color="#0037ff"/><stop offset="0.050" stop-color="#0027ff"/><stop offset="0.075" stop-color="#0007ff"/><stop offset="0.100" stop-color="#0000ff"/><stop offset="0.125" stop-color="#0000ff"/><stop offset="0.150" stop-color="#0000ff"/><stop offset="0.175" stop-color="#0000ff"/><stop offset="0.200" stop-color="#4000ff"/><stop offset="0.225" stop-color="#6500ff"/><stop offset="0.250" stop-color="#7f00ff"/><stop offset="0.275" stop-color="#9500ff"/><stop offset="0.300" stop-color="#a800ff"/><stop offset="0.325" stop-color="#b900ff"/><stop offset="0.350" stop-color="#c900ff"/><stop offset="0.375" stop-color="#d800ff"/><stop offset="0.400" stop-color="#e700ff"/><stop offset="0.425" stop-color="#f500ff"/><stop offset="0.450" stop-color="#ff00fb"/><stop offset="0.475" stop-color="#ff00ef"/><stop offset="0.500" stop-color="#ff00e3"/><stop offset="0.525" stop-color="#ff00d9"/><stop offset="0.550" stop-color="#ff00d0"/><stop offset="0.575" stop-color="#ff00c7"/><stop offset="0.600" stop-color="#ff00bf"/><stop offset="0.625" stop-color="#ff00b8"/><stop offset="0.650" stop-color="#ff00b1"/><stop offset="0.675" stop-color="#ff00aa"/><stop offset="0.700" stop-color="#ff00a3"/><stop offset="0.725" stop-color="#ff009d"/><stop offset="0.750" stop-color="#ff0098"/><stop offset="0.775" stop-color="#ff0092"/><stop offset="0.800" stop-color="#ff008d"/><stop offset="0.825" stop-color="#ff0088"/><stop offset="0.850" stop-color="#ff0083"/><stop offset="0.875" stop-color="#ff007e"/><stop offset="0.900" stop-color="#ff0079"/><stop offset="0.925" stop-color="#ff0074"/><stop offset="0.950" stop-color="#ff0070"/><stop offset="0.975" stop-color="#ff006b"/><stop offset="1.000" stop-color="#ff0067"/></linearGradient>
<linearGradient id="cg113" gradientUnits="userSpaceOnUse" x1="1306.3" y1="0" x2="1665.6" y2="0"><stop offset="0.000" stop-color="#003aff"/><stop offset="0.025" stop-color="#002cff"/><stop offset="0.050" stop-color="#0014ff"/><stop offset="0.075" stop-color="#0000ff"/><stop offset="0.100" stop-color="#0000ff"/><stop offset="0.125" stop-color="#0000ff"/><stop offset="0.150" stop-color="#0000ff"/><stop offset="0.175" stop-color="#0000ff"/><stop offset="0.200" stop-color="#4400ff"/><stop offset="0.225" stop-color="#6800ff"/><stop offset="0.250" stop-color="#8100ff"/><stop offset="0.275" stop-color="#9600ff"/><stop offset="0.300" stop-color="#a900ff"/><stop offset="0.325" stop-color="#ba00ff"/><stop offset="0.350" stop-color="#ca00ff"/><stop offset="0.375" stop-color="#d900ff"/><stop offset="0.400" stop-color="#e700ff"/><stop offset="0.425" stop-color="#f500ff"/><stop offset="0.450" stop-color="#ff00fb"/><stop offset="0.475" stop-color="#ff00ef"/><stop offset="0.500" stop-color="#ff00e4"/><stop offset="0.525" stop-color="#ff00da"/><stop offset="0.550" stop-color="#ff00d0"/><stop offset="0.575" stop-color="#ff00c8"/><stop offset="0.600" stop-color="#ff00c0"/><stop offset="0.625" stop-color="#ff00b8"/><stop offset="0.650" stop-color="#ff00b1"/><stop offset="0.675" stop-color="#ff00ab"/><stop offset="0.700" stop-color="#ff00a4"/><stop offset="0.725" stop-color="#ff009e"/><stop offset="0.750" stop-color="#ff0099"/><stop offset="0.775" stop-color="#ff0093"/><stop offset="0.800" stop-color="#ff008e"/><stop offset="0.825" stop-color="#ff0089"/><stop offset="0.850" stop-color="#ff0084"/><stop offset="0.875" stop-color="#ff007f"/><stop offset="0.900" stop-color="#ff007a"/><stop offset="0.925" stop-color="#ff0075"/><stop offset="0.950" stop-color="#ff0071"/><stop offset="0.975" stop-color="#ff006c"/><stop offset="1.000" stop-color="#ff0068"/></linearGradient>
</defs>
<rect width="1716" height="1601" fill="#fff"/>
<text x="6" y="35" font-size="48" text-anchor="start" fill="#000">a</text>
<text x="882" y="35" font-size="48" text-anchor="start" fill="#000">b</text>
<text x="9.5" y="604.5" font-size="48" text-anchor="start" fill="#000">c</text>
<text x="883" y="607.5" font-size="48" text-anchor="start" fill="#000">d</text>
<text x="5.5" y="1122.5" font-size="48" text-anchor="start" fill="#000">e</text>
<text x="623.5" y="1122" font-size="48" text-anchor="start" fill="#000">f</text>
<text x="1176" y="1122" font-size="48" text-anchor="start" fill="#000">g</text>
<g transform="scale(0.26860)">
<rect x="18.6" y="314" width="1244" height="1241" fill="#e6d3cd"/>
<rect x="18.6" y="314" width="1244" height="1241" fill="url(#photoAgrad)"/>
<rect x="18.6" y="314" width="1244" height="1241" fill="url(#vigA)"/>
<rect x="135" y="393" width="120" height="119" rx="18" fill="#d87868" stroke="#7a5048" stroke-width="4"/>
<rect x="150" y="405" width="90" height="89" rx="18" fill="#e59282" opacity="0.5" filter="url(#bl4)"/>
<rect x="448" y="400" width="117" height="118" rx="18" fill="#d87868" stroke="#7a5048" stroke-width="4"/>
<rect x="463" y="412" width="87" height="88" rx="18" fill="#e59282" opacity="0.5" filter="url(#bl4)"/>
<rect x="745" y="400" width="105" height="120" rx="18" fill="#d87868" stroke="#7a5048" stroke-width="4"/>
<rect x="760" y="412" width="75" height="90" rx="18" fill="#e59282" opacity="0.5" filter="url(#bl4)"/>
<rect x="1055" y="400" width="105" height="120" rx="18" fill="#d87868" stroke="#7a5048" stroke-width="4"/>
<rect x="1070" y="412" width="75" height="90" rx="18" fill="#e59282" opacity="0.5" filter="url(#bl4)"/>
<rect x="130" y="695" width="125" height="120" rx="18" fill="#d87868" stroke="#7a5048" stroke-width="4"/>
<rect x="145" y="707" width="95" height="90" rx="18" fill="#e59282" opacity="0.5" filter="url(#bl4)"/>
<rect x="450" y="697" width="115" height="118" rx="18" fill="#d87868" stroke="#7a5048" stroke-width="4"/>
<rect x="465" y="709" width="85" height="88" rx="18" fill="#e59282" opacity="0.5" filter="url(#bl4)"/>
<rect x="745" y="700" width="105" height="120" rx="18" fill="#d87868" stroke="#7a5048" stroke-width="4"/>
<rect x="760" y="712" width="75" height="90" rx="18" fill="#e59282" opacity="0.5" filter="url(#bl4)"/>
<rect x="1055" y="700" width="105" height="120" rx="18" fill="#d87868" stroke="#7a5048" stroke-width="4"/>
<rect x="1070" y="712" width="75" height="90" rx="18" fill="#e59282" opacity="0.5" filter="url(#bl4)"/>
<rect x="130" y="1003" width="120" height="122" rx="18" fill="#d87868" stroke="#7a5048" stroke-width="4"/>
<rect x="145" y="1015" width="90" height="92" rx="18" fill="#e59282" opacity="0.5" filter="url(#bl4)"/>
<rect x="440" y="1000" width="118" height="122" rx="18" fill="#d87868" stroke="#7a5048" stroke-width="4"/>
<rect x="455" y="1012" width="88" height="92" rx="18" fill="#e59282" opacity="0.5" filter="url(#bl4)"/>
<rect x="735" y="1005" width="120" height="120" rx="18" fill="#d87868" stroke="#7a5048" stroke-width="4"/>
<rect x="750" y="1017" width="90" height="90" rx="18" fill="#e59282" opacity="0.5" filter="url(#bl4)"/>
<rect x="1065" y="1005" width="120" height="123" rx="18" fill="#d87868" stroke="#7a5048" stroke-width="4"/>
<rect x="1080" y="1017" width="90" height="93" rx="18" fill="#e59282" opacity="0.5" filter="url(#bl4)"/>
<rect x="125" y="1315" width="120" height="120" rx="18" fill="#d87868" stroke="#7a5048" stroke-width="4"/>
<rect x="140" y="1327" width="90" height="90" rx="18" fill="#e59282" opacity="0.5" filter="url(#bl4)"/>
<rect x="435" y="1313" width="118" height="120" rx="18" fill="#d87868" stroke="#7a5048" stroke-width="4"/>
<rect x="450" y="1325" width="88" height="90" rx="18" fill="#e59282" opacity="0.5" filter="url(#bl4)"/>
<rect x="727" y="1315" width="118" height="120" rx="18" fill="#d87868" stroke="#7a5048" stroke-width="4"/>
<rect x="742" y="1327" width="88" height="90" rx="18" fill="#e59282" opacity="0.5" filter="url(#bl4)"/>
<rect x="1060" y="1315" width="120" height="120" rx="18" fill="#d87868" stroke="#7a5048" stroke-width="4"/>
<rect x="1075" y="1327" width="90" height="90" rx="18" fill="#e59282" opacity="0.5" filter="url(#bl4)"/>
<rect x="963" y="1455" width="240" height="22" fill="#000"/>
</g>
<rect x="173.5" y="38.5" width="178" height="178.5" fill="#c39f9b"/>
<rect x="173.5" y="38.5" width="178" height="178.5" fill="url(#insAg)"/>
<rect x="214" y="78" width="96" height="96" rx="12" fill="#f06a60" opacity="0.55" filter="url(#bl8)"/>
<rect x="218.5" y="82.4" width="87.3" height="87.8" rx="10" fill="#f8705f"/>
<rect x="224" y="88" width="76" height="76" rx="8" fill="#fa8a78" opacity="0.5" filter="url(#bl4)"/>
<rect x="242.2" y="187" width="87.8" height="6.1" fill="#000"/>
<rect x="175" y="40" width="175" height="175.5" fill="none" stroke="#000" stroke-width="3"/>
<rect x="439.3" y="62.6" width="366.1" height="359.4" fill="none" stroke="#000" stroke-width="1.5"/>
<line x1="472.5" y1="422" x2="472.5" y2="415" stroke="#000" stroke-width="1.5"/>
<line x1="539" y1="422" x2="539" y2="415" stroke="#000" stroke-width="1.5"/>
<line x1="605.4" y1="422" x2="605.4" y2="415" stroke="#000" stroke-width="1.5"/>
<line x1="671.9" y1="422" x2="671.9" y2="415" stroke="#000" stroke-width="1.5"/>
<line x1="738.3" y1="422" x2="738.3" y2="415" stroke="#000" stroke-width="1.5"/>
<text x="473" y="466.5" font-size="35.4" text-anchor="middle" fill="#000">300</text>
<text x="605.9" y="466.5" font-size="35.4" text-anchor="middle" fill="#000">500</text>
<text x="738.8" y="466.5" font-size="35.4" text-anchor="middle" fill="#000">700</text>
<text x="639.6" y="524.4" font-size="35.7" text-anchor="middle" fill="#000">Wavelength (nm)</text>
<text x="416.3" y="244.5" font-size="35.7" text-anchor="middle" fill="#000" transform="rotate(-90 416.3 244.5)">Absorbance (a.u)</text>
<text x="824.3" y="239.1" font-size="35.7" text-anchor="middle" fill="#000" transform="rotate(90 824.3 239.1)">PL (a.u)</text>
<path d="M439.6 99.3 C440.2 99.6 441.8 100 443.1 101.2 C444.5 102.4 446.4 103.8 447.7 106.2 C449 108.6 450 111.2 451.2 115.5 C452.4 119.8 453.5 125.9 454.7 131.7 C455.9 137.5 457 144 458.1 150.2 C459.2 156.4 460.4 162.5 461.6 168.7 C462.8 174.9 463.8 181.2 465.1 187.2 C466.5 193.2 467.8 198.7 469.7 204.5 C471.6 210.3 474.3 217.4 476.6 221.8 C478.9 226.2 480.9 228.6 483.6 231.1 C486.3 233.6 490.1 235.4 492.8 236.9 C495.5 238.4 497 238.8 499.7 239.9 C502.4 241 505.7 242.5 509 243.4 C512.3 244.3 517.5 244.4 519.4 245.2 C521.3 246 517.3 247 520.6 248.2 C523.9 249.4 532.9 251.1 539 252.4 C545.1 253.7 551.7 255.2 557.5 256.1 C563.3 257 569.1 257.2 573.7 257.9 C578.3 258.6 581.8 259.2 585.3 260.2 C588.8 261.2 592 262.2 594.5 264 C597 265.8 598.4 267.8 600.3 271 C602.2 274.2 604 278.7 606.1 283.1 C608.2 287.5 610.8 293.3 613 297.5 C615.2 301.7 616.8 304.2 619.2 308.4 C621.6 312.5 625 317.9 627.3 322.4 C629.6 326.8 631.2 331 633.1 335.1 C635 339.2 637 344.2 638.9 347 C640.8 349.8 642.8 351.1 644.7 351.8 C646.6 352.5 648.8 350.8 650.5 351.3 C652.2 351.8 653.4 353.1 655.1 354.8 C656.8 356.5 659 359.9 660.9 361.7 C662.8 363.5 664.9 365.4 666.6 365.4 C668.3 365.4 669.5 363.7 671.3 361.7 C673 359.7 675.4 355.2 677.1 353.6 C678.8 352 680.2 351 681.7 351.8 C683.2 352.6 684.6 354.5 686.3 358.3 C688 362.1 690.2 369.1 692.1 374.5 C694 379.9 695.8 386.2 697.9 390.6 C700 395 702.5 398.8 704.8 401 C707.1 403.2 708.2 403.4 711.7 404 C715.2 404.6 710 404.4 725.6 404.6 C741.2 404.8 792.1 405.1 805.4 405.2" fill="none" stroke="#000" stroke-width="2.3" stroke-linejoin="round"/>
<path d="M525.2 407.2 L616.2 407 L638.7 406.7 L652.7 406.2 L658.7 405.6 L660.7 405.2 L662.7 404.4 L665.2 402.6 L666.7 400.7 L667.7 399 L669.2 395.4 L670.2 392.3 L671.7 386 L672.7 380.6 L675.2 361.7 L677.2 340 L678.7 319.6 L680.7 286.7 L687.2 156.7 L689.2 122.2 L690.7 102.6 L691.7 93.4 L692.7 87.7 L693.2 86.3 L693.7 85.8 L694.2 86.3 L694.7 87.6 L695.7 92.9 L696.7 101.6 L698.2 120 L700.7 161.4 L706.7 275.7 L708.7 308 L710.7 334.8 L712.2 351.1 L714.2 368.1 L716.2 380.4 L718.7 390.6 L719.7 393.4 L721.2 396.6 L723.7 400.1 L725.2 401.4 L726.7 402.3 L728.7 403.2 L731.2 403.9 L739.2 405 L751.7 405.9 L768.7 406.4 L792.7 406.8" fill="none" stroke="#ff0000" stroke-width="2.6" stroke-linejoin="round" stroke-linecap="round"/>
<line x1="552.9" y1="288.9" x2="512" y2="288.9" stroke="#000" stroke-width="4.5"/>
<path d="M492.8 288.9 L516 280.8 L516 297 Z" fill="#000"/>
<line x1="712.9" y1="244.5" x2="757" y2="244.5" stroke="#ff0000" stroke-width="4.5"/>
<path d="M777 244.5 L753.4 236.9 L753.4 252.2 Z" fill="#ff0000"/>
<g transform="translate(860 0) scale(0.26860)">
<rect x="75" y="314" width="1241" height="1241" fill="#e3c7c4"/>
<rect x="75" y="314" width="1241" height="1241" fill="url(#photoBgrad)"/>
<rect x="75" y="314" width="1241" height="1241" fill="url(#vigA)"/>
<rect x="241" y="421" width="108" height="108" rx="16" fill="#b08a88" opacity="0.5" filter="url(#bl8)"/>
<rect x="245" y="415" width="100" height="100" rx="16" fill="#e4bd8e" stroke="#7d7242" stroke-width="6"/>
<rect x="539" y="434" width="102" height="105" rx="16" fill="#b08a88" opacity="0.5" filter="url(#bl8)"/>
<rect x="543" y="428" width="94" height="97" rx="16" fill="#e4bd8e" stroke="#7d7242" stroke-width="6"/>
<rect x="826" y="426" width="103" height="108" rx="16" fill="#b08a88" opacity="0.5" filter="url(#bl8)"/>
<rect x="830" y="420" width="95" height="100" rx="16" fill="#e4bd8e" stroke="#7d7242" stroke-width="6"/>
<rect x="1111" y="426" width="103" height="108" rx="16" fill="#b08a88" opacity="0.5" filter="url(#bl8)"/>
<rect x="1115" y="420" width="95" height="100" rx="16" fill="#e4bd8e" stroke="#7d7242" stroke-width="6"/>
<rect x="236" y="716" width="110" height="103" rx="16" fill="#b08a88" opacity="0.5" filter="url(#bl8)"/>
<rect x="240" y="710" width="102" height="95" rx="16" fill="#e4bd8e" stroke="#7d7242" stroke-width="6"/>
<rect x="536" y="719" width="105" height="103" rx="16" fill="#b08a88" opacity="0.5" filter="url(#bl8)"/>
<rect x="540" y="713" width="97" height="95" rx="16" fill="#e4bd8e" stroke="#7d7242" stroke-width="6"/>
<rect x="826" y="718" width="103" height="114" rx="16" fill="#b08a88" opacity="0.5" filter="url(#bl8)"/>
<rect x="830" y="712" width="95" height="106" rx="16" fill="#e4bd8e" stroke="#7d7242" stroke-width="6"/>
<rect x="1111" y="718" width="103" height="114" rx="16" fill="#b08a88" opacity="0.5" filter="url(#bl8)"/>
<rect x="1115" y="712" width="95" height="106" rx="16" fill="#e4bd8e" stroke="#7d7242" stroke-width="6"/>
<rect x="224" y="1009" width="112" height="108" rx="16" fill="#b08a88" opacity="0.5" filter="url(#bl8)"/>
<rect x="228" y="1003" width="104" height="100" rx="16" fill="#e4bd8e" stroke="#7d7242" stroke-width="6"/>
<rect x="526" y="1006" width="110" height="108" rx="16" fill="#b08a88" opacity="0.5" filter="url(#bl8)"/>
<rect x="530" y="1000" width="102" height="100" rx="16" fill="#e4bd8e" stroke="#7d7242" stroke-width="6"/>
<rect x="822" y="1006" width="103" height="105" rx="16" fill="#b08a88" opacity="0.5" filter="url(#bl8)"/>
<rect x="826" y="1000" width="95" height="97" rx="16" fill="#e4bd8e" stroke="#7d7242" stroke-width="6"/>
<rect x="1108" y="1006" width="104" height="103" rx="16" fill="#b08a88" opacity="0.5" filter="url(#bl8)"/>
<rect x="1112" y="1000" width="96" height="95" rx="16" fill="#e4bd8e" stroke="#7d7242" stroke-width="6"/>
<rect x="209" y="1316" width="113" height="110" rx="16" fill="#b08a88" opacity="0.5" filter="url(#bl8)"/>
<rect x="213" y="1310" width="105" height="102" rx="16" fill="#e4bd8e" stroke="#7d7242" stroke-width="6"/>
<rect x="519" y="1309" width="110" height="110" rx="16" fill="#b08a88" opacity="0.5" filter="url(#bl8)"/>
<rect x="523" y="1303" width="102" height="102" rx="16" fill="#e4bd8e" stroke="#7d7242" stroke-width="6"/>
<rect x="821" y="1306" width="105" height="108" rx="16" fill="#b08a88" opacity="0.5" filter="url(#bl8)"/>
<rect x="825" y="1300" width="97" height="100" rx="16" fill="#e4bd8e" stroke="#7d7242" stroke-width="6"/>
<rect x="1116" y="1306" width="108" height="108" rx="16" fill="#b08a88" opacity="0.5" filter="url(#bl8)"/>
<rect x="1120" y="1300" width="100" height="100" rx="16" fill="#e4bd8e" stroke="#7d7242" stroke-width="6"/>
<rect x="1010" y="1455" width="208" height="22" fill="#000"/>
</g>
<rect x="1049.5" y="38.6" width="179" height="179" fill="url(#insBg)"/>
<rect x="1090" y="78" width="100" height="100" rx="14" fill="#c8d080" opacity="0.45" filter="url(#bl15)"/>
<rect x="1100.3" y="87.6" width="80.5" height="82" rx="11" fill="#9ddd98" stroke="#4ccc6c" stroke-width="3"/>
<rect x="1119.8" y="187.2" width="87.2" height="5.6" fill="#000"/>
<rect x="1051" y="40" width="176" height="176" fill="none" stroke="#000" stroke-width="3"/>
<rect x="1304.6" y="61.9" width="366" height="359.1" fill="none" stroke="#000" stroke-width="1.5"/>
<line x1="1337.9" y1="421" x2="1337.9" y2="414" stroke="#000" stroke-width="1.5"/>
<line x1="1404.4" y1="421" x2="1404.4" y2="414" stroke="#000" stroke-width="1.5"/>
<line x1="1471" y1="421" x2="1471" y2="414" stroke="#000" stroke-width="1.5"/>
<line x1="1537.5" y1="421" x2="1537.5" y2="414" stroke="#000" stroke-width="1.5"/>
<line x1="1604.1" y1="421" x2="1604.1" y2="414" stroke="#000" stroke-width="1.5"/>
<text x="1338.2" y="466.9" font-size="35.4" text-anchor="middle" fill="#000">300</text>
<text x="1471.3" y="466.9" font-size="35.4" text-anchor="middle" fill="#000">500</text>
<text x="1604.4" y="466.9" font-size="35.4" text-anchor="middle" fill="#000">700</text>
<text x="1506" y="525.3" font-size="35.7" text-anchor="middle" fill="#000">Wavelength (nm)</text>
<text x="1282.5" y="244.5" font-size="35.7" text-anchor="middle" fill="#000" transform="rotate(-90 1282.5 244.5)">Absorbance (a.u)</text>
<text x="1689.5" y="240.9" font-size="35.7" text-anchor="middle" fill="#000" transform="rotate(90 1689.5 240.9)">PL (a.u)</text>
<path d="M1304.6 80.8 C1305.6 81.6 1308.5 83.3 1310.4 85.4 C1312.3 87.5 1314.3 89.6 1316.2 93.5 C1318.1 97.4 1320.1 102.6 1322 108.6 C1323.9 114.6 1325.6 122.9 1327.7 129.4 C1329.8 136 1332 141.7 1334.7 147.9 C1337.4 154.1 1340.4 161.2 1343.9 166.4 C1347.4 171.6 1351.6 175.9 1355.5 179.1 C1359.4 182.3 1362.9 183.9 1367.1 185.5 C1371.3 187.1 1377.6 187.7 1380.9 188.8 C1384.2 189.9 1384.8 191.2 1386.7 192.3 C1388.6 193.4 1390.8 193.3 1392.5 195.3 C1394.2 197.3 1395.4 201.4 1397.1 204.5 C1398.8 207.6 1401.2 208.6 1402.9 213.8 C1404.6 219 1405.8 227.4 1407.5 235.7 C1409.2 244 1411.2 255 1413.3 263.5 C1415.4 272 1417.9 279.3 1420.2 286.6 C1422.5 293.9 1424.5 302 1427.2 307.4 C1429.9 312.8 1433.9 315.1 1436.4 319 C1438.9 322.9 1440.3 325.5 1442.2 330.5 C1444.1 335.5 1446.1 344.1 1448 349 C1449.9 353.9 1452.1 358 1453.8 360.1 C1455.5 362.2 1456.7 362.1 1458.4 361.5 C1460.1 360.9 1462.1 357.9 1464.2 356.5 C1466.3 355.1 1469 352.6 1471.1 352.8 C1473.2 353 1475.2 355.3 1477 357.5 C1478.8 359.7 1480 362 1482 366 C1484 370 1486.6 377.1 1488.9 381.5 C1491.2 385.9 1493.1 390 1495.8 392.5 C1498.5 395 1498.8 395.2 1505 396.4 C1511.2 397.6 1520.5 398.9 1532.8 399.9 C1545.1 400.9 1565.5 401.5 1579 402.2 C1592.5 402.9 1598.5 403.6 1613.7 404.3 C1628.9 405 1661 405.8 1670.4 406.1" fill="none" stroke="#000" stroke-width="2.3" stroke-linejoin="round"/>
<path d="M1390.2 401.5 L1452.7 401.5 L1460.2 401.2 L1463.2 400.5 L1465.7 398.9 L1467.7 396.4 L1469.7 391.7 L1471.7 383.9 L1473.2 375.1 L1475.2 358.5 L1476.7 341.5 L1478.2 320.5 L1480.2 286.3 L1485.7 173.6 L1487.7 138.2 L1489.7 113.8 L1490.7 107 L1491.2 105 L1491.7 104.1 L1492.2 104.2 L1492.7 105.2 L1493.7 109.9 L1494.7 118.1 L1496.2 136 L1498.2 168.1 L1504.7 289.2 L1506.7 319.7 L1508.7 344.2 L1510.7 362.8 L1512.7 376.1 L1513.7 381 L1515.2 386.8 L1516.2 389.7 L1517.7 392.9 L1518.7 394.5 L1520.2 396.3 L1521.7 397.4 L1523.7 398.4 L1528.2 399.5 L1535.7 400.1 L1550.7 400.7 L1572.2 401.1 L1657.7 401.4" fill="none" stroke="#00ee00" stroke-width="2.6" stroke-linejoin="round" stroke-linecap="round"/>
<line x1="1399.4" y1="288.9" x2="1366" y2="288.9" stroke="#000" stroke-width="4.5"/>
<path d="M1347.4 288.9 L1370.5 280.8 L1370.5 297 Z" fill="#000"/>
<line x1="1524" y1="243.8" x2="1598" y2="243.8" stroke="#00ee00" stroke-width="4.5"/>
<path d="M1617.2 243.8 L1594.1 236.2 L1594.1 251.6 Z" fill="#00ee00"/>
<rect x="78.6" y="620.6" width="743.5" height="351.6" fill="none" stroke="#000" stroke-width="1.5"/>
<line x1="146.2" y1="972.2" x2="146.2" y2="964.7" stroke="#000" stroke-width="1.5"/>
<text x="146.2" y="1013.2" font-size="35.4" text-anchor="middle" fill="#000">300</text>
<line x1="281.5" y1="972.2" x2="281.5" y2="964.7" stroke="#000" stroke-width="1.5"/>
<text x="281.5" y="1013.2" font-size="35.4" text-anchor="middle" fill="#000">400</text>
<line x1="416.8" y1="972.2" x2="416.8" y2="964.7" stroke="#000" stroke-width="1.5"/>
<text x="416.8" y="1013.2" font-size="35.4" text-anchor="middle" fill="#000">500</text>
<line x1="552" y1="972.2" x2="552" y2="964.7" stroke="#000" stroke-width="1.5"/>
<text x="552" y="1013.2" font-size="35.4" text-anchor="middle" fill="#000">600</text>
<line x1="687.3" y1="972.2" x2="687.3" y2="964.7" stroke="#000" stroke-width="1.5"/>
<text x="687.3" y="1013.2" font-size="35.4" text-anchor="middle" fill="#000">700</text>
<line x1="822.6" y1="972.2" x2="822.6" y2="964.7" stroke="#000" stroke-width="1.5"/>
<text x="821.1" y="1013.2" font-size="35.4" text-anchor="middle" fill="#000">800</text>
<line x1="213.9" y1="972.2" x2="213.9" y2="968.2" stroke="#000" stroke-width="1.5"/>
<line x1="349.1" y1="972.2" x2="349.1" y2="968.2" stroke="#000" stroke-width="1.5"/>
<line x1="484.4" y1="972.2" x2="484.4" y2="968.2" stroke="#000" stroke-width="1.5"/>
<line x1="619.7" y1="972.2" x2="619.7" y2="968.2" stroke="#000" stroke-width="1.5"/>
<line x1="755" y1="972.2" x2="755" y2="968.2" stroke="#000" stroke-width="1.5"/>
<text x="435.3" y="1062.8" font-size="35.7" text-anchor="middle" fill="#000">Wavelength (nm)</text>
<text x="56.3" y="796.9" font-size="35.7" text-anchor="middle" fill="#000" transform="rotate(-90 56.3 796.9)">EL Intensity (a.u)</text>
<path d="M254.3 932.8 L294.8 932.6 L301.8 932.1 L306.8 931 L309.3 929.9 L311.8 928.4 L313.8 926.7 L315.8 924.5 L317.8 921.6 L319.8 918 L323.3 909.6 L325.8 901.7 L327.8 894.4 L332.3 874.2 L336.8 849.5 L339.8 828.1 L341.8 808.6 L343.8 782.3 L349.8 678.7 L351.3 663.4 L351.8 660.8 L352.3 659.5 L352.8 659.7 L353.8 663.7 L355.3 678.2 L360.3 759.6 L362.8 793.5 L365.3 816.9 L368.3 835.9 L372.3 855.5 L377.3 877.1 L381.3 892 L384.8 902.9 L388.3 911.7 L392.3 919.2 L394.3 922.1 L396.8 924.9 L398.8 926.7 L401.3 928.5 L404.8 930.2 L408.3 931.2 L412.8 932 L418.3 932.4 L433.3 932.6 L488.8 932.5 L526.8 932.1 L545.8 931.5 L551.3 930.9 L555.3 930.2 L558.8 929.1 L561.8 927.6 L563.8 926.2 L565.8 924.5 L567.8 922.2 L569.8 919.4 L573.3 913 L576.8 904.2 L579.8 894.6 L583.3 881.3 L593.3 836.2 L596.8 822.3 L598.8 815.8 L600.8 810.9 L602.8 807.7 L603.8 806.9 L604.8 806.5 L605.8 806.7 L606.8 807.3 L608.8 809.9 L610.8 814.1 L612.8 819.9 L616.8 834.6 L627.8 880.8 L631.3 893.2 L634.3 902.2 L637.8 910.6 L641.3 916.9 L643.3 919.8 L645.3 922.1 L649.3 925.5 L653.8 927.9 L659.3 929.5 L665.8 930.4 L675.8 931.1 L692.8 931.7 L716.8 932.1 L794.8 932.6" fill="none" stroke="#f0c262" stroke-width="3.3" stroke-linejoin="round" stroke-linecap="round"/>
<path d="M254.3 932.8 L294.8 932.6 L301.8 932.3 L306.8 931.4 L309.3 930.7 L311.8 929.6 L313.8 928.3 L315.8 926.7 L317.8 924.6 L319.8 922 L323.3 915.9 L325.8 910.2 L327.8 904.9 L332.3 890.3 L336.8 872.3 L339.8 856.8 L341.8 842.6 L343.8 823.6 L349.8 748.4 L351.3 737.3 L351.8 735.4 L352.3 734.5 L352.8 734.6 L353.8 737.5 L355.3 748 L360.3 807.1 L362.8 831.7 L365.3 848.7 L368.3 862.5 L372.3 876.7 L377.3 892.3 L381.3 903.2 L384.8 911.1 L388.3 917.4 L392.3 922.9 L394.3 924.9 L396.8 927 L401.3 929.6 L404.8 930.8 L409.3 931.8 L414.3 932.3 L421.3 932.5 L482.3 932.4 L526.8 931.9 L541.8 931.3 L550.3 930.5 L553.3 929.8 L556.3 928.8 L558.8 927.6 L561.3 925.9 L563.3 924.1 L565.3 921.8 L567.3 918.9 L569.3 915.2 L572.8 906.7 L575.8 897 L578.8 884.9 L582.3 867.9 L592.8 806.6 L596.3 788.5 L598.3 780.2 L600.3 773.9 L602.3 769.9 L603.3 768.9 L604.3 768.5 L605.3 768.7 L606.3 769.6 L608.3 773.1 L610.3 778.8 L612.3 786.3 L616.3 805.5 L627.3 865.7 L630.8 881.7 L633.8 893.3 L637.3 904.2 L640.8 912.4 L642.8 916 L644.8 919 L646.8 921.4 L648.8 923.4 L650.8 924.9 L653.3 926.4 L655.8 927.5 L658.8 928.5 L665.3 929.7 L675.3 930.6 L692.8 931.4 L716.8 931.9 L794.8 932.5" fill="none" stroke="#f9806f" stroke-width="3.3" stroke-linejoin="round" stroke-linecap="round"/>
<path d="M254.3 932.7 L294.8 932.7 L306.8 932.1 L311.8 931.3 L315.8 930 L319.8 927.9 L323.3 925.1 L327.8 920.2 L332.3 913.6 L336.8 905.5 L339.8 898.5 L341.8 892.1 L343.8 883.5 L349.8 849.7 L351.3 844.7 L352.3 843.4 L352.8 843.5 L353.3 843.9 L354.8 847.6 L356.3 854.1 L359.8 873.5 L361.8 883.2 L364.3 892.1 L366.8 898.2 L369.3 902.8 L373.3 908.9 L377.3 914.5 L381.3 919.4 L384.8 922.9 L387.8 925.4 L391.3 927.7 L394.8 929.4 L398.8 930.7 L403.3 931.6 L408.3 932.1 L414.8 932.4 L443.8 932.5 L500.3 932.2 L528.3 931.7 L544.3 930.9 L548.8 930.5 L552.8 929.7 L555.8 928.8 L558.8 927.5 L561.8 925.4 L564.3 922.9 L566.8 919.5 L568.8 915.9 L570.8 911.4 L572.8 905.9 L574.8 899.3 L576.8 891.5 L580.3 874.6 L583.8 853.8 L594.3 778.5 L598.3 753.4 L600.3 743.6 L602.3 736.4 L603.3 733.9 L604.3 732.2 L605.3 731.2 L605.8 731 L606.8 731.2 L607.8 732.2 L608.8 733.9 L609.8 736.4 L611.8 743.2 L613.8 752.4 L617.8 775.9 L628.8 849.8 L632.3 869.6 L635.3 883.9 L638.8 897.3 L642.3 907.5 L644.3 912 L646.3 915.7 L648.3 918.7 L650.3 921.1 L652.3 923.1 L654.8 924.9 L657.3 926.3 L660.3 927.5 L666.8 929 L676.8 930.1 L693.8 931 L717.8 931.7 L794.8 932.4" fill="none" stroke="#cc1a00" stroke-width="3.3" stroke-linejoin="round" stroke-linecap="round"/>
<path d="M254.3 932.7 L294.8 932.7 L306.8 932.4 L311.8 932 L315.8 931.4 L319.8 930.4 L323.3 929.1 L327.8 926.7 L332.3 923.6 L336.8 919.8 L339.8 916.5 L341.8 913.5 L343.8 909.4 L349.8 893.4 L351.3 891 L352.3 890.4 L353.3 890.6 L354.8 892.4 L356.3 895.4 L361.8 909.2 L364.3 913.5 L366.8 916.3 L369.8 918.9 L373.8 921.7 L381.8 926.6 L385.3 928.2 L388.8 929.5 L395.8 931.2 L405.3 932.2 L420.3 932.5 L485.3 932.2 L525.3 931.6 L540.3 931 L548.8 930.1 L554.8 928.7 L557.3 927.7 L559.3 926.5 L561.8 924.6 L564.3 921.8 L566.8 918 L568.8 914.1 L570.8 909.1 L572.8 903 L574.8 895.6 L576.8 886.8 L580.3 867.7 L583.8 844 L587.3 816.5 L594.8 752.9 L598.8 723.9 L600.8 712.7 L602.8 704.5 L603.8 701.6 L604.8 699.7 L605.8 698.7 L606.3 698.5 L607.3 698.9 L608.3 700.1 L609.3 702.1 L610.3 705 L612.3 713.1 L614.3 723.9 L618.3 751.3 L629.3 837.1 L632.8 860 L635.8 876.5 L639.3 892 L642.8 903.7 L644.8 908.9 L646.8 913.1 L648.8 916.6 L650.8 919.4 L652.8 921.6 L655.3 923.7 L657.8 925.3 L660.8 926.6 L667.3 928.4 L677.3 929.7 L694.3 930.7 L718.3 931.5 L750.3 932 L794.8 932.3" fill="none" stroke="#6e0012" stroke-width="3.3" stroke-linejoin="round" stroke-linecap="round"/>
<path d="M254.3 932.7 L306.8 932.6 L315.8 932.4 L323.3 931.9 L332.3 930.8 L339.8 929.3 L343.8 927.8 L349.8 924.5 L352.3 923.9 L353.8 924 L355.3 924.4 L360.8 927.3 L363.3 928.3 L369.8 929.8 L379.3 931.1 L387.3 931.8 L395.8 932.3 L406.8 932.5 L489.3 932.1 L515.8 931.7 L535.3 931.1 L545.8 930.4 L552.8 929.4 L555.8 928.6 L558.3 927.7 L562.3 925.3 L564.8 922.9 L567.3 919.6 L569.8 915.1 L571.8 910.3 L573.8 904.4 L575.8 897 L577.8 888.1 L579.8 877.5 L583.3 854.6 L586.8 826.2 L590.3 793.1 L597.8 716.8 L601.8 682 L603.8 668.5 L605.8 658.7 L606.8 655.3 L607.8 652.9 L608.8 651.7 L609.3 651.5 L610.3 651.9 L611.3 653.4 L612.3 655.9 L613.3 659.4 L615.3 669.1 L617.3 682 L621.3 714.9 L632.3 817.9 L635.8 845.4 L638.8 865.2 L642.3 883.8 L645.8 897.8 L647.8 904.1 L649.8 909.2 L651.8 913.4 L653.8 916.7 L655.8 919.3 L658.3 921.9 L660.8 923.8 L663.3 925.2 L666.3 926.4 L669.8 927.4 L674.3 928.3 L679.8 929 L696.3 930.3 L719.8 931.2 L751.3 931.8 L794.8 932.2" fill="none" stroke="#ff0000" stroke-width="3.3" stroke-linejoin="round" stroke-linecap="round"/>
<line x1="108" y1="653.9" x2="176.5" y2="653.9" stroke="#f0c262" stroke-width="3.6"/>
<text x="190" y="666.5" font-size="35" text-anchor="start" fill="#000">10 wt %</text>
<line x1="108" y1="689.8" x2="176.5" y2="689.8" stroke="#f9806f" stroke-width="3.6"/>
<text x="190" y="702.4" font-size="35" text-anchor="start" fill="#000">20 wt %</text>
<line x1="108" y1="725.6" x2="176.5" y2="725.6" stroke="#cc1a00" stroke-width="3.6"/>
<text x="190" y="738.2" font-size="35" text-anchor="start" fill="#000">30 wt %</text>
<line x1="108" y1="761.5" x2="176.5" y2="761.5" stroke="#6e0012" stroke-width="3.6"/>
<text x="190" y="774.1" font-size="35" text-anchor="start" fill="#000">40 wt %</text>
<line x1="108" y1="797.3" x2="176.5" y2="797.3" stroke="#ff0000" stroke-width="3.6"/>
<text x="190" y="809.9" font-size="35" text-anchor="start" fill="#000">50 wt %</text>
<rect x="408" y="693" width="21" height="173" fill="url(#arrowc)"/>
<path d="M398 865 L439 865 L418.5 886 Z" fill="#1414ff"/>
<rect x="954.8" y="620.8" width="717.9" height="354" fill="none" stroke="#000" stroke-width="1.5"/>
<line x1="1034.9" y1="974.8" x2="1034.9" y2="967.3" stroke="#000" stroke-width="1.5"/>
<text x="1033.4" y="1012.9" font-size="35.4" text-anchor="middle" fill="#000">400</text>
<line x1="1194.4" y1="974.8" x2="1194.4" y2="967.3" stroke="#000" stroke-width="1.5"/>
<text x="1192.9" y="1012.9" font-size="35.4" text-anchor="middle" fill="#000">500</text>
<line x1="1353.9" y1="974.8" x2="1353.9" y2="967.3" stroke="#000" stroke-width="1.5"/>
<text x="1352.4" y="1012.9" font-size="35.4" text-anchor="middle" fill="#000">600</text>
<line x1="1513.4" y1="974.8" x2="1513.4" y2="967.3" stroke="#000" stroke-width="1.5"/>
<text x="1511.9" y="1012.9" font-size="35.4" text-anchor="middle" fill="#000">700</text>
<line x1="1672.9" y1="974.8" x2="1672.9" y2="967.3" stroke="#000" stroke-width="1.5"/>
<text x="1668.9" y="1012.9" font-size="35.4" text-anchor="middle" fill="#000">800</text>
<line x1="1114.7" y1="974.8" x2="1114.7" y2="970.8" stroke="#000" stroke-width="1.5"/>
<line x1="1274.2" y1="974.8" x2="1274.2" y2="970.8" stroke="#000" stroke-width="1.5"/>
<line x1="1433.7" y1="974.8" x2="1433.7" y2="970.8" stroke="#000" stroke-width="1.5"/>
<line x1="1593.2" y1="974.8" x2="1593.2" y2="970.8" stroke="#000" stroke-width="1.5"/>
<text x="1311" y="1064.4" font-size="35.7" text-anchor="middle" fill="#000">Wavelength (nm)</text>
<text x="932.3" y="795.7" font-size="35.7" text-anchor="middle" fill="#000" transform="rotate(-90 932.3 795.7)">EL Intensity (a.u)</text>
<path d="M1002 944.6 L1094.5 944.2 L1103.5 943.7 L1106.5 943.2 L1109 942.5 L1112 941.2 L1114.5 939.4 L1117 937 L1119.5 933.7 L1122 929.5 L1124.5 924.4 L1132 906.7 L1135 900.4 L1136.5 898 L1138 896.1 L1139.5 894.8 L1141 894.3 L1142.5 894.4 L1144 895.3 L1145.5 896.8 L1147 898.8 L1150 904.3 L1157.5 921.2 L1161.5 929.1 L1163.5 932.2 L1166 935.4 L1168 937.4 L1170.5 939.2 L1174 940.7 L1178.5 941.6 L1184.5 941.6 L1191 940.9 L1195.5 939.9 L1199.5 938.3 L1203 936 L1206 933 L1208.5 929.5 L1211 924.8 L1213 920 L1215 914 L1217 906.7 L1219 897.9 L1222.5 878.5 L1226 853.7 L1229.5 823.6 L1233 789.1 L1240.5 710 L1244.5 673.3 L1247 655.7 L1249 645.5 L1250 641.9 L1251 639.3 L1252 637.9 L1253 637.5 L1254 638.3 L1255 640 L1257 646.6 L1259 656.8 L1261 670.3 L1265 704.3 L1273.5 788.3 L1277 820.5 L1281 852.4 L1285 878.3 L1287 888.9 L1289.5 900 L1291.5 907.5 L1294 915.1 L1296.5 921 L1299.5 926.5 L1302.5 930.4 L1305.5 933.3 L1309 935.6 L1312.5 937.1 L1317 938.5 L1323 939.6 L1331 940.6 L1341 941.5 L1367.5 942.8 L1402.5 943.6 L1453 944.1 L1641.5 944.6" fill="none" stroke="#12d08e" stroke-width="3.3" stroke-linejoin="round" stroke-linecap="round"/>
<path d="M1002 944.6 L1094.5 944.3 L1103.5 944 L1109 943.1 L1112 942.2 L1114.5 940.9 L1117 939.2 L1119.5 936.9 L1122 933.9 L1124.5 930.3 L1132 917.7 L1135 913.3 L1138 910.2 L1139.5 909.3 L1141 908.9 L1142.5 909 L1144 909.6 L1145.5 910.7 L1147 912.1 L1150 916 L1157.5 928 L1161.5 933.5 L1163.5 935.8 L1166 938 L1168 939.4 L1170.5 940.7 L1174.5 941.9 L1179 942.4 L1185 942.3 L1191.5 941.7 L1196 940.8 L1200 939.5 L1203 937.9 L1206 935.6 L1208.5 932.9 L1211 929.2 L1213 925.5 L1215 920.8 L1217 915.1 L1219 908.3 L1222.5 893.2 L1226 873.8 L1229.5 850.4 L1233 823.5 L1240.5 761.9 L1244.5 733.3 L1247 719.6 L1249 711.6 L1250 708.8 L1251 706.8 L1252 705.7 L1253 705.4 L1254 706 L1255 707.4 L1257 712.5 L1259 720.5 L1261 730.9 L1265 757.4 L1273.5 822.9 L1277 847.9 L1281 872.8 L1285 893 L1287 901.2 L1289.5 909.9 L1291.5 915.7 L1294 921.6 L1296.5 926.3 L1299.5 930.5 L1302.5 933.6 L1305.5 935.8 L1309 937.6 L1312.5 938.8 L1317 939.9 L1323 940.8 L1341 942.2 L1367.5 943.2 L1402.5 943.9 L1453 944.3 L1641.5 944.7" fill="none" stroke="#7ad656" stroke-width="3.3" stroke-linejoin="round" stroke-linecap="round"/>
<path d="M1002 944.6 L1094.5 944.4 L1103.5 944.1 L1109 943.5 L1112 942.9 L1114.5 942 L1117 940.8 L1119.5 939.2 L1122 937.2 L1124.5 934.7 L1132 926.1 L1135 923.1 L1138 920.9 L1139.5 920.3 L1141 920.1 L1142.5 920.1 L1144 920.5 L1147 922.2 L1150 924.9 L1157.5 933 L1161.5 936.8 L1166 939.8 L1168.5 940.9 L1171 941.7 L1175 942.4 L1180 942.6 L1186.5 942.4 L1192.5 941.8 L1196.5 941 L1200 939.8 L1203 938.4 L1206 936.2 L1208.5 933.6 L1211 930.2 L1213 926.6 L1215 922.2 L1217 916.9 L1219 910.4 L1222.5 896.2 L1226 878 L1229.5 856 L1233 830.7 L1240.5 772.7 L1244.5 745.9 L1247 732.9 L1249 725.4 L1250 722.8 L1251 720.9 L1252 719.9 L1253 719.6 L1254 720.2 L1255 721.5 L1257 726.3 L1259 733.8 L1261 743.6 L1265 768.5 L1273.5 830.1 L1277 853.7 L1281 877.1 L1285 896 L1287 903.8 L1289.5 912 L1291.5 917.4 L1294 923 L1296.5 927.4 L1299.5 931.4 L1302.5 934.3 L1305.5 936.3 L1309 938 L1312.5 939.2 L1317 940.2 L1323 941 L1341 942.4 L1367.5 943.3 L1402.5 943.9 L1453 944.3 L1641.5 944.7" fill="none" stroke="#0cbb0c" stroke-width="3.3" stroke-linejoin="round" stroke-linecap="round"/>
<path d="M1002 944.6 L1093.5 944.4 L1103 944.3 L1109 943.9 L1114.5 942.9 L1119.5 941.3 L1124.5 938.5 L1135 931.5 L1138 930.2 L1141 929.6 L1144 929.9 L1147.5 931.1 L1150.5 932.8 L1158.5 937.9 L1163 940.3 L1167.5 941.8 L1172 942.6 L1176.5 942.9 L1182.5 942.8 L1189 942.4 L1194 941.8 L1198 940.9 L1201 939.9 L1203.5 938.6 L1206 936.9 L1208.5 934.6 L1211 931.4 L1213 928.2 L1215 924.2 L1217 919.3 L1219 913.4 L1222.5 900.4 L1226 883.8 L1229.5 863.6 L1233 840.5 L1240.5 787.5 L1244.5 762.9 L1247 751.1 L1249 744.2 L1250 741.8 L1251 740.1 L1252 739.1 L1253 738.9 L1254 739.4 L1255 740.6 L1257 745 L1259 751.9 L1261 760.9 L1265 783.7 L1273.5 839.9 L1277 861.5 L1281 882.9 L1285 900.2 L1287 907.3 L1289.5 914.8 L1291.5 919.8 L1294 924.9 L1296.5 928.9 L1299.5 932.5 L1302.5 935.2 L1305.5 937.1 L1309 938.6 L1312.5 939.7 L1317 940.6 L1323 941.3 L1341 942.6 L1367.5 943.5 L1402.5 944 L1453 944.4 L1641.5 944.7" fill="none" stroke="#067a06" stroke-width="3.3" stroke-linejoin="round" stroke-linecap="round"/>
<path d="M1002 944.7 L1065.5 944.5 L1086 944.2 L1099.5 943.3 L1124 940.4 L1135 939.7 L1143.5 940.2 L1158.5 942.2 L1165.5 942.9 L1173.5 943.2 L1182.5 943.1 L1191 942.6 L1197 941.8 L1202 940.3 L1206 938.3 L1208.5 936.3 L1211 933.7 L1213 931 L1215 927.7 L1217 923.6 L1219 918.7 L1222.5 907.9 L1226 894.1 L1229.5 877.4 L1233 858.2 L1240.5 814.2 L1244.5 793.8 L1247 784 L1249 778.3 L1251 774.9 L1252 774.1 L1253 773.9 L1254 774.3 L1255 775.3 L1257 779 L1259 784.7 L1261 792.1 L1265 811 L1273.5 857.7 L1277 875.7 L1281 893.4 L1285 907.8 L1287 913.7 L1289.5 919.9 L1291.5 924 L1294 928.3 L1296.5 931.6 L1299.5 934.6 L1302.5 936.8 L1305.5 938.4 L1309 939.7 L1312.5 940.5 L1317 941.3 L1323 941.9 L1341 943 L1367.5 943.7 L1453 944.4 L1641.5 944.7" fill="none" stroke="#3f5a22" stroke-width="3.3" stroke-linejoin="round" stroke-linecap="round"/>
<line x1="1365.1" y1="660.9" x2="1433.6" y2="660.9" stroke="#12d08e" stroke-width="3.6"/>
<text x="1455.1" y="674.6" font-size="35.5">0% TiO<tspan font-size="24" dy="8.6">2</tspan></text>
<line x1="1365.1" y1="696.2" x2="1433.6" y2="696.2" stroke="#7ad656" stroke-width="3.6"/>
<text x="1454.4" y="709.4" font-size="35.5">2.5% TiO<tspan font-size="24" dy="8.6">2</tspan></text>
<line x1="1365.1" y1="731.5" x2="1433.6" y2="731.5" stroke="#0cbb0c" stroke-width="3.6"/>
<text x="1454.6" y="744.2" font-size="35.5">5.0% TiO<tspan font-size="24" dy="8.6">2</tspan></text>
<line x1="1365.1" y1="766.7" x2="1433.6" y2="766.7" stroke="#067a06" stroke-width="3.6"/>
<text x="1455.1" y="779" font-size="35.5">7.5% TiO<tspan font-size="24" dy="8.6">2</tspan></text>
<line x1="1365.1" y1="802" x2="1433.6" y2="802" stroke="#3f5a22" stroke-width="3.6"/>
<text x="1446.5" y="813.8" font-size="35.5">10.0% TiO<tspan font-size="24" dy="8.6">2</tspan></text>
<rect x="1076" y="870.5" width="18.5" height="48" fill="url(#arrowc)"/>
<path d="M1064 918.3 L1105.2 918.3 L1084.7 939.5 Z" fill="#1414ff"/>
<g transform="translate(0 1140) scale(0.26247)">
<clipPath id="clipOff"><rect x="8" y="15" width="1084" height="1570"/></clipPath>
<g clip-path="url(#clipOff)">
<rect x="0" y="0" width="1100" height="1600" fill="#d3bc93"/>
<g filter="url(#bz10)">
<path d="M160 -20 L1120 -20 L1120 395 L680 535 L390 548 L165 568 Z" fill="#4f4e45"/>
<path d="M-20 662 L390 642 L680 630 L1120 588 L1120 800 L680 822 L390 830 L-20 812 Z" fill="#4f4e45"/>
<path d="M-20 925 L390 902 L680 892 L1120 922 L1120 1100 L680 1078 L400 1058 L-20 1068 Z" fill="#4f4e45"/>
<path d="M178 1162 L420 1150 L680 1160 L1120 1290 L1120 1620 L215 1620 Z" fill="#4f4e45"/>
</g>
<g filter="url(#bz10)">
<rect x="388" y="500" width="288" height="214" fill="#9a5e54"/>
<rect x="400" y="512" width="264" height="190" fill="#8e6a5c"/>
<rect x="405" y="549" width="76" height="105" fill="#f2c08c"/>
<rect x="585" y="549" width="86" height="105" fill="#f2c08c"/>
<rect x="481" y="530" width="100" height="170" fill="#7c6a5c"/>
<rect x="388" y="758" width="283" height="209" fill="#b9d468"/>
<rect x="402" y="772" width="255" height="180" fill="#86bd4c"/>
<rect x="414" y="791" width="67" height="105" fill="#e6d84a"/>
<rect x="581" y="791" width="67" height="105" fill="#e6d84a"/>
<rect x="485" y="785" width="92" height="160" fill="#6fae44"/>
<rect x="424" y="1047" width="62" height="109" fill="#cdbf9c"/>
<rect x="581" y="1047" width="71" height="109" fill="#dcd4bc"/>
<rect x="490" y="1040" width="88" height="125" fill="#4a4a44"/>
<rect x="420" y="1156" width="225" height="32" fill="#8c8c82"/>
</g>
</g>
<rect x="740" y="1442" width="227" height="26" fill="#fff"/>
</g>
<rect x="3.2" y="1145.8" width="281.8" height="408.6" fill="none" stroke="#000" stroke-width="3.6"/>
<rect x="188.3" y="1148.5" width="94.8" height="64.6" fill="#fff" stroke="#000" stroke-width="3.4"/>
<text x="235.7" y="1193" font-size="35" text-anchor="middle" fill="#000">OFF</text>
<g transform="translate(290 1140) scale(0.26247)">
<clipPath id="clipOn"><rect x="25" y="18" width="1055" height="1562"/></clipPath>
<g clip-path="url(#clipOn)">
<rect x="0" y="0" width="1100" height="1600" fill="#2c1d2a"/>
<g filter="url(#bz16)">
<path d="M-20 -20 L185 -20 L192 600 L210 1620 L-20 1620 Z" fill="#6c4634"/>
<path d="M185 -20 L1120 -20 L1120 400 L690 525 L400 555 L192 585 Z" fill="#2a1a2e"/>
<path d="M-20 640 L400 628 L690 620 L1120 570 L1120 785 L690 820 L390 822 L-20 795 Z" fill="#2a1c32"/>
<path d="M-20 905 L390 880 L690 880 L1120 900 L1120 1155 L690 1072 L420 1064 L-20 1045 Z" fill="#221a48"/>
<path d="M-20 555 L400 545 L690 538 L1120 385 L1120 575 L690 625 L400 632 L-20 648 Z" fill="#6e5060"/>
<path d="M100 568 L400 550 L400 630 L100 640 Z" fill="url(#pinkband)"/>
<path d="M-20 788 L390 818 L690 818 L1120 778 L1120 905 L690 882 L390 882 L-20 912 Z" fill="#675262"/>
<path d="M-20 1040 L420 1062 L690 1070 L1120 1150 L1120 1295 L690 1150 L420 1132 L200 1132 L-20 1120 Z" fill="#675062"/>
<path d="M1120 380 L820 480 L820 570 L1120 560 Z" fill="#7a5646" opacity="0.75"/>
<path d="M1120 1150 L820 1095 L820 1240 L1120 1300 Z" fill="#7a5646" opacity="0.75"/>
<path d="M700 1200 L1120 1310 L1120 1620 L700 1620 Z" fill="#2e1e28"/>
</g>
<g filter="url(#bz50)">
<path d="M215 1170 L700 1170 L720 1620 L215 1620 Z" fill="url(#blueglow)"/>
<ellipse cx="515" cy="1190" rx="130" ry="90" fill="#0a06e0"/>
<ellipse cx="540" cy="430" rx="150" ry="90" fill="#6a1aa0"/>
</g>
<g filter="url(#bz16)">
<rect x="395" y="440" width="290" height="250" fill="#e01ed0"/>
<rect x="394" y="718" width="292" height="228" fill="#00e8b0"/>
<rect x="394" y="718" width="150" height="228" fill="#00f0e0" opacity="0.7"/>
<rect x="400" y="975" width="217" height="206" fill="#1a1af5"/>
</g>
<g filter="url(#bz10)">
<rect x="606" y="507" width="74" height="114" fill="#ff70a8"/>
<path d="M410 480 L470 470 L495 505 L603 505 L603 665 L410 668 Z" fill="#fff4fc"/>
<path d="M446 770 L515 760 L594 805 L594 885 L560 900 L446 900 Z" fill="#f4fff8"/>
<path d="M429 1012 L600 1025 L600 1170 L440 1172 L480 1105 L429 1065 Z" fill="#eaf6ff"/>
</g>
</g>
<rect x="720" y="1442" width="228" height="26" fill="#fff"/>
</g>
<rect x="297.9" y="1145.6" width="274.4" height="408" fill="none" stroke="#000" stroke-width="3.6"/>
<rect x="474.7" y="1148.5" width="96.8" height="65.3" fill="#fff" stroke="#000" stroke-width="3.4"/>
<text x="521.8" y="1193" font-size="35" text-anchor="middle" fill="#000">ON</text>
<rect x="671.3" y="1148.5" width="467.5" height="345.4" fill="none" stroke="#000" stroke-width="1.5"/>
<line x1="723.2" y1="1493.9" x2="723.2" y2="1486.4" stroke="#000" stroke-width="1.5"/>
<text x="723.2" y="1537.8" font-size="35.4" text-anchor="middle" fill="#000">400</text>
<line x1="827.1" y1="1493.9" x2="827.1" y2="1486.4" stroke="#000" stroke-width="1.5"/>
<text x="827.1" y="1537.8" font-size="35.4" text-anchor="middle" fill="#000">500</text>
<line x1="931" y1="1493.9" x2="931" y2="1486.4" stroke="#000" stroke-width="1.5"/>
<text x="931" y="1537.8" font-size="35.4" text-anchor="middle" fill="#000">600</text>
<line x1="1034.9" y1="1493.9" x2="1034.9" y2="1486.4" stroke="#000" stroke-width="1.5"/>
<text x="1034.9" y="1537.8" font-size="35.4" text-anchor="middle" fill="#000">700</text>
<line x1="1138.8" y1="1493.9" x2="1138.8" y2="1486.4" stroke="#000" stroke-width="1.5"/>
<text x="1138.8" y="1537.8" font-size="35.4" text-anchor="middle" fill="#000">800</text>
<line x1="775.2" y1="1493.9" x2="775.2" y2="1489.9" stroke="#000" stroke-width="1.5"/>
<line x1="879.1" y1="1493.9" x2="879.1" y2="1489.9" stroke="#000" stroke-width="1.5"/>
<line x1="983" y1="1493.9" x2="983" y2="1489.9" stroke="#000" stroke-width="1.5"/>
<line x1="1086.9" y1="1493.9" x2="1086.9" y2="1489.9" stroke="#000" stroke-width="1.5"/>
<text x="905.9" y="1590" font-size="35.7" text-anchor="middle" fill="#000">Wavelength (nm)</text>
<text x="644.8" y="1322.9" font-size="35.7" text-anchor="middle" fill="#000" transform="rotate(-90 644.8 1322.9)">EL Intensity (a.u)</text>
<path d="M702 1465.2 L761.5 1465.1 L766.5 1464.9 L769 1464.3 L771 1462.9 L772.5 1461.2 L776.5 1455.4 L777.5 1454.5 L778.5 1454.1 L780 1454.4 L781.5 1455.4 L787 1461.1 L790 1463.4 L793.5 1464.6 L798 1465.1 L881.5 1464.9 L922.5 1464.2 L929.5 1463.8 L934 1463 L937.5 1461.6 L940.5 1459.3 L942.5 1456.8 L944.5 1453.1 L946 1449.4 L947.5 1444.6 L949 1438.5 L950.5 1431 L953.5 1411.1 L956 1388.7 L959 1355.1 L967 1245.3 L970 1209.6 L971.5 1195.9 L973 1185.7 L974.5 1179.7 L975.5 1178.1 L976 1178 L976.5 1178.5 L977.5 1180.8 L979 1187.7 L980.5 1198.4 L982 1212.3 L985 1247.4 L992.5 1346.2 L995 1374.3 L997.5 1397.9 L1000 1416.7 L1002.5 1431.1 L1005.5 1443.2 L1007 1447.5 L1008.5 1451 L1010 1453.7 L1011.5 1455.8 L1013 1457.4 L1015 1459 L1017 1460.2 L1019.5 1461.1 L1026 1462.4 L1038 1463.4 L1056.5 1464.1 L1082 1464.5 L1118.5 1464.8" fill="none" stroke="#ff0000" stroke-width="4.5" stroke-linejoin="round" stroke-linecap="round"/>
<path d="M702 1463.4 L756 1463.2 L766.5 1462.8 L770 1462.2 L773.5 1461.2 L777 1459.7 L785.5 1455 L788 1454.2 L790 1454 L791.5 1454.1 L793.5 1454.8 L801.5 1459.8 L803.5 1460.8 L806 1461.6 L808.5 1462.1 L812 1462.3 L821.5 1462 L828.5 1461.2 L832.5 1460 L834.5 1458.9 L836 1457.6 L838.5 1454.2 L840 1451.1 L841.5 1446.8 L844 1436.4 L846.5 1420.4 L848.5 1402.9 L850.5 1380.7 L852.5 1353.8 L859.5 1240.7 L861.5 1212.2 L863 1195.1 L864 1186.5 L865.5 1178.4 L866 1177 L866.5 1176.4 L867 1176.4 L867.5 1177.2 L868 1178.6 L869 1183.4 L870 1190.6 L871.5 1205.6 L874 1238.7 L881.5 1353.2 L884 1384 L886 1404 L888.5 1423.2 L890 1431.9 L891.5 1438.8 L893 1444.2 L894.5 1448.3 L896.5 1452.3 L898.5 1455 L900.5 1456.8 L902.5 1458 L905 1459 L908.5 1459.9 L919.5 1461.2 L936 1462.1 L958.5 1462.7 L991 1463.1 L1118.5 1463.4" fill="none" stroke="#00ee00" stroke-width="4.5" stroke-linejoin="round" stroke-linecap="round"/>
<path d="M702 1465.8 L735 1465.7 L740 1465.2 L744 1464 L746 1463 L748 1461.3 L749.5 1459.6 L751 1457.4 L752.5 1454.6 L754 1451 L756.5 1443 L759 1432 L761.5 1416.8 L763.5 1400.7 L765.5 1380.1 L767 1361.1 L769 1330.6 L774 1237.9 L776 1205.3 L777 1193 L778 1184.2 L779 1179.4 L779.5 1178.6 L780 1178.9 L781 1182.3 L782 1189.4 L783 1199.6 L785 1227.7 L789.5 1304.2 L792 1341.6 L794.5 1371.3 L797.5 1397.9 L799.5 1411.5 L801.5 1422.7 L803.5 1432.1 L806 1441.5 L808.5 1448.7 L811 1454.2 L813.5 1458.1 L816.5 1461.3 L819.5 1463.3 L823.5 1464.7 L828.5 1465.5 L835.5 1465.8 L1118.5 1465.8" fill="none" stroke="#0000ff" stroke-width="4.5" stroke-linejoin="round" stroke-linecap="round"/>
<g clip-path="url(#cieclip)"><g filter="url(#bl1)"><rect x="1306.3" y="1151.2" width="359.3" height="3.6" fill="url(#cg0)"/><rect x="1306.3" y="1154.2" width="359.3" height="3.6" fill="url(#cg1)"/><rect x="1306.3" y="1157.2" width="359.3" height="3.6" fill="url(#cg2)"/><rect x="1306.3" y="1160.2" width="359.3" height="3.6" fill="url(#cg3)"/><rect x="1306.3" y="1163.2" width="359.3" height="3.6" fill="url(#cg4)"/><rect x="1306.3" y="1166.2" width="359.3" height="3.6" fill="url(#cg5)"/><rect x="1306.3" y="1169.2" width="359.3" height="3.6" fill="url(#cg6)"/><rect x="1306.3" y="1172.2" width="359.3" height="3.6" fill="url(#cg7)"/><rect x="1306.3" y="1175.2" width="359.3" height="3.6" fill="url(#cg8)"/><rect x="1306.3" y="1178.2" width="359.3" height="3.6" fill="url(#cg9)"/><rect x="1306.3" y="1181.2" width="359.3" height="3.6" fill="url(#cg10)"/><rect x="1306.3" y="1184.2" width="359.3" height="3.6" fill="url(#cg11)"/><rect x="1306.3" y="1187.2" width="359.3" height="3.6" fill="url(#cg12)"/><rect x="1306.3" y="1190.2" width="359.3" height="3.6" fill="url(#cg13)"/><rect x="1306.3" y="1193.2" width="359.3" height="3.6" fill="url(#cg14)"/><rect x="1306.3" y="1196.2" width="359.3" height="3.6" fill="url(#cg15)"/><rect x="1306.3" y="1199.2" width="359.3" height="3.6" fill="url(#cg16)"/><rect x="1306.3" y="1202.2" width="359.3" height="3.6" fill="url(#cg17)"/><rect x="1306.3" y="1205.2" width="359.3" height="3.6" fill="url(#cg18)"/><rect x="1306.3" y="1208.2" width="359.3" height="3.6" fill="url(#cg19)"/><rect x="1306.3" y="1211.2" width="359.3" height="3.6" fill="url(#cg20)"/><rect x="1306.3" y="1214.2" width="359.3" height="3.6" fill="url(#cg21)"/><rect x="1306.3" y="1217.2" width="359.3" height="3.6" fill="url(#cg22)"/><rect x="1306.3" y="1220.2" width="359.3" height="3.6" fill="url(#cg23)"/><rect x="1306.3" y="1223.2" width="359.3" height="3.6" fill="url(#cg24)"/><rect x="1306.3" y="1226.2" width="359.3" height="3.6" fill="url(#cg25)"/><rect x="1306.3" y="1229.2" width="359.3" height="3.6" fill="url(#cg26)"/><rect x="1306.3" y="1232.2" width="359.3" height="3.6" fill="url(#cg27)"/><rect x="1306.3" y="1235.2" width="359.3" height="3.6" fill="url(#cg28)"/><rect x="1306.3" y="1238.2" width="359.3" height="3.6" fill="url(#cg29)"/><rect x="1306.3" y="1241.2" width="359.3" height="3.6" fill="url(#cg30)"/><rect x="1306.3" y="1244.2" width="359.3" height="3.6" fill="url(#cg31)"/><rect x="1306.3" y="1247.2" width="359.3" height="3.6" fill="url(#cg32)"/><rect x="1306.3" y="1250.2" width="359.3" height="3.6" fill="url(#cg33)"/><rect x="1306.3" y="1253.2" width="359.3" height="3.6" fill="url(#cg34)"/><rect x="1306.3" y="1256.2" width="359.3" height="3.6" fill="url(#cg35)"/><rect x="1306.3" y="1259.2" width="359.3" height="3.6" fill="url(#cg36)"/><rect x="1306.3" y="1262.2" width="359.3" height="3.6" fill="url(#cg37)"/><rect x="1306.3" y="1265.2" width="359.3" height="3.6" fill="url(#cg38)"/><rect x="1306.3" y="1268.2" width="359.3" height="3.6" fill="url(#cg39)"/><rect x="1306.3" y="1271.2" width="359.3" height="3.6" fill="url(#cg40)"/><rect x="1306.3" y="1274.2" width="359.3" height="3.6" fill="url(#cg41)"/><rect x="1306.3" y="1277.2" width="359.3" height="3.6" fill="url(#cg42)"/><rect x="1306.3" y="1280.2" width="359.3" height="3.6" fill="url(#cg43)"/><rect x="1306.3" y="1283.2" width="359.3" height="3.6" fill="url(#cg44)"/><rect x="1306.3" y="1286.2" width="359.3" height="3.6" fill="url(#cg45)"/><rect x="1306.3" y="1289.2" width="359.3" height="3.6" fill="url(#cg46)"/><rect x="1306.3" y="1292.2" width="359.3" height="3.6" fill="url(#cg47)"/><rect x="1306.3" y="1295.2" width="359.3" height="3.6" fill="url(#cg48)"/><rect x="1306.3" y="1298.2" width="359.3" height="3.6" fill="url(#cg49)"/><rect x="1306.3" y="1301.2" width="359.3" height="3.6" fill="url(#cg50)"/><rect x="1306.3" y="1304.2" width="359.3" height="3.6" fill="url(#cg51)"/><rect x="1306.3" y="1307.2" width="359.3" height="3.6" fill="url(#cg52)"/><rect x="1306.3" y="1310.2" width="359.3" height="3.6" fill="url(#cg53)"/><rect x="1306.3" y="1313.2" width="359.3" height="3.6" fill="url(#cg54)"/><rect x="1306.3" y="1316.2" width="359.3" height="3.6" fill="url(#cg55)"/><rect x="1306.3" y="1319.2" width="359.3" height="3.6" fill="url(#cg56)"/><rect x="1306.3" y="1322.2" width="359.3" height="3.6" fill="url(#cg57)"/><rect x="1306.3" y="1325.2" width="359.3" height="3.6" fill="url(#cg58)"/><rect x="1306.3" y="1328.2" width="359.3" height="3.6" fill="url(#cg59)"/><rect x="1306.3" y="1331.2" width="359.3" height="3.6" fill="url(#cg60)"/><rect x="1306.3" y="1334.2" width="359.3" height="3.6" fill="url(#cg61)"/><rect x="1306.3" y="1337.2" width="359.3" height="3.6" fill="url(#cg62)"/><rect x="1306.3" y="1340.2" width="359.3" height="3.6" fill="url(#cg63)"/><rect x="1306.3" y="1343.2" width="359.3" height="3.6" fill="url(#cg64)"/><rect x="1306.3" y="1346.2" width="359.3" height="3.6" fill="url(#cg65)"/><rect x="1306.3" y="1349.2" width="359.3" height="3.6" fill="url(#cg66)"/><rect x="1306.3" y="1352.2" width="359.3" height="3.6" fill="url(#cg67)"/><rect x="1306.3" y="1355.2" width="359.3" height="3.6" fill="url(#cg68)"/><rect x="1306.3" y="1358.2" width="359.3" height="3.6" fill="url(#cg69)"/><rect x="1306.3" y="1361.2" width="359.3" height="3.6" fill="url(#cg70)"/><rect x="1306.3" y="1364.2" width="359.3" height="3.6" fill="url(#cg71)"/><rect x="1306.3" y="1367.2" width="359.3" height="3.6" fill="url(#cg72)"/><rect x="1306.3" y="1370.2" width="359.3" height="3.6" fill="url(#cg73)"/><rect x="1306.3" y="1373.2" width="359.3" height="3.6" fill="url(#cg74)"/><rect x="1306.3" y="1376.2" width="359.3" height="3.6" fill="url(#cg75)"/><rect x="1306.3" y="1379.2" width="359.3" height="3.6" fill="url(#cg76)"/><rect x="1306.3" y="1382.2" width="359.3" height="3.6" fill="url(#cg77)"/><rect x="1306.3" y="1385.2" width="359.3" height="3.6" fill="url(#cg78)"/><rect x="1306.3" y="1388.2" width="359.3" height="3.6" fill="url(#cg79)"/><rect x="1306.3" y="1391.2" width="359.3" height="3.6" fill="url(#cg80)"/><rect x="1306.3" y="1394.2" width="359.3" height="3.6" fill="url(#cg81)"/><rect x="1306.3" y="1397.2" width="359.3" height="3.6" fill="url(#cg82)"/><rect x="1306.3" y="1400.2" width="359.3" height="3.6" fill="url(#cg83)"/><rect x="1306.3" y="1403.2" width="359.3" height="3.6" fill="url(#cg84)"/><rect x="1306.3" y="1406.2" width="359.3" height="3.6" fill="url(#cg85)"/><rect x="1306.3" y="1409.2" width="359.3" height="3.6" fill="url(#cg86)"/><rect x="1306.3" y="1412.2" width="359.3" height="3.6" fill="url(#cg87)"/><rect x="1306.3" y="1415.2" width="359.3" height="3.6" fill="url(#cg88)"/><rect x="1306.3" y="1418.2" width="359.3" height="3.6" fill="url(#cg89)"/><rect x="1306.3" y="1421.2" width="359.3" height="3.6" fill="url(#cg90)"/><rect x="1306.3" y="1424.2" width="359.3" height="3.6" fill="url(#cg91)"/><rect x="1306.3" y="1427.2" width="359.3" height="3.6" fill="url(#cg92)"/><rect x="1306.3" y="1430.2" width="359.3" height="3.6" fill="url(#cg93)"/><rect x="1306.3" y="1433.2" width="359.3" height="3.6" fill="url(#cg94)"/><rect x="1306.3" y="1436.2" width="359.3" height="3.6" fill="url(#cg95)"/><rect x="1306.3" y="1439.2" width="359.3" height="3.6" fill="url(#cg96)"/><rect x="1306.3" y="1442.2" width="359.3" height="3.6" fill="url(#cg97)"/><rect x="1306.3" y="1445.2" width="359.3" height="3.6" fill="url(#cg98)"/><rect x="1306.3" y="1448.2" width="359.3" height="3.6" fill="url(#cg99)"/><rect x="1306.3" y="1451.2" width="359.3" height="3.6" fill="url(#cg100)"/><rect x="1306.3" y="1454.2" width="359.3" height="3.6" fill="url(#cg101)"/><rect x="1306.3" y="1457.2" width="359.3" height="3.6" fill="url(#cg102)"/><rect x="1306.3" y="1460.2" width="359.3" height="3.6" fill="url(#cg103)"/><rect x="1306.3" y="1463.2" width="359.3" height="3.6" fill="url(#cg104)"/><rect x="1306.3" y="1466.2" width="359.3" height="3.6" fill="url(#cg105)"/><rect x="1306.3" y="1469.2" width="359.3" height="3.6" fill="url(#cg106)"/><rect x="1306.3" y="1472.2" width="359.3" height="3.6" fill="url(#cg107)"/><rect x="1306.3" y="1475.2" width="359.3" height="3.6" fill="url(#cg108)"/><rect x="1306.3" y="1478.2" width="359.3" height="3.6" fill="url(#cg109)"/><rect x="1306.3" y="1481.2" width="359.3" height="3.6" fill="url(#cg110)"/><rect x="1306.3" y="1484.2" width="359.3" height="3.6" fill="url(#cg111)"/><rect x="1306.3" y="1487.2" width="359.3" height="3.6" fill="url(#cg112)"/><rect x="1306.3" y="1490.2" width="359.3" height="3.6" fill="url(#cg113)"/></g></g>
<path d="M1390.8 1490.4 C1390.8 1490.4 1390.8 1490.4 1390.8 1490.4 C1390.8 1490.4 1390.7 1490.4 1390.7 1490.4 C1390.6 1490.4 1390.6 1490.4 1390.6 1490.4 C1390.5 1490.4 1390.5 1490.4 1390.4 1490.5 C1390.4 1490.5 1390.3 1490.5 1390.3 1490.5 C1390.2 1490.5 1390.2 1490.5 1390.1 1490.5 C1390 1490.5 1390 1490.5 1389.9 1490.5 C1389.8 1490.4 1389.7 1490.4 1389.5 1490.3 C1389.4 1490.3 1389.2 1490.2 1389 1490 C1388.8 1489.9 1388.6 1489.8 1388.3 1489.6 C1388 1489.4 1387.7 1489.2 1387.3 1488.9 C1387 1488.6 1386.6 1488.3 1386.1 1488 C1385.6 1487.6 1385.1 1487.3 1384.5 1486.8 C1383.9 1486.3 1383.1 1485.8 1382.3 1485.2 C1381.5 1484.6 1380.6 1484 1379.6 1483.2 C1378.6 1482.4 1377.5 1481.5 1376.2 1480.3 C1375 1479.2 1373.7 1478.1 1372.1 1476.2 C1370.5 1474.3 1368.6 1472.1 1366.6 1468.9 C1364.5 1465.7 1362.2 1462.2 1359.5 1457.1 C1356.9 1452.1 1353.9 1446.2 1350.6 1438.5 C1347.3 1430.8 1343.4 1421.9 1339.7 1410.9 C1335.9 1399.9 1332 1386.9 1328.3 1372.6 C1324.7 1358.2 1320.7 1341.2 1317.7 1324.8 C1314.7 1308.3 1311.9 1290.1 1310.3 1273.7 C1308.7 1257.3 1307.7 1240.8 1308.2 1226.4 C1308.7 1212.1 1310.2 1198.3 1313 1187.7 C1315.9 1177 1320.3 1168.2 1325.2 1162.6 C1330.1 1156.9 1336.3 1154.7 1342.4 1153.7 C1348.5 1152.7 1355.2 1154.9 1361.7 1156.8 C1368.2 1158.7 1375 1162 1381.4 1165 C1387.8 1168.1 1393.9 1171.4 1400 1174.9 C1406 1178.4 1411.9 1182.1 1417.8 1186 C1423.7 1189.9 1429.5 1194 1435.3 1198.2 C1441.2 1202.4 1446.9 1206.8 1452.7 1211.2 C1458.5 1215.6 1464.3 1220.2 1470.1 1224.8 C1475.8 1229.3 1481.7 1234 1487.4 1238.7 C1493.2 1243.4 1499 1248.2 1504.7 1252.9 C1510.5 1257.6 1516.2 1262.4 1521.9 1267.1 C1527.6 1271.8 1533.2 1276.5 1538.8 1281.1 C1544.3 1285.7 1549.8 1290.3 1555.1 1294.7 C1560.5 1299.2 1565.7 1303.6 1570.8 1307.8 C1575.9 1312 1580.9 1316.2 1585.6 1320.1 C1590.3 1324 1594.8 1327.8 1599 1331.3 C1603.2 1334.8 1607 1338 1610.7 1341.1 C1614.4 1344.1 1617.9 1347.1 1621 1349.7 C1624.1 1352.3 1627 1354.6 1629.5 1356.7 C1632.1 1358.9 1634.4 1360.8 1636.5 1362.5 C1638.6 1364.3 1640.4 1365.8 1642 1367.2 C1643.7 1368.5 1645.1 1369.7 1646.4 1370.8 C1647.8 1371.9 1648.9 1372.9 1650 1373.8 C1651.1 1374.7 1652 1375.5 1652.9 1376.3 C1653.8 1377 1654.6 1377.7 1655.4 1378.3 C1656.1 1378.9 1656.8 1379.4 1657.3 1379.9 C1657.9 1380.3 1658.3 1380.7 1658.8 1381.1 C1659.2 1381.5 1659.6 1381.8 1659.9 1382 C1660.2 1382.3 1660.5 1382.5 1660.7 1382.7 C1660.9 1382.9 1661.1 1383 1661.2 1383.2 C1661.4 1383.3 1661.5 1383.4 1661.7 1383.5 C1661.9 1383.7 1662.1 1383.9 1662.4 1384.1 C1662.6 1384.3 1662.9 1384.5 1663 1384.6 Z" fill="none" stroke="#333" stroke-width="1.2"/>
<rect x="1281.3" y="1147.1" width="388.9" height="345.9" fill="none" stroke="#6a6a6a" stroke-width="1.8"/>
<line x1="1306.3" y1="1493" x2="1306.3" y2="1486" stroke="#555" stroke-width="1.5"/>
<text x="1306.8" y="1537.9" font-size="35.4" text-anchor="middle" fill="#000">0.0</text>
<line x1="1403.4" y1="1493" x2="1403.4" y2="1486" stroke="#555" stroke-width="1.5"/>
<text x="1403.9" y="1537.9" font-size="35.4" text-anchor="middle" fill="#000">0.2</text>
<line x1="1500.5" y1="1493" x2="1500.5" y2="1486" stroke="#555" stroke-width="1.5"/>
<text x="1502.5" y="1537.9" font-size="35.4" text-anchor="middle" fill="#000">0.4</text>
<line x1="1597.6" y1="1493" x2="1597.6" y2="1486" stroke="#555" stroke-width="1.5"/>
<text x="1599.6" y="1537.9" font-size="35.4" text-anchor="middle" fill="#000">0.6</text>
<line x1="1354.8" y1="1493" x2="1354.8" y2="1489" stroke="#555" stroke-width="1.5"/>
<line x1="1452" y1="1493" x2="1452" y2="1489" stroke="#555" stroke-width="1.5"/>
<line x1="1549" y1="1493" x2="1549" y2="1489" stroke="#555" stroke-width="1.5"/>
<line x1="1646.1" y1="1493" x2="1646.1" y2="1489" stroke="#555" stroke-width="1.5"/>
<line x1="1281.3" y1="1492.4" x2="1287.3" y2="1492.4" stroke="#555" stroke-width="1.5"/>
<text x="1268.5" y="1505" font-size="35.4" text-anchor="end" fill="#000">0.0</text>
<line x1="1281.3" y1="1411.2" x2="1287.3" y2="1411.2" stroke="#555" stroke-width="1.5"/>
<text x="1268.5" y="1423.8" font-size="35.4" text-anchor="end" fill="#000">0.2</text>
<line x1="1281.3" y1="1329.9" x2="1287.3" y2="1329.9" stroke="#555" stroke-width="1.5"/>
<text x="1268.5" y="1342.5" font-size="35.4" text-anchor="end" fill="#000">0.4</text>
<line x1="1281.3" y1="1248.7" x2="1287.3" y2="1248.7" stroke="#555" stroke-width="1.5"/>
<text x="1268.5" y="1261.3" font-size="35.4" text-anchor="end" fill="#000">0.6</text>
<line x1="1281.3" y1="1167.4" x2="1287.3" y2="1167.4" stroke="#555" stroke-width="1.5"/>
<text x="1268.5" y="1180" font-size="35.4" text-anchor="end" fill="#000">0.8</text>
<line x1="1281.3" y1="1451.8" x2="1285.3" y2="1451.8" stroke="#555" stroke-width="1.5"/>
<line x1="1281.3" y1="1370.5" x2="1285.3" y2="1370.5" stroke="#555" stroke-width="1.5"/>
<line x1="1281.3" y1="1289.3" x2="1285.3" y2="1289.3" stroke="#555" stroke-width="1.5"/>
<line x1="1281.3" y1="1208.1" x2="1285.3" y2="1208.1" stroke="#555" stroke-width="1.5"/>
<text x="1484" y="1593" font-size="35.7" text-anchor="middle" fill="#000">x</text>
<text x="1189.5" y="1320.9" font-size="35.7" text-anchor="middle" fill="#000" transform="rotate(-90 1189.5 1320.9)">y</text>
<path d="M1631.6 1358.4 L1408.3 1204 L1374.3 1459.9 Z" fill="none" stroke="#000" stroke-width="1.6" stroke-linejoin="miter"/>
<path d="M1617 1358.4 L1452 1248.7 L1379.1 1468 Z" fill="none" stroke="#8b1010" stroke-width="1.6" stroke-linejoin="miter"/>
<path d="M1648.3 1374.2 L1422.3 1206.8 L1375.2 1475.7 Z" fill="none" stroke="#2020ff" stroke-width="1.6" stroke-linejoin="miter"/>
<text x="1477" y="1198.8" font-size="35" text-anchor="middle" fill="#000">NTSC</text>
<text x="1561.8" y="1244.4" font-size="35" text-anchor="middle" fill="#0000ee">This work</text>
<text x="1613" y="1300.4" font-size="35" text-anchor="middle" fill="#8b0a0a">BT709</text>
</svg>
</body></html>
